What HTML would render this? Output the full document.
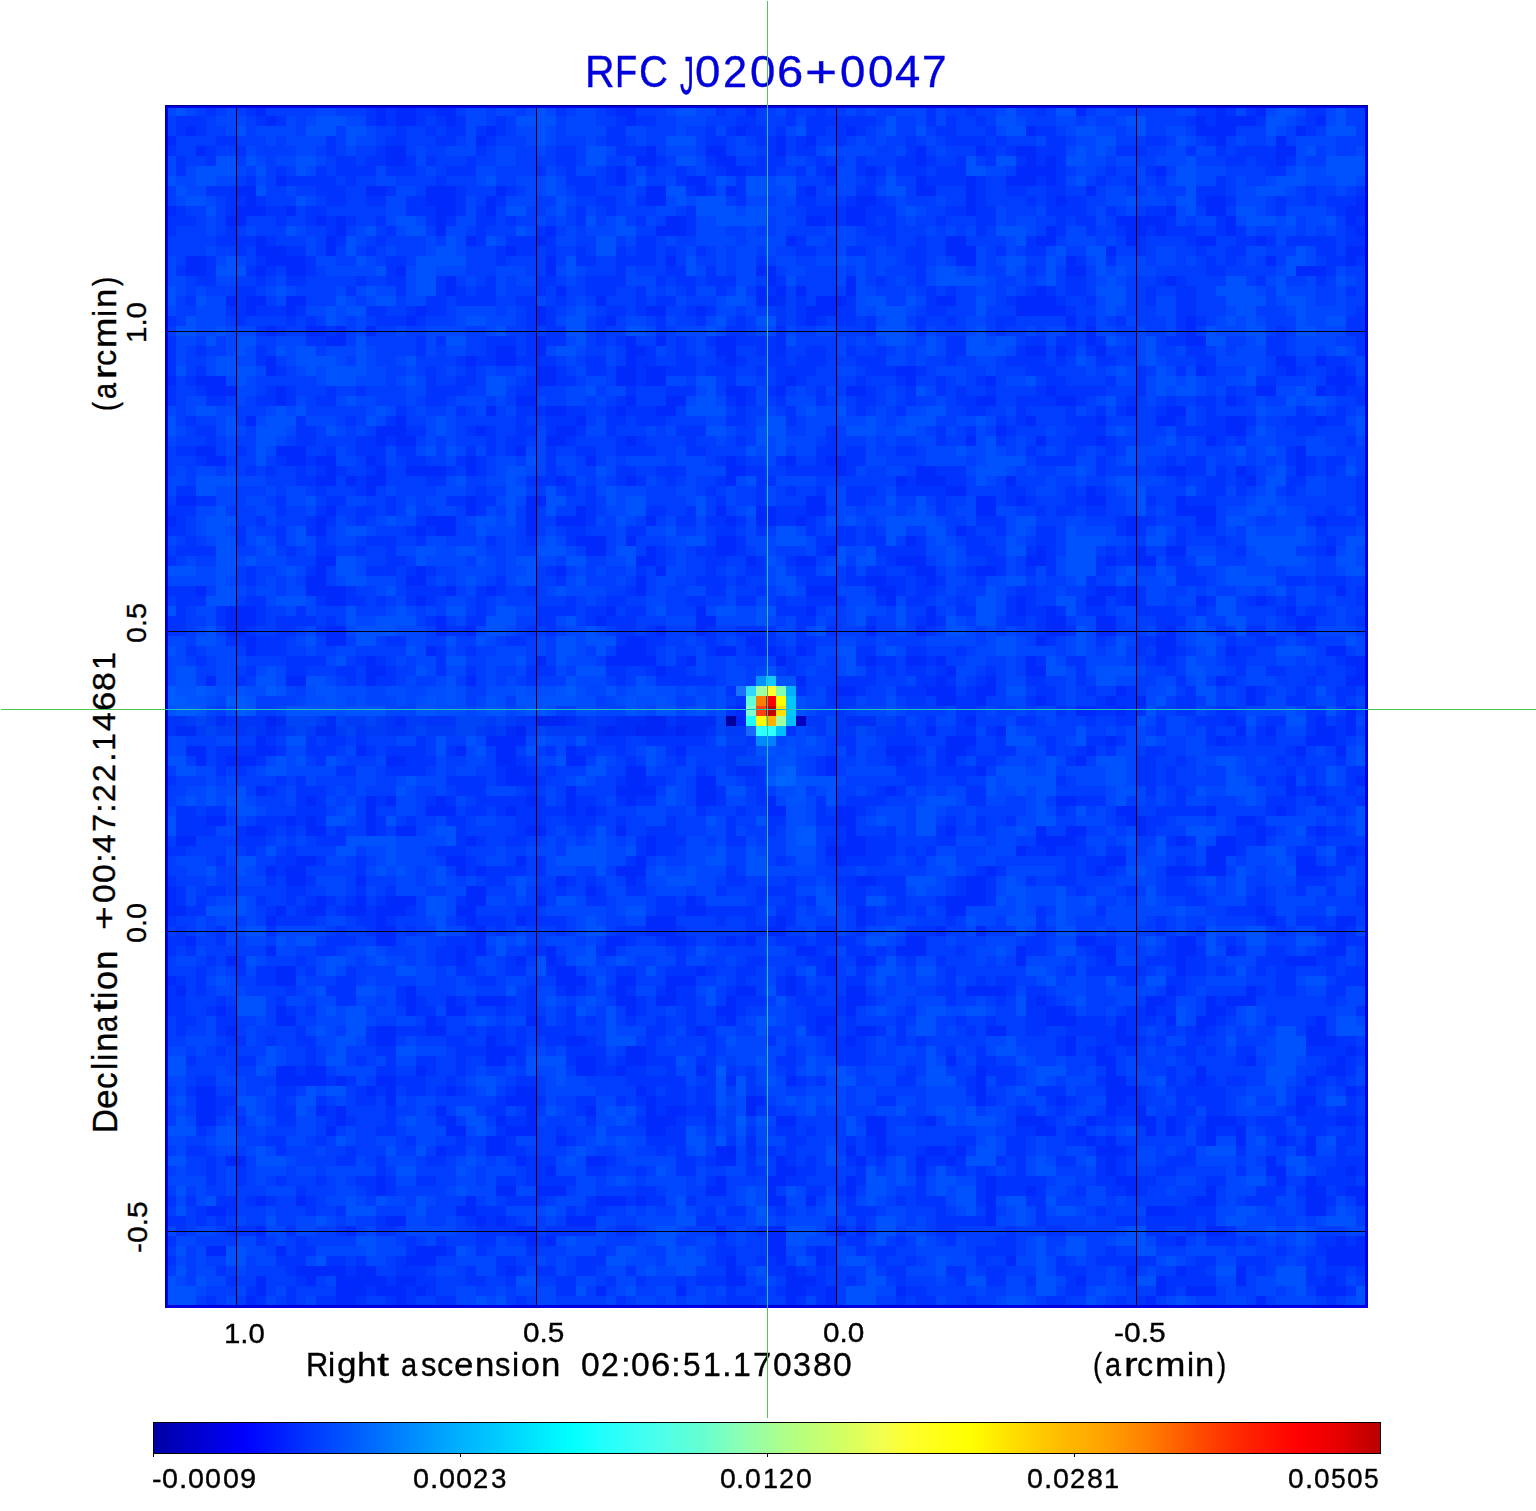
<!DOCTYPE html>
<html><head><meta charset="utf-8"><style>
html,body{margin:0;padding:0;background:#fff;width:1536px;height:1511px;overflow:hidden}
.a{position:absolute;display:block}
.t{position:absolute;font-family:"Liberation Sans",sans-serif;line-height:1;white-space:pre;transform-origin:0 0;-webkit-text-stroke:0.35px currentColor}
</style></head><body>
<svg class="a" style="left:166px;top:106px;filter:blur(0.6px)" width="1200" height="1200" viewBox="0 0 1200 1200"><rect width="1200" height="1200" fill="rgb(0,61,255)"/><path fill="rgb(0,41,252)" d="M90 0h10v10H90zM210 0h10v10H210zM230 0h20v10H230zM270 0h20v10H270zM450 0h20v10H450zM580 0h10v10H580zM910 0h10v10H910zM1050 0h10v10H1050zM1090 0h10v10H1090zM100 10h10v10H100zM210 10h10v10H210zM230 10h20v10H230zM280 10h10v10H280zM460 10h10v10H460zM1030 10h10v10H1030zM1050 10h40v10H1050zM1150 10h10v10H1150zM20 20h10v10H20zM320 20h10v10H320zM570 20h10v10H570zM680 20h10v10H680zM860 20h10v10H860zM1030 20h40v10H1030zM1130 20h10v10H1130zM0 30h10v10H0zM310 30h10v10H310zM610 30h10v10H610zM640 30h10v10H640zM1050 30h10v10H1050zM1110 30h10v10H1110zM30 40h10v10H30zM220 40h20v10H220zM480 40h10v10H480zM540 40h20v10H540zM610 40h10v10H610zM750 40h10v10H750zM810 40h10v10H810zM850 40h20v10H850zM1110 40h20v10H1110zM220 50h20v10H220zM470 50h20v10H470zM550 50h20v10H550zM750 50h10v10H750zM860 50h10v10H860zM880 50h10v10H880zM1110 50h10v10H1110zM450 60h10v10H450zM560 60h20v10H560zM660 60h10v10H660zM700 60h10v10H700zM850 60h40v10H850zM990 60h10v10H990zM110 70h10v10H110zM450 70h10v10H450zM520 70h20v10H520zM750 70h10v10H750zM800 70h10v10H800zM840 70h30v10H840zM880 70h10v10H880zM70 80h20v10H70zM200 80h20v10H200zM260 80h30v10H260zM330 80h10v10H330zM480 80h20v10H480zM530 80h10v10H530zM560 80h10v10H560zM640 80h10v10H640zM750 80h20v10H750zM800 80h10v10H800zM920 80h10v10H920zM80 90h10v10H80zM260 90h30v10H260zM320 90h10v10H320zM480 90h20v10H480zM690 90h20v10H690zM800 90h10v10H800zM890 90h10v10H890zM1040 90h20v10H1040zM1190 90h10v10H1190zM0 100h10v10H0zM70 100h30v10H70zM120 100h10v10H120zM270 100h20v10H270zM320 100h10v10H320zM680 100h20v10H680zM800 100h10v10H800zM1000 100h10v10H1000zM1040 100h20v10H1040zM1180 100h20v10H1180zM60 110h20v10H60zM150 110h10v10H150zM170 110h10v10H170zM270 110h10v10H270zM500 110h20v10H500zM640 110h20v10H640zM680 110h20v10H680zM950 110h50v10H950zM1060 110h10v10H1060zM1180 110h10v10H1180zM170 120h10v10H170zM270 120h10v10H270zM380 120h10v10H380zM490 120h30v10H490zM880 120h10v10H880zM960 120h20v10H960zM990 120h10v10H990zM1060 120h10v10H1060zM1190 120h10v10H1190zM90 130h10v10H90zM160 130h10v10H160zM300 130h10v10H300zM370 130h10v10H370zM620 130h10v10H620zM780 130h20v10H780zM870 130h20v10H870zM960 130h10v10H960zM1030 130h20v10H1030zM1090 130h10v10H1090zM90 140h30v10H90zM160 140h10v10H160zM340 140h10v10H340zM780 140h30v10H780zM940 140h10v10H940zM1180 140h20v10H1180zM20 150h20v10H20zM100 150h40v10H100zM380 150h10v10H380zM500 150h10v10H500zM790 150h20v10H790zM900 150h10v10H900zM1100 150h10v10H1100zM1180 150h10v10H1180zM20 160h20v10H20zM90 160h10v10H90zM120 160h20v10H120zM230 160h10v10H230zM380 160h10v10H380zM590 160h20v10H590zM900 160h20v10H900zM1130 160h30v10H1130zM280 170h10v10H280zM600 170h10v10H600zM680 170h10v10H680zM1000 170h10v10H1000zM280 180h10v10H280zM390 180h10v10H390zM590 180h10v10H590zM610 180h30v10H610zM680 180h10v10H680zM870 180h10v10H870zM60 190h10v10H60zM80 190h20v10H80zM120 190h20v10H120zM430 190h10v10H430zM590 190h20v10H590zM620 190h10v10H620zM650 190h30v10H650zM770 190h20v10H770zM850 190h40v10H850zM80 200h10v10H80zM120 200h10v10H120zM250 200h10v10H250zM370 200h10v10H370zM480 200h20v10H480zM530 200h10v10H530zM620 200h10v10H620zM640 200h30v10H640zM850 200h50v10H850zM240 210h10v10H240zM370 210h10v10H370zM440 210h10v10H440zM620 210h10v10H620zM640 210h10v10H640zM690 210h10v10H690zM900 210h10v10H900zM1020 210h10v10H1020zM100 220h10v10H100zM140 220h20v10H140zM170 220h10v10H170zM200 220h10v10H200zM920 220h10v10H920zM1020 220h10v10H1020zM160 230h20v10H160zM370 230h10v10H370zM460 230h10v10H460zM490 230h10v10H490zM550 230h20v10H550zM920 230h10v10H920zM1020 230h20v10H1020zM330 240h20v10H330zM370 240h10v10H370zM460 240h20v10H460zM550 240h20v10H550zM860 240h20v10H860zM890 240h10v10H890zM930 240h10v10H930zM100 250h10v10H100zM300 250h10v10H300zM330 250h20v10H330zM460 250h10v10H460zM560 250h10v10H560zM1110 250h20v10H1110zM1150 250h10v10H1150zM100 260h10v10H100zM370 260h20v10H370zM450 260h20v10H450zM480 260h20v10H480zM730 260h20v10H730zM1030 260h10v10H1030zM1120 260h10v10H1120zM1170 260h10v10H1170zM0 270h10v10H0zM30 270h30v10H30zM370 270h20v10H370zM450 270h20v10H450zM480 270h20v10H480zM620 270h10v10H620zM740 270h10v10H740zM820 270h10v10H820zM1160 270h30v10H1160zM40 280h30v10H40zM110 280h10v10H110zM560 280h20v10H560zM610 280h10v10H610zM680 280h20v10H680zM880 280h10v10H880zM1090 280h20v10H1090zM1150 280h10v10H1150zM1170 280h10v10H1170zM110 290h10v10H110zM350 290h20v10H350zM460 290h10v10H460zM500 290h20v10H500zM570 290h10v10H570zM810 290h20v10H810zM890 290h20v10H890zM1060 290h10v10H1060zM320 300h10v10H320zM380 300h20v10H380zM450 300h10v10H450zM490 300h20v10H490zM960 300h10v10H960zM1000 300h20v10H1000zM80 310h10v10H80zM230 310h10v10H230zM410 310h10v10H410zM860 310h10v10H860zM930 310h10v10H930zM990 310h20v10H990zM1060 310h20v10H1060zM1150 310h10v10H1150zM210 320h30v10H210zM310 320h10v10H310zM390 320h20v10H390zM830 320h10v10H830zM1060 320h20v10H1060zM210 330h10v10H210zM230 330h20v10H230zM380 330h20v10H380zM460 330h10v10H460zM800 330h10v10H800zM870 330h10v10H870zM930 330h10v10H930zM1040 330h10v10H1040zM30 340h20v10H30zM110 340h30v10H110zM350 340h10v10H350zM1130 340h10v10H1130zM40 350h20v10H40zM120 350h20v10H120zM150 350h20v10H150zM200 350h10v10H200zM300 350h10v10H300zM420 350h10v10H420zM560 350h10v10H560zM620 350h10v10H620zM660 350h20v10H660zM1130 350h10v10H1130zM160 360h10v10H160zM210 360h10v10H210zM240 360h40v10H240zM300 360h10v10H300zM560 360h20v10H560zM670 360h10v10H670zM750 360h20v10H750zM1000 360h20v10H1000zM1070 360h10v10H1070zM1130 360h10v10H1130zM150 370h20v10H150zM180 370h10v10H180zM200 370h20v10H200zM390 370h10v10H390zM460 370h10v10H460zM560 370h10v10H560zM730 370h10v10H730zM750 370h30v10H750zM840 370h10v10H840zM1080 370h10v10H1080zM200 380h10v10H200zM780 380h20v10H780zM920 380h10v10H920zM10 390h20v10H10zM300 390h10v10H300zM360 390h20v10H360zM640 390h20v10H640zM810 390h20v10H810zM850 390h10v10H850zM920 390h20v10H920zM1010 390h10v10H1010zM160 400h10v10H160zM300 400h10v10H300zM360 400h10v10H360zM410 400h10v10H410zM550 400h10v10H550zM590 400h20v10H590zM640 400h20v10H640zM810 400h20v10H810zM1010 400h40v10H1010zM0 410h10v10H0zM150 410h10v10H150zM260 410h30v10H260zM360 410h10v10H360zM390 410h30v10H390zM480 410h10v10H480zM560 410h10v10H560zM590 410h20v10H590zM630 410h10v10H630zM960 410h10v10H960zM1030 410h20v10H1030zM1150 410h10v10H1150zM150 420h10v10H150zM250 420h10v10H250zM270 420h20v10H270zM360 420h10v10H360zM790 420h10v10H790zM960 420h10v10H960zM410 430h30v10H410zM460 430h10v10H460zM550 430h20v10H550zM740 430h10v10H740zM420 440h20v10H420zM480 440h10v10H480zM550 440h20v10H550zM660 440h10v10H660zM870 440h10v10H870zM970 440h10v10H970zM1000 440h20v10H1000zM1160 440h10v10H1160zM150 450h20v10H150zM470 450h20v10H470zM580 450h10v10H580zM630 450h20v10H630zM730 450h30v10H730zM860 450h20v10H860zM940 450h10v10H940zM970 450h20v10H970zM150 460h10v10H150zM250 460h10v10H250zM390 460h10v10H390zM490 460h10v10H490zM750 460h20v10H750zM810 460h20v10H810zM140 470h20v10H140zM240 470h20v10H240zM470 470h10v10H470zM700 470h20v10H700zM760 470h10v10H760zM30 480h10v10H30zM140 480h40v10H140zM280 480h10v10H280zM320 480h10v10H320zM470 480h10v10H470zM640 480h30v10H640zM710 480h20v10H710zM930 480h20v10H930zM960 480h10v10H960zM1170 480h10v10H1170zM160 490h20v10H160zM250 490h10v10H250zM720 490h10v10H720zM850 490h10v10H850zM920 490h20v10H920zM960 490h10v10H960zM1030 490h10v10H1030zM1090 490h10v10H1090zM60 500h30v10H60zM440 500h10v10H440zM530 500h10v10H530zM640 500h10v10H640zM760 500h10v10H760zM850 500h10v10H850zM880 500h10v10H880zM1120 500h10v10H1120zM60 510h30v10H60zM270 510h10v10H270zM430 510h10v10H430zM530 510h20v10H530zM760 510h10v10H760zM880 510h20v10H880zM930 510h20v10H930zM1130 510h20v10H1130zM60 520h20v10H60zM160 520h20v10H160zM270 520h10v10H270zM300 520h10v10H300zM490 520h10v10H490zM530 520h10v10H530zM700 520h10v10H700zM750 520h10v10H750zM880 520h20v10H880zM930 520h20v10H930zM1000 520h10v10H1000zM1130 520h10v10H1130zM80 530h10v10H80zM160 530h20v10H160zM460 530h20v10H460zM580 530h20v10H580zM870 530h10v10H870zM990 530h20v10H990zM80 540h10v10H80zM260 540h10v10H260zM450 540h30v10H450zM550 540h20v10H550zM590 540h20v10H590zM630 540h10v10H630zM990 540h20v10H990zM1060 540h10v10H1060zM1160 540h20v10H1160zM200 550h10v10H200zM370 550h10v10H370zM440 550h50v10H440zM520 550h10v10H520zM610 550h10v10H610zM700 550h10v10H700zM740 550h20v10H740zM770 550h10v10H770zM860 550h10v10H860zM990 550h10v10H990zM1180 550h20v10H1180zM200 560h20v10H200zM490 560h10v10H490zM780 560h10v10H780zM860 560h20v10H860zM1190 560h10v10H1190zM40 570h10v10H40zM120 570h20v10H120zM200 570h10v10H200zM300 570h10v10H300zM630 570h10v10H630zM770 570h10v10H770zM820 570h10v10H820zM1050 570h10v10H1050zM1180 570h20v10H1180zM130 580h10v10H130zM300 580h20v10H300zM670 580h20v10H670zM760 580h30v10H760zM810 580h20v10H810zM950 580h10v10H950zM1080 580h10v10H1080zM90 590h40v10H90zM300 590h10v10H300zM340 590h10v10H340zM430 590h10v10H430zM510 590h20v10H510zM590 590h10v10H590zM660 590h30v10H660zM740 590h20v10H740zM770 590h20v10H770zM810 590h10v10H810zM870 590h10v10H870zM940 590h10v10H940zM970 590h10v10H970zM1080 590h10v10H1080zM50 600h10v10H50zM90 600h20v10H90zM390 600h20v10H390zM570 600h10v10H570zM670 600h10v10H670zM910 600h20v10H910zM950 600h10v10H950zM1180 600h10v10H1180zM100 610h10v10H100zM370 610h30v10H370zM480 610h20v10H480zM570 610h10v10H570zM800 610h10v10H800zM1060 610h10v10H1060zM1150 610h10v10H1150zM1180 610h10v10H1180zM350 620h10v10H350zM440 620h10v10H440zM470 620h30v10H470zM510 620h10v10H510zM760 620h10v10H760zM830 620h10v10H830zM1070 620h10v10H1070zM1100 620h10v10H1100zM1150 620h20v10H1150zM1180 620h10v10H1180zM90 630h10v10H90zM320 630h40v10H320zM610 630h10v10H610zM780 630h30v10H780zM940 630h10v10H940zM1050 630h10v10H1050zM1140 630h30v10H1140zM20 640h20v10H20zM90 640h20v10H90zM190 640h10v10H190zM290 640h10v10H290zM330 640h20v10H330zM400 640h10v10H400zM510 640h10v10H510zM720 640h30v10H720zM780 640h20v10H780zM920 640h10v10H920zM1130 640h10v10H1130zM1170 640h10v10H1170zM30 650h10v10H30zM60 650h30v10H60zM220 650h20v10H220zM330 650h20v10H330zM400 650h20v10H400zM610 650h20v10H610zM660 650h10v10H660zM730 650h10v10H730zM780 650h10v10H780zM910 650h10v10H910zM340 660h20v10H340zM460 660h20v10H460zM660 660h10v10H660zM810 660h10v10H810zM340 670h30v10H340zM460 670h20v10H460zM530 670h20v10H530zM1120 670h10v10H1120zM1190 670h10v10H1190zM90 680h10v10H90zM400 680h10v10H400zM450 680h40v10H450zM530 680h20v10H530zM720 680h10v10H720zM1120 680h10v10H1120zM1140 680h10v10H1140zM140 690h10v10H140zM200 690h10v10H200zM220 690h10v10H220zM270 690h10v10H270zM360 690h10v10H360zM400 690h10v10H400zM460 690h10v10H460zM530 690h20v10H530zM600 690h10v10H600zM890 690h20v10H890zM1150 690h10v10H1150zM200 700h10v10H200zM260 700h30v10H260zM340 700h10v10H340zM400 700h10v10H400zM420 700h10v10H420zM600 700h20v10H600zM670 700h20v10H670zM950 700h20v10H950zM1040 700h10v10H1040zM1110 700h10v10H1110zM40 710h20v10H40zM120 710h10v10H120zM140 710h10v10H140zM200 710h10v10H200zM670 710h20v10H670zM960 710h20v10H960zM1070 710h20v10H1070zM80 720h20v10H80zM140 720h20v10H140zM200 720h10v10H200zM230 720h20v10H230zM360 720h20v10H360zM450 720h10v10H450zM680 720h10v10H680zM780 720h10v10H780zM870 720h10v10H870zM900 720h20v10H900zM970 720h10v10H970zM1090 720h10v10H1090zM1150 720h10v10H1150zM10 730h20v10H10zM300 730h10v10H300zM480 730h10v10H480zM680 730h20v10H680zM870 730h40v10H870zM1010 730h10v10H1010zM1050 730h20v10H1050zM1090 730h10v10H1090zM480 740h10v10H480zM660 740h40v10H660zM850 740h10v10H850zM880 740h10v10H880zM1040 740h30v10H1040zM1180 740h10v10H1180zM130 750h20v10H130zM280 750h20v10H280zM350 750h10v10H350zM470 750h10v10H470zM670 750h10v10H670zM940 750h20v10H940zM1040 750h20v10H1040zM1130 750h20v10H1130zM100 760h10v10H100zM120 760h20v10H120zM290 760h10v10H290zM310 760h10v10H310zM450 760h30v10H450zM820 760h10v10H820zM930 760h10v10H930zM1000 760h30v10H1000zM1040 760h20v10H1040zM1130 760h30v10H1130zM120 770h20v10H120zM190 770h10v10H190zM390 770h10v10H390zM460 770h10v10H460zM690 770h20v10H690zM800 770h20v10H800zM0 780h10v10H0zM300 780h20v10H300zM420 780h10v10H420zM800 780h20v10H800zM0 790h10v10H0zM150 790h10v10H150zM190 790h10v10H190zM220 790h30v10H220zM300 790h20v10H300zM370 790h10v10H370zM520 790h10v10H520zM780 790h40v10H780zM0 800h20v10H0zM110 800h10v10H110zM140 800h20v10H140zM180 800h20v10H180zM210 800h30v10H210zM290 800h20v10H290zM520 800h20v10H520zM690 800h10v10H690zM780 800h20v10H780zM1090 800h10v10H1090zM100 810h10v10H100zM210 810h10v10H210zM300 810h10v10H300zM350 810h10v10H350zM480 810h30v10H480zM610 810h10v10H610zM690 810h10v10H690zM1100 810h10v10H1100zM1170 810h20v10H1170zM210 820h20v10H210zM310 820h10v10H310zM480 820h30v10H480zM600 820h20v10H600zM770 820h10v10H770zM810 820h10v10H810zM1170 820h10v10H1170zM20 830h10v10H20zM210 830h20v10H210zM310 830h10v10H310zM440 830h20v10H440zM500 830h20v10H500zM560 830h10v10H560zM580 830h10v10H580zM740 830h20v10H740zM910 830h20v10H910zM1010 830h20v10H1010zM1170 830h10v10H1170zM100 840h10v10H100zM290 840h10v10H290zM310 840h10v10H310zM380 840h10v10H380zM440 840h10v10H440zM630 840h20v10H630zM730 840h30v10H730zM850 840h10v10H850zM930 840h20v10H930zM1010 840h20v10H1010zM1060 840h10v10H1060zM1160 840h20v10H1160zM60 850h10v10H60zM290 850h10v10H290zM350 850h10v10H350zM380 850h10v10H380zM660 850h10v10H660zM690 850h20v10H690zM850 850h10v10H850zM940 850h10v10H940zM1010 850h10v10H1010zM1120 850h30v10H1120zM110 860h20v10H110zM390 860h20v10H390zM530 860h10v10H530zM660 860h10v10H660zM1010 860h10v10H1010zM0 870h10v10H0zM110 870h20v10H110zM390 870h30v10H390zM450 870h20v10H450zM500 870h30v10H500zM620 870h10v10H620zM10 880h10v10H10zM240 880h10v10H240zM400 880h10v10H400zM450 880h10v10H450zM500 880h10v10H500zM570 880h20v10H570zM620 880h10v10H620zM680 880h20v10H680zM800 880h40v10H800zM1000 880h10v10H1000zM1080 880h10v10H1080zM240 890h10v10H240zM280 890h10v10H280zM310 890h30v10H310zM450 890h20v10H450zM490 890h20v10H490zM560 890h10v10H560zM680 890h20v10H680zM870 890h10v10H870zM980 890h20v10H980zM1040 890h10v10H1040zM1060 890h30v10H1060zM50 900h10v10H50zM110 900h10v10H110zM240 900h10v10H240zM280 900h20v10H280zM460 900h10v10H460zM550 900h20v10H550zM680 900h10v10H680zM880 900h20v10H880zM980 900h10v10H980zM1040 900h20v10H1040zM110 910h20v10H110zM260 910h10v10H260zM360 910h10v10H360zM560 910h10v10H560zM650 910h20v10H650zM880 910h30v10H880zM950 910h10v10H950zM1000 910h10v10H1000zM1030 910h20v10H1030zM1150 910h10v10H1150zM60 920h10v10H60zM210 920h20v10H210zM260 920h20v10H260zM530 920h10v10H530zM650 920h10v10H650zM690 920h20v10H690zM820 920h20v10H820zM950 920h10v10H950zM1030 920h10v10H1030zM1140 920h20v10H1140zM210 930h20v10H210zM320 930h10v10H320zM400 930h20v10H400zM680 930h10v10H680zM900 930h10v10H900zM950 930h20v10H950zM1140 930h30v10H1140zM320 940h30v10H320zM460 940h20v10H460zM900 940h10v10H900zM930 940h10v10H930zM1180 940h10v10H1180zM320 950h20v10H320zM410 950h20v10H410zM460 950h20v10H460zM780 950h10v10H780zM930 950h20v10H930zM1080 950h10v10H1080zM1170 950h10v10H1170zM110 960h20v10H110zM140 960h20v10H140zM250 960h10v10H250zM410 960h20v10H410zM450 960h10v10H450zM530 960h10v10H530zM810 960h10v10H810zM940 960h10v10H940zM1030 960h10v10H1030zM1160 960h20v10H1160zM110 970h50v10H110zM170 970h10v10H170zM210 970h20v10H210zM620 970h10v10H620zM810 970h10v10H810zM940 970h20v10H940zM1030 970h10v10H1030zM1140 970h10v10H1140zM30 980h20v10H30zM200 980h10v10H200zM220 980h10v10H220zM280 980h10v10H280zM350 980h20v10H350zM470 980h10v10H470zM810 980h10v10H810zM940 980h30v10H940zM1180 980h10v10H1180zM30 990h20v10H30zM220 990h10v10H220zM340 990h30v10H340zM480 990h10v10H480zM580 990h20v10H580zM810 990h10v10H810zM890 990h10v10H890zM940 990h20v10H940zM1130 990h20v10H1130zM30 1000h20v10H30zM150 1000h10v10H150zM170 1000h10v10H170zM270 1000h10v10H270zM360 1000h10v10H360zM420 1000h10v10H420zM480 1000h10v10H480zM500 1000h20v10H500zM580 1000h20v10H580zM940 1000h10v10H940zM970 1000h10v10H970zM1130 1000h10v10H1130zM30 1010h20v10H30zM170 1010h10v10H170zM280 1010h10v10H280zM330 1010h10v10H330zM360 1010h10v10H360zM480 1010h30v10H480zM610 1010h20v10H610zM700 1010h20v10H700zM760 1010h10v10H760zM850 1010h30v10H850zM920 1010h10v10H920zM970 1010h20v10H970zM1000 1010h10v10H1000zM1040 1010h30v10H1040zM1170 1010h20v10H1170zM160 1020h10v10H160zM280 1020h20v10H280zM340 1020h30v10H340zM480 1020h20v10H480zM700 1020h20v10H700zM870 1020h20v10H870zM910 1020h10v10H910zM980 1020h10v10H980zM1000 1020h10v10H1000zM1040 1020h10v10H1040zM1070 1020h10v10H1070zM320 1030h20v10H320zM390 1030h10v10H390zM710 1030h10v10H710zM920 1030h10v10H920zM940 1030h10v10H940zM1040 1030h10v10H1040zM1070 1030h10v10H1070zM1110 1030h10v10H1110zM1140 1030h10v10H1140zM270 1040h10v10H270zM320 1040h20v10H320zM550 1040h20v10H550zM680 1040h10v10H680zM710 1040h10v10H710zM760 1040h20v10H760zM790 1040h10v10H790zM930 1040h30v10H930zM1140 1040h10v10H1140zM60 1050h20v10H60zM350 1050h10v10H350zM420 1050h20v10H420zM550 1050h20v10H550zM610 1050h10v10H610zM690 1050h10v10H690zM750 1050h10v10H750zM780 1050h10v10H780zM940 1050h10v10H940zM1100 1050h10v10H1100zM380 1060h10v10H380zM590 1060h10v10H590zM610 1060h20v10H610zM750 1060h10v10H750zM940 1060h10v10H940zM1100 1060h20v10H1100zM1180 1060h10v10H1180zM210 1070h10v10H210zM550 1070h10v10H550zM600 1070h20v10H600zM680 1070h10v10H680zM820 1070h10v10H820zM950 1070h20v10H950zM1110 1070h10v10H1110zM1140 1070h10v10H1140zM210 1080h10v10H210zM330 1080h20v10H330zM370 1080h30v10H370zM540 1080h20v10H540zM600 1080h10v10H600zM680 1080h10v10H680zM820 1080h10v10H820zM860 1080h10v10H860zM960 1080h10v10H960zM1040 1080h10v10H1040zM1140 1080h20v10H1140zM1180 1080h20v10H1180zM90 1090h10v10H90zM130 1090h10v10H130zM300 1090h10v10H300zM430 1090h30v10H430zM470 1090h10v10H470zM600 1090h20v10H600zM640 1090h10v10H640zM820 1090h10v10H820zM1030 1090h20v10H1030zM1140 1090h20v10H1140zM1190 1090h10v10H1190zM40 1100h20v10H40zM290 1100h20v10H290zM820 1100h10v10H820zM980 1100h30v10H980zM1140 1100h20v10H1140zM220 1110h20v10H220zM310 1110h10v10H310zM330 1110h10v10H330zM400 1110h30v10H400zM820 1110h10v10H820zM90 1120h10v10H90zM180 1120h10v10H180zM350 1120h20v10H350zM550 1120h10v10H550zM600 1120h20v10H600zM670 1120h10v10H670zM690 1120h10v10H690zM1040 1120h20v10H1040zM360 1130h10v10H360zM380 1130h10v10H380zM600 1130h20v10H600zM1010 1130h10v10H1010zM1170 1130h10v10H1170zM1190 1130h10v10H1190zM40 1140h20v10H40zM110 1140h10v10H110zM250 1140h30v10H250zM600 1140h20v10H600zM650 1140h10v10H650zM1160 1140h40v10H1160zM240 1150h30v10H240zM560 1150h10v10H560zM610 1150h10v10H610zM650 1150h10v10H650zM840 1150h10v10H840zM1160 1150h40v10H1160zM130 1160h50v10H130zM190 1160h20v10H190zM340 1160h10v10H340zM560 1160h10v10H560zM620 1160h10v10H620zM960 1160h10v10H960zM1010 1160h10v10H1010zM1070 1160h10v10H1070zM90 1170h10v10H90zM140 1170h10v10H140zM170 1170h50v10H170zM230 1170h20v10H230zM560 1170h20v10H560zM620 1170h30v10H620zM910 1170h10v10H910zM990 1170h10v10H990zM1070 1170h10v10H1070zM1160 1170h10v10H1160zM90 1180h10v10H90zM170 1180h30v10H170zM210 1180h30v10H210zM250 1180h10v10H250zM430 1180h10v10H430zM510 1180h10v10H510zM620 1180h20v10H620zM660 1180h10v10H660zM730 1180h10v10H730zM990 1180h10v10H990zM1020 1180h30v10H1020zM1150 1180h30v10H1150zM80 1190h10v10H80zM170 1190h20v10H170zM230 1190h10v10H230zM620 1190h10v10H620zM660 1190h10v10H660zM980 1190h10v10H980zM1090 1190h10v10H1090z"/><path fill="rgb(0,51,254)" d="M40 0h10v10H40zM80 0h10v10H80zM200 0h10v10H200zM220 0h10v10H220zM250 0h20v10H250zM390 0h10v10H390zM440 0h10v10H440zM550 0h10v10H550zM620 0h10v10H620zM650 0h10v10H650zM760 0h10v10H760zM800 0h10v10H800zM870 0h10v10H870zM1030 0h20v10H1030zM1060 0h10v10H1060zM1080 0h10v10H1080zM1140 0h20v10H1140zM10 10h30v10H10zM90 10h10v10H90zM110 10h10v10H110zM200 10h10v10H200zM220 10h10v10H220zM250 10h10v10H250zM270 10h10v10H270zM290 10h10v10H290zM330 10h10v10H330zM450 10h10v10H450zM470 10h20v10H470zM570 10h20v10H570zM620 10h10v10H620zM640 10h70v10H640zM760 10h10v10H760zM780 10h10v10H780zM810 10h10v10H810zM1020 10h10v10H1020zM1040 10h10v10H1040zM1090 10h10v10H1090zM1140 10h10v10H1140zM10 20h10v10H10zM30 20h10v10H30zM230 20h10v10H230zM260 20h10v10H260zM280 20h20v10H280zM310 20h10v10H310zM330 20h10v10H330zM440 20h20v10H440zM540 20h10v10H540zM560 20h10v10H560zM580 20h20v10H580zM610 20h10v10H610zM640 20h20v10H640zM670 20h10v10H670zM690 20h10v10H690zM770 20h20v10H770zM820 20h10v10H820zM870 20h20v10H870zM1140 20h10v10H1140zM50 30h20v10H50zM160 30h10v10H160zM220 30h20v10H220zM270 30h20v10H270zM320 30h10v10H320zM440 30h20v10H440zM540 30h20v10H540zM590 30h20v10H590zM630 30h10v10H630zM670 30h10v10H670zM740 30h10v10H740zM780 30h40v10H780zM830 30h10v10H830zM880 30h20v10H880zM980 30h20v10H980zM1040 30h10v10H1040zM0 40h10v10H0zM40 40h10v10H40zM70 40h10v10H70zM160 40h10v10H160zM210 40h10v10H210zM310 40h10v10H310zM390 40h20v10H390zM450 40h30v10H450zM600 40h10v10H600zM630 40h20v10H630zM740 40h10v10H740zM820 40h10v10H820zM840 40h10v10H840zM870 40h30v10H870zM950 40h30v10H950zM1020 40h10v10H1020zM1050 40h10v10H1050zM1070 40h40v10H1070zM10 50h10v10H10zM40 50h10v10H40zM170 50h20v10H170zM200 50h20v10H200zM240 50h10v10H240zM260 50h10v10H260zM300 50h10v10H300zM390 50h20v10H390zM490 50h10v10H490zM540 50h10v10H540zM590 50h30v10H590zM650 50h10v10H650zM690 50h10v10H690zM730 50h20v10H730zM760 50h10v10H760zM790 50h10v10H790zM820 50h10v10H820zM850 50h10v10H850zM870 50h10v10H870zM890 50h10v10H890zM1060 50h20v10H1060zM1090 50h20v10H1090zM1120 50h10v10H1120zM10 60h10v10H10zM110 60h10v10H110zM150 60h10v10H150zM170 60h40v10H170zM220 60h30v10H220zM280 60h30v10H280zM370 60h10v10H370zM400 60h10v10H400zM440 60h10v10H440zM480 60h10v10H480zM510 60h10v10H510zM550 60h10v10H550zM580 60h30v10H580zM630 60h10v10H630zM650 60h10v10H650zM690 60h10v10H690zM710 60h10v10H710zM730 60h30v10H730zM770 60h30v10H770zM890 60h10v10H890zM940 60h10v10H940zM980 60h10v10H980zM1100 60h20v10H1100zM80 70h10v10H80zM120 70h50v10H120zM180 70h10v10H180zM270 70h10v10H270zM400 70h30v10H400zM440 70h10v10H440zM510 70h10v10H510zM570 70h10v10H570zM660 70h10v10H660zM700 70h10v10H700zM760 70h40v10H760zM810 70h10v10H810zM870 70h10v10H870zM890 70h10v10H890zM930 70h10v10H930zM960 70h10v10H960zM990 70h10v10H990zM1050 70h10v10H1050zM40 80h30v10H40zM150 80h30v10H150zM220 80h10v10H220zM290 80h10v10H290zM340 80h10v10H340zM410 80h20v10H410zM520 80h10v10H520zM540 80h10v10H540zM570 80h10v10H570zM630 80h10v10H630zM690 80h20v10H690zM810 80h10v10H810zM840 80h20v10H840zM880 80h20v10H880zM1030 80h30v10H1030zM1140 80h10v10H1140zM1190 80h10v10H1190zM60 90h20v10H60zM90 90h10v10H90zM160 90h20v10H160zM200 90h20v10H200zM240 90h20v10H240zM290 90h10v10H290zM330 90h10v10H330zM430 90h20v10H430zM470 90h10v10H470zM570 90h10v10H570zM630 90h20v10H630zM680 90h10v10H680zM710 90h10v10H710zM810 90h10v10H810zM860 90h10v10H860zM880 90h10v10H880zM900 90h20v10H900zM1030 90h10v10H1030zM1060 90h10v10H1060zM1110 90h10v10H1110zM1140 90h10v10H1140zM1160 90h30v10H1160zM10 100h10v10H10zM60 100h10v10H60zM100 100h20v10H100zM140 100h20v10H140zM240 100h30v10H240zM290 100h10v10H290zM310 100h10v10H310zM410 100h10v10H410zM440 100h10v10H440zM520 100h10v10H520zM640 100h40v10H640zM700 100h30v10H700zM780 100h20v10H780zM810 100h20v10H810zM880 100h40v10H880zM940 100h10v10H940zM980 100h20v10H980zM1110 100h10v10H1110zM1170 100h10v10H1170zM0 110h30v10H0zM110 110h10v10H110zM140 110h10v10H140zM160 110h10v10H160zM180 110h10v10H180zM210 110h10v10H210zM260 110h10v10H260zM280 110h10v10H280zM310 110h20v10H310zM340 110h10v10H340zM410 110h10v10H410zM470 110h10v10H470zM520 110h10v10H520zM660 110h20v10H660zM700 110h10v10H700zM720 110h10v10H720zM770 110h10v10H770zM810 110h20v10H810zM890 110h10v10H890zM910 110h20v10H910zM1000 110h10v10H1000zM1050 110h10v10H1050zM1190 110h10v10H1190zM0 120h10v10H0zM60 120h10v10H60zM160 120h10v10H160zM220 120h10v10H220zM310 120h10v10H310zM370 120h10v10H370zM520 120h10v10H520zM700 120h30v10H700zM810 120h10v10H810zM890 120h10v10H890zM920 120h10v10H920zM950 120h10v10H950zM980 120h10v10H980zM1000 120h30v10H1000zM1050 120h10v10H1050zM1070 120h10v10H1070zM1180 120h10v10H1180zM50 130h40v10H50zM100 130h10v10H100zM170 130h10v10H170zM210 130h10v10H210zM310 130h10v10H310zM340 130h30v10H340zM380 130h10v10H380zM470 130h20v10H470zM630 130h10v10H630zM720 130h10v10H720zM750 130h10v10H750zM860 130h10v10H860zM970 130h10v10H970zM1020 130h10v10H1020zM1070 130h20v10H1070zM1100 130h10v10H1100zM1120 130h50v10H1120zM1180 130h20v10H1180zM70 140h10v10H70zM120 140h20v10H120zM200 140h10v10H200zM330 140h10v10H330zM350 140h20v10H350zM380 140h10v10H380zM410 140h10v10H410zM450 140h10v10H450zM470 140h20v10H470zM500 140h10v10H500zM530 140h10v10H530zM630 140h20v10H630zM680 140h20v10H680zM740 140h20v10H740zM830 140h10v10H830zM860 140h20v10H860zM970 140h10v10H970zM1030 140h10v10H1030zM1060 140h20v10H1060zM1150 140h20v10H1150zM40 150h10v10H40zM90 150h10v10H90zM140 150h10v10H140zM220 150h20v10H220zM330 150h10v10H330zM410 150h20v10H410zM450 150h40v10H450zM590 150h10v10H590zM740 150h20v10H740zM910 150h10v10H910zM940 150h10v10H940zM1040 150h10v10H1040zM1060 150h10v10H1060zM1160 150h20v10H1160zM1190 150h10v10H1190zM10 160h10v10H10zM40 160h10v10H40zM80 160h10v10H80zM100 160h10v10H100zM140 160h10v10H140zM220 160h10v10H220zM450 160h10v10H450zM500 160h20v10H500zM540 160h10v10H540zM750 160h10v10H750zM860 160h10v10H860zM1040 160h20v10H1040zM1160 160h10v10H1160zM30 170h20v10H30zM90 170h10v10H90zM120 170h20v10H120zM190 170h10v10H190zM220 170h20v10H220zM270 170h10v10H270zM320 170h10v10H320zM370 170h20v10H370zM420 170h40v10H420zM490 170h10v10H490zM510 170h20v10H510zM540 170h30v10H540zM610 170h10v10H610zM710 170h10v10H710zM750 170h10v10H750zM900 170h20v10H900zM990 170h10v10H990zM1010 170h10v10H1010zM1090 170h10v10H1090zM1150 170h10v10H1150zM70 180h20v10H70zM180 180h10v10H180zM230 180h10v10H230zM270 180h10v10H270zM290 180h10v10H290zM310 180h20v10H310zM370 180h10v10H370zM420 180h30v10H420zM470 180h10v10H470zM520 180h10v10H520zM550 180h10v10H550zM600 180h10v10H600zM760 180h10v10H760zM780 180h10v10H780zM860 180h10v10H860zM880 180h10v10H880zM900 180h20v10H900zM980 180h10v10H980zM1010 180h20v10H1010zM1180 180h10v10H1180zM20 190h10v10H20zM70 190h10v10H70zM260 190h20v10H260zM290 190h40v10H290zM350 190h20v10H350zM390 190h10v10H390zM470 190h10v10H470zM490 190h20v10H490zM610 190h10v10H610zM630 190h10v10H630zM680 190h10v10H680zM760 190h10v10H760zM840 190h10v10H840zM890 190h10v10H890zM920 190h10v10H920zM980 190h10v10H980zM1010 190h20v10H1010zM60 200h20v10H60zM90 200h30v10H90zM130 200h10v10H130zM200 200h20v10H200zM240 200h10v10H240zM260 200h20v10H260zM360 200h10v10H360zM380 200h10v10H380zM440 200h20v10H440zM470 200h10v10H470zM520 200h10v10H520zM540 200h10v10H540zM630 200h10v10H630zM670 200h20v10H670zM760 200h20v10H760zM900 200h10v10H900zM1010 200h20v10H1010zM1190 200h10v10H1190zM0 210h10v10H0zM70 210h10v10H70zM120 210h10v10H120zM140 210h10v10H140zM210 210h30v10H210zM250 210h10v10H250zM360 210h10v10H360zM380 210h10v10H380zM430 210h10v10H430zM490 210h10v10H490zM530 210h10v10H530zM570 210h10v10H570zM630 210h10v10H630zM650 210h10v10H650zM670 210h20v10H670zM700 210h10v10H700zM750 210h10v10H750zM780 210h10v10H780zM830 210h20v10H830zM920 210h10v10H920zM950 210h10v10H950zM1010 210h10v10H1010zM1030 210h10v10H1030zM1180 210h20v10H1180zM90 220h10v10H90zM110 220h10v10H110zM160 220h10v10H160zM360 220h10v10H360zM380 220h20v10H380zM430 220h10v10H430zM490 220h10v10H490zM560 220h20v10H560zM610 220h20v10H610zM700 220h10v10H700zM750 220h10v10H750zM830 220h10v10H830zM900 220h10v10H900zM1010 220h10v10H1010zM1110 220h10v10H1110zM1180 220h20v10H1180zM0 230h10v10H0zM140 230h20v10H140zM250 230h10v10H250zM270 230h10v10H270zM320 230h30v10H320zM360 230h10v10H360zM380 230h20v10H380zM430 230h10v10H430zM450 230h10v10H450zM510 230h10v10H510zM540 230h10v10H540zM570 230h50v10H570zM780 230h20v10H780zM860 230h20v10H860zM890 230h20v10H890zM930 230h10v10H930zM1000 230h20v10H1000zM1100 230h20v10H1100zM1190 230h10v10H1190zM0 240h10v10H0zM30 240h10v10H30zM90 240h10v10H90zM250 240h10v10H250zM320 240h10v10H320zM360 240h10v10H360zM480 240h10v10H480zM510 240h10v10H510zM590 240h30v10H590zM640 240h20v10H640zM680 240h10v10H680zM710 240h10v10H710zM780 240h20v10H780zM850 240h10v10H850zM900 240h10v10H900zM920 240h10v10H920zM960 240h10v10H960zM1020 240h20v10H1020zM1100 240h20v10H1100zM1190 240h10v10H1190zM0 250h10v10H0zM90 250h10v10H90zM290 250h10v10H290zM310 250h20v10H310zM350 250h40v10H350zM420 250h20v10H420zM470 250h20v10H470zM510 250h20v10H510zM550 250h10v10H550zM570 250h10v10H570zM600 250h20v10H600zM630 250h30v10H630zM690 250h30v10H690zM780 250h10v10H780zM840 250h40v10H840zM890 250h10v10H890zM930 250h20v10H930zM1030 250h20v10H1030zM1160 250h20v10H1160zM0 260h10v10H0zM30 260h10v10H30zM110 260h10v10H110zM260 260h10v10H260zM300 260h10v10H300zM390 260h10v10H390zM420 260h20v10H420zM470 260h10v10H470zM500 260h30v10H500zM540 260h30v10H540zM590 260h10v10H590zM610 260h40v10H610zM700 260h30v10H700zM750 260h10v10H750zM860 260h30v10H860zM970 260h10v10H970zM1010 260h10v10H1010zM1040 260h10v10H1040zM1110 260h10v10H1110zM1130 260h10v10H1130zM1160 260h10v10H1160zM1180 260h10v10H1180zM20 270h10v10H20zM260 270h10v10H260zM290 270h20v10H290zM360 270h10v10H360zM390 270h20v10H390zM470 270h10v10H470zM560 270h10v10H560zM610 270h10v10H610zM630 270h10v10H630zM690 270h10v10H690zM730 270h10v10H730zM770 270h10v10H770zM810 270h10v10H810zM880 270h20v10H880zM940 270h10v10H940zM970 270h10v10H970zM1090 270h20v10H1090zM0 280h10v10H0zM30 280h10v10H30zM100 280h10v10H100zM120 280h10v10H120zM160 280h10v10H160zM190 280h10v10H190zM260 280h40v10H260zM350 280h20v10H350zM460 280h10v10H460zM500 280h30v10H500zM580 280h10v10H580zM600 280h10v10H600zM650 280h10v10H650zM700 280h10v10H700zM740 280h10v10H740zM770 280h10v10H770zM790 280h10v10H790zM820 280h10v10H820zM870 280h10v10H870zM890 280h50v10H890zM970 280h10v10H970zM1060 280h10v10H1060zM1160 280h10v10H1160zM1180 280h20v10H1180zM0 290h10v10H0zM40 290h20v10H40zM90 290h20v10H90zM120 290h10v10H120zM150 290h20v10H150zM260 290h20v10H260zM450 290h10v10H450zM560 290h10v10H560zM580 290h10v10H580zM610 290h10v10H610zM650 290h10v10H650zM690 290h20v10H690zM740 290h10v10H740zM790 290h20v10H790zM850 290h40v10H850zM910 290h10v10H910zM960 290h10v10H960zM1000 290h10v10H1000zM1030 290h20v10H1030zM1070 290h10v10H1070zM1190 290h10v10H1190zM230 300h10v10H230zM290 300h10v10H290zM350 300h30v10H350zM400 300h20v10H400zM440 300h10v10H440zM460 300h30v10H460zM570 300h10v10H570zM620 300h10v10H620zM690 300h10v10H690zM730 300h10v10H730zM800 300h20v10H800zM850 300h10v10H850zM900 300h10v10H900zM930 300h10v10H930zM950 300h10v10H950zM990 300h10v10H990zM1040 300h10v10H1040zM1130 300h10v10H1130zM1170 300h10v10H1170zM20 310h10v10H20zM130 310h10v10H130zM180 310h10v10H180zM220 310h10v10H220zM350 310h10v10H350zM380 310h30v10H380zM440 310h20v10H440zM470 310h30v10H470zM560 310h20v10H560zM620 310h10v10H620zM830 310h10v10H830zM850 310h10v10H850zM900 310h30v10H900zM1010 310h10v10H1010zM1040 310h20v10H1040zM1080 310h10v10H1080zM1120 310h30v10H1120zM1160 310h20v10H1160zM30 320h20v10H30zM130 320h20v10H130zM240 320h20v10H240zM300 320h10v10H300zM320 320h10v10H320zM350 320h20v10H350zM380 320h10v10H380zM410 320h10v10H410zM440 320h10v10H440zM510 320h30v10H510zM660 320h10v10H660zM770 320h10v10H770zM800 320h10v10H800zM840 320h10v10H840zM910 320h30v10H910zM1010 320h50v10H1010zM1130 320h20v10H1130zM40 330h10v10H40zM130 330h20v10H130zM190 330h20v10H190zM220 330h10v10H220zM320 330h10v10H320zM340 330h20v10H340zM400 330h10v10H400zM450 330h10v10H450zM470 330h10v10H470zM520 330h10v10H520zM570 330h10v10H570zM660 330h10v10H660zM770 330h10v10H770zM830 330h10v10H830zM900 330h30v10H900zM940 330h10v10H940zM1050 330h10v10H1050zM1070 330h10v10H1070zM1180 330h10v10H1180zM10 340h20v10H10zM70 340h10v10H70zM160 340h10v10H160zM190 340h30v10H190zM230 340h20v10H230zM300 340h10v10H300zM320 340h10v10H320zM340 340h10v10H340zM380 340h10v10H380zM410 340h20v10H410zM450 340h40v10H450zM520 340h20v10H520zM650 340h20v10H650zM680 340h20v10H680zM730 340h20v10H730zM860 340h10v10H860zM900 340h10v10H900zM940 340h10v10H940zM1120 340h10v10H1120zM30 350h10v10H30zM110 350h10v10H110zM140 350h10v10H140zM210 350h10v10H210zM240 350h20v10H240zM290 350h10v10H290zM310 350h10v10H310zM380 350h10v10H380zM550 350h10v10H550zM570 350h10v10H570zM610 350h10v10H610zM650 350h10v10H650zM680 350h20v10H680zM870 350h40v10H870zM930 350h10v10H930zM1000 350h10v10H1000zM1020 350h20v10H1020zM1120 350h10v10H1120zM1140 350h10v10H1140zM1160 350h20v10H1160zM80 360h10v10H80zM100 360h10v10H100zM130 360h10v10H130zM150 360h10v10H150zM170 360h10v10H170zM200 360h10v10H200zM280 360h10v10H280zM310 360h10v10H310zM380 360h10v10H380zM450 360h20v10H450zM490 360h30v10H490zM580 360h20v10H580zM620 360h50v10H620zM680 360h10v10H680zM770 360h30v10H770zM930 360h10v10H930zM990 360h10v10H990zM1020 360h20v10H1020zM1050 360h10v10H1050zM1080 360h10v10H1080zM1140 360h10v10H1140zM1160 360h10v10H1160zM130 370h20v10H130zM190 370h10v10H190zM260 370h20v10H260zM360 370h30v10H360zM400 370h10v10H400zM450 370h10v10H450zM470 370h10v10H470zM500 370h10v10H500zM550 370h10v10H550zM590 370h20v10H590zM740 370h10v10H740zM780 370h20v10H780zM1010 370h10v10H1010zM1040 370h20v10H1040zM1070 370h10v10H1070zM1120 370h20v10H1120zM1190 370h10v10H1190zM10 380h20v10H10zM150 380h10v10H150zM190 380h10v10H190zM310 380h10v10H310zM400 380h10v10H400zM420 380h10v10H420zM540 380h10v10H540zM590 380h10v10H590zM620 380h10v10H620zM650 380h10v10H650zM680 380h30v10H680zM730 380h50v10H730zM840 380h20v10H840zM900 380h10v10H900zM930 380h10v10H930zM1040 380h20v10H1040zM1070 380h10v10H1070zM1120 380h10v10H1120zM1190 380h10v10H1190zM30 390h20v10H30zM110 390h10v10H110zM160 390h20v10H160zM220 390h10v10H220zM280 390h20v10H280zM310 390h20v10H310zM420 390h10v10H420zM550 390h10v10H550zM590 390h10v10H590zM680 390h20v10H680zM770 390h10v10H770zM840 390h10v10H840zM860 390h10v10H860zM900 390h20v10H900zM980 390h10v10H980zM1020 390h30v10H1020zM1190 390h10v10H1190zM0 400h30v10H0zM110 400h10v10H110zM150 400h10v10H150zM190 400h20v10H190zM220 400h10v10H220zM310 400h10v10H310zM420 400h10v10H420zM480 400h20v10H480zM520 400h10v10H520zM610 400h30v10H610zM770 400h10v10H770zM870 400h10v10H870zM890 400h20v10H890zM920 400h20v10H920zM1160 400h10v10H1160zM1190 400h10v10H1190zM10 410h10v10H10zM90 410h10v10H90zM140 410h10v10H140zM160 410h10v10H160zM190 410h10v10H190zM250 410h10v10H250zM420 410h10v10H420zM510 410h20v10H510zM540 410h20v10H540zM570 410h10v10H570zM610 410h20v10H610zM640 410h10v10H640zM810 410h30v10H810zM950 410h10v10H950zM970 410h20v10H970zM1140 410h10v10H1140zM1160 410h30v10H1160zM0 420h20v10H0zM70 420h10v10H70zM110 420h10v10H110zM140 420h10v10H140zM240 420h10v10H240zM260 420h10v10H260zM400 420h20v10H400zM460 420h20v10H460zM550 420h20v10H550zM590 420h10v10H590zM640 420h10v10H640zM670 420h20v10H670zM700 420h10v10H700zM800 420h10v10H800zM830 420h10v10H830zM870 420h20v10H870zM950 420h10v10H950zM970 420h10v10H970zM1010 420h10v10H1010zM1030 420h20v10H1030zM1150 420h10v10H1150zM20 430h10v10H20zM70 430h10v10H70zM110 430h10v10H110zM150 430h10v10H150zM200 430h30v10H200zM250 430h10v10H250zM320 430h10v10H320zM360 430h10v10H360zM400 430h10v10H400zM570 430h10v10H570zM650 430h40v10H650zM700 430h20v10H700zM750 430h10v10H750zM800 430h20v10H800zM870 430h20v10H870zM1010 430h10v10H1010zM1050 430h10v10H1050zM1160 430h10v10H1160zM10 440h40v10H10zM120 440h10v10H120zM150 440h20v10H150zM190 440h10v10H190zM220 440h10v10H220zM490 440h10v10H490zM530 440h20v10H530zM570 440h10v10H570zM650 440h10v10H650zM710 440h50v10H710zM800 440h30v10H800zM860 440h10v10H860zM880 440h10v10H880zM940 440h10v10H940zM960 440h10v10H960zM1070 440h10v10H1070zM1150 440h10v10H1150zM0 450h10v10H0zM220 450h20v10H220zM490 450h10v10H490zM540 450h20v10H540zM590 450h10v10H590zM620 450h10v10H620zM720 450h10v10H720zM820 450h20v10H820zM880 450h10v10H880zM930 450h10v10H930zM950 450h20v10H950zM1000 450h20v10H1000zM80 460h10v10H80zM140 460h10v10H140zM200 460h30v10H200zM240 460h10v10H240zM260 460h10v10H260zM380 460h10v10H380zM470 460h10v10H470zM540 460h10v10H540zM580 460h20v10H580zM630 460h20v10H630zM680 460h10v10H680zM700 460h20v10H700zM740 460h10v10H740zM800 460h10v10H800zM830 460h10v10H830zM860 460h10v10H860zM880 460h10v10H880zM930 460h10v10H930zM1010 460h20v10H1010zM80 470h10v10H80zM330 470h10v10H330zM390 470h10v10H390zM530 470h30v10H530zM570 470h10v10H570zM640 470h30v10H640zM680 470h20v10H680zM720 470h20v10H720zM750 470h10v10H750zM770 470h10v10H770zM810 470h10v10H810zM920 470h10v10H920zM1010 470h30v10H1010zM1120 470h20v10H1120zM1150 470h30v10H1150zM0 480h30v10H0zM180 480h10v10H180zM240 480h40v10H240zM310 480h10v10H310zM330 480h10v10H330zM360 480h10v10H360zM460 480h10v10H460zM540 480h20v10H540zM590 480h10v10H590zM730 480h10v10H730zM750 480h20v10H750zM850 480h20v10H850zM920 480h10v10H920zM950 480h10v10H950zM970 480h10v10H970zM1190 480h10v10H1190zM10 490h30v10H10zM80 490h20v10H80zM150 490h10v10H150zM180 490h20v10H180zM210 490h10v10H210zM240 490h10v10H240zM260 490h10v10H260zM310 490h10v10H310zM400 490h10v10H400zM440 490h20v10H440zM520 490h20v10H520zM570 490h20v10H570zM610 490h10v10H610zM640 490h40v10H640zM710 490h10v10H710zM740 490h20v10H740zM790 490h10v10H790zM840 490h10v10H840zM860 490h10v10H860zM950 490h10v10H950zM970 490h10v10H970zM1040 490h10v10H1040zM1080 490h10v10H1080zM1100 490h10v10H1100zM1120 490h10v10H1120zM1190 490h10v10H1190zM10 500h10v10H10zM50 500h10v10H50zM90 500h10v10H90zM130 500h10v10H130zM310 500h10v10H310zM370 500h40v10H370zM420 500h20v10H420zM460 500h20v10H460zM610 500h30v10H610zM790 500h20v10H790zM840 500h10v10H840zM860 500h20v10H860zM890 500h10v10H890zM920 500h20v10H920zM970 500h40v10H970zM1030 500h10v10H1030zM1110 500h10v10H1110zM1140 500h20v10H1140zM0 510h20v10H0zM50 510h10v10H50zM90 510h10v10H90zM110 510h40v10H110zM160 510h10v10H160zM260 510h10v10H260zM300 510h20v10H300zM370 510h20v10H370zM420 510h10v10H420zM440 510h30v10H440zM630 510h20v10H630zM700 510h10v10H700zM750 510h10v10H750zM770 510h10v10H770zM840 510h20v10H840zM870 510h10v10H870zM990 510h30v10H990zM1120 510h10v10H1120zM1190 510h10v10H1190zM0 520h20v10H0zM80 520h10v10H80zM110 520h20v10H110zM150 520h10v10H150zM280 520h20v10H280zM360 520h10v10H360zM380 520h10v10H380zM450 520h20v10H450zM480 520h10v10H480zM540 520h10v10H540zM570 520h40v10H570zM630 520h10v10H630zM660 520h10v10H660zM760 520h10v10H760zM870 520h10v10H870zM900 520h10v10H900zM990 520h10v10H990zM1050 520h10v10H1050zM1080 520h20v10H1080zM1140 520h10v10H1140zM60 530h20v10H60zM90 530h30v10H90zM220 530h20v10H220zM340 530h20v10H340zM450 530h10v10H450zM480 530h20v10H480zM540 530h10v10H540zM600 530h10v10H600zM630 530h20v10H630zM880 530h10v10H880zM930 530h10v10H930zM970 530h20v10H970zM1060 530h10v10H1060zM1090 530h20v10H1090zM1140 530h10v10H1140zM20 540h10v10H20zM90 540h30v10H90zM270 540h10v10H270zM300 540h10v10H300zM480 540h10v10H480zM540 540h10v10H540zM580 540h10v10H580zM610 540h10v10H610zM640 540h10v10H640zM690 540h20v10H690zM740 540h20v10H740zM790 540h10v10H790zM970 540h10v10H970zM1010 540h10v10H1010zM1070 540h20v10H1070zM30 550h10v10H30zM120 550h40v10H120zM190 550h10v10H190zM210 550h10v10H210zM270 550h10v10H270zM510 550h10v10H510zM690 550h10v10H690zM710 550h20v10H710zM760 550h10v10H760zM870 550h10v10H870zM900 550h20v10H900zM980 550h10v10H980zM1000 550h10v10H1000zM1060 550h20v10H1060zM1170 550h10v10H1170zM80 560h10v10H80zM120 560h20v10H120zM170 560h20v10H170zM220 560h10v10H220zM270 560h10v10H270zM300 560h10v10H300zM360 560h30v10H360zM440 560h20v10H440zM480 560h10v10H480zM500 560h20v10H500zM700 560h10v10H700zM720 560h10v10H720zM740 560h20v10H740zM770 560h10v10H770zM820 560h10v10H820zM910 560h10v10H910zM1000 560h10v10H1000zM1070 560h10v10H1070zM1100 560h20v10H1100zM1150 560h10v10H1150zM1180 560h10v10H1180zM70 570h10v10H70zM180 570h10v10H180zM210 570h20v10H210zM360 570h10v10H360zM450 570h10v10H450zM490 570h60v10H490zM670 570h40v10H670zM750 570h20v10H750zM780 570h10v10H780zM810 570h10v10H810zM860 570h20v10H860zM910 570h10v10H910zM1010 570h10v10H1010zM1060 570h10v10H1060zM1140 570h10v10H1140zM120 580h10v10H120zM200 580h20v10H200zM240 580h20v10H240zM420 580h20v10H420zM450 580h10v10H450zM510 580h10v10H510zM530 580h20v10H530zM560 580h10v10H560zM590 580h10v10H590zM630 580h10v10H630zM660 580h10v10H660zM690 580h10v10H690zM730 580h30v10H730zM800 580h10v10H800zM870 580h20v10H870zM920 580h10v10H920zM960 580h10v10H960zM1020 580h10v10H1020zM1090 580h10v10H1090zM1130 580h10v10H1130zM1170 580h20v10H1170zM50 590h10v10H50zM130 590h10v10H130zM180 590h10v10H180zM200 590h30v10H200zM240 590h10v10H240zM310 590h10v10H310zM440 590h10v10H440zM540 590h10v10H540zM570 590h10v10H570zM600 590h20v10H600zM700 590h20v10H700zM730 590h10v10H730zM790 590h20v10H790zM860 590h10v10H860zM880 590h10v10H880zM930 590h10v10H930zM950 590h20v10H950zM1010 590h20v10H1010zM1090 590h10v10H1090zM1120 590h20v10H1120zM1170 590h10v10H1170zM40 600h10v10H40zM110 600h10v10H110zM220 600h30v10H220zM300 600h10v10H300zM340 600h10v10H340zM430 600h30v10H430zM480 600h10v10H480zM510 600h10v10H510zM540 600h10v10H540zM560 600h10v10H560zM590 600h20v10H590zM650 600h20v10H650zM680 600h10v10H680zM740 600h20v10H740zM790 600h20v10H790zM890 600h10v10H890zM930 600h20v10H930zM960 600h20v10H960zM1010 600h20v10H1010zM1050 600h20v10H1050zM1140 600h20v10H1140zM50 610h10v10H50zM110 610h10v10H110zM160 610h10v10H160zM230 610h10v10H230zM400 610h10v10H400zM450 610h30v10H450zM510 610h40v10H510zM600 610h10v10H600zM620 610h10v10H620zM680 610h30v10H680zM730 610h10v10H730zM760 610h10v10H760zM790 610h10v10H790zM850 610h20v10H850zM920 610h10v10H920zM950 610h20v10H950zM990 610h10v10H990zM1030 610h30v10H1030zM1070 610h10v10H1070zM1100 610h20v10H1100zM1140 610h10v10H1140zM1170 610h10v10H1170zM10 620h20v10H10zM100 620h10v10H100zM150 620h20v10H150zM340 620h10v10H340zM430 620h10v10H430zM450 620h20v10H450zM500 620h10v10H500zM520 620h20v10H520zM600 620h30v10H600zM730 620h10v10H730zM790 620h20v10H790zM820 620h10v10H820zM990 620h10v10H990zM1040 620h10v10H1040zM1090 620h10v10H1090zM1140 620h10v10H1140zM1170 620h10v10H1170zM100 630h10v10H100zM140 630h10v10H140zM160 630h20v10H160zM190 630h10v10H190zM250 630h10v10H250zM430 630h30v10H430zM480 630h60v10H480zM600 630h10v10H600zM620 630h10v10H620zM670 630h20v10H670zM720 630h30v10H720zM830 630h10v10H830zM880 630h10v10H880zM920 630h20v10H920zM950 630h10v10H950zM1040 630h10v10H1040zM1060 630h20v10H1060zM1090 630h20v10H1090zM1170 630h10v10H1170zM50 640h40v10H50zM110 640h10v10H110zM140 640h30v10H140zM200 640h10v10H200zM220 640h40v10H220zM280 640h10v10H280zM380 640h10v10H380zM410 640h20v10H410zM450 640h10v10H450zM500 640h10v10H500zM610 640h10v10H610zM680 640h10v10H680zM750 640h10v10H750zM770 640h10v10H770zM800 640h10v10H800zM830 640h20v10H830zM880 640h10v10H880zM910 640h10v10H910zM940 640h10v10H940zM980 640h20v10H980zM1120 640h10v10H1120zM50 650h10v10H50zM90 650h10v10H90zM150 650h10v10H150zM240 650h30v10H240zM350 650h10v10H350zM460 650h10v10H460zM510 650h10v10H510zM600 650h10v10H600zM630 650h10v10H630zM650 650h10v10H650zM720 650h10v10H720zM740 650h10v10H740zM770 650h10v10H770zM810 650h20v10H810zM900 650h10v10H900zM970 650h20v10H970zM1010 650h10v10H1010zM1110 650h10v10H1110zM1130 650h10v10H1130zM1170 650h10v10H1170zM50 660h10v10H50zM70 660h10v10H70zM170 660h20v10H170zM220 660h40v10H220zM330 660h10v10H330zM360 660h10v10H360zM380 660h10v10H380zM530 660h10v10H530zM570 660h40v10H570zM630 660h10v10H630zM650 660h10v10H650zM730 660h30v10H730zM770 660h40v10H770zM970 660h20v10H970zM1000 660h10v10H1000zM1120 660h10v10H1120zM1140 660h10v10H1140zM1180 660h20v10H1180zM0 670h10v10H0zM110 670h10v10H110zM130 670h10v10H130zM280 670h40v10H280zM330 670h10v10H330zM370 670h10v10H370zM450 670h10v10H450zM480 670h20v10H480zM580 670h20v10H580zM740 670h20v10H740zM790 670h10v10H790zM890 670h10v10H890zM970 670h20v10H970zM1000 670h10v10H1000zM1090 670h10v10H1090zM1110 670h10v10H1110zM1140 670h10v10H1140zM1180 670h10v10H1180zM100 680h10v10H100zM130 680h30v10H130zM290 680h30v10H290zM360 680h10v10H360zM550 680h10v10H550zM590 680h10v10H590zM710 680h10v10H710zM730 680h10v10H730zM800 680h20v10H800zM980 680h10v10H980zM1010 680h10v10H1010zM1130 680h10v10H1130zM1150 680h10v10H1150zM1180 680h10v10H1180zM130 690h10v10H130zM150 690h10v10H150zM210 690h10v10H210zM260 690h10v10H260zM280 690h10v10H280zM310 690h50v10H310zM370 690h10v10H370zM410 690h20v10H410zM450 690h10v10H450zM470 690h20v10H470zM550 690h10v10H550zM590 690h10v10H590zM610 690h10v10H610zM650 690h10v10H650zM680 690h40v10H680zM800 690h20v10H800zM910 690h30v10H910zM1010 690h10v10H1010zM1100 690h30v10H1100zM1160 690h10v10H1160zM1190 690h10v10H1190zM10 700h20v10H10zM40 700h20v10H40zM130 700h30v10H130zM300 700h20v10H300zM330 700h10v10H330zM350 700h50v10H350zM410 700h10v10H410zM430 700h10v10H430zM530 700h10v10H530zM570 700h10v10H570zM650 700h10v10H650zM690 700h10v10H690zM890 700h10v10H890zM990 700h50v10H990zM1100 700h10v10H1100zM1120 700h10v10H1120zM1170 700h10v10H1170zM10 710h30v10H10zM90 710h30v10H90zM130 710h10v10H130zM150 710h10v10H150zM210 710h10v10H210zM240 710h10v10H240zM280 710h20v10H280zM350 710h30v10H350zM400 710h30v10H400zM450 710h10v10H450zM500 710h10v10H500zM560 710h10v10H560zM600 710h20v10H600zM650 710h20v10H650zM780 710h10v10H780zM810 710h10v10H810zM840 710h10v10H840zM950 710h10v10H950zM980 710h20v10H980zM1090 710h10v10H1090zM10 720h40v10H10zM70 720h10v10H70zM100 720h10v10H100zM120 720h10v10H120zM170 720h10v10H170zM210 720h10v10H210zM290 720h10v10H290zM350 720h10v10H350zM410 720h10v10H410zM480 720h30v10H480zM560 720h10v10H560zM600 720h10v10H600zM670 720h10v10H670zM720 720h10v10H720zM770 720h10v10H770zM810 720h10v10H810zM980 720h10v10H980zM1070 720h20v10H1070zM1100 720h10v10H1100zM1140 720h10v10H1140zM1160 720h20v10H1160zM70 730h30v10H70zM150 730h30v10H150zM290 730h10v10H290zM310 730h10v10H310zM340 730h20v10H340zM470 730h10v10H470zM490 730h30v10H490zM560 730h20v10H560zM660 730h20v10H660zM700 730h30v10H700zM770 730h20v10H770zM910 730h10v10H910zM1000 730h10v10H1000zM1020 730h10v10H1020zM1070 730h20v10H1070zM1150 730h10v10H1150zM0 740h20v10H0zM80 740h10v10H80zM120 740h10v10H120zM270 740h30v10H270zM470 740h10v10H470zM490 740h20v10H490zM700 740h30v10H700zM740 740h10v10H740zM760 740h10v10H760zM860 740h20v10H860zM890 740h30v10H890zM940 740h20v10H940zM1070 740h10v10H1070zM1130 740h20v10H1130zM1170 740h10v10H1170zM1190 740h10v10H1190zM50 750h10v10H50zM110 750h20v10H110zM150 750h10v10H150zM190 750h10v10H190zM300 750h10v10H300zM370 750h10v10H370zM460 750h10v10H460zM610 750h20v10H610zM660 750h10v10H660zM680 750h40v10H680zM750 750h10v10H750zM900 750h10v10H900zM920 750h20v10H920zM1010 750h10v10H1010zM1170 750h20v10H1170zM110 760h10v10H110zM190 760h10v10H190zM300 760h10v10H300zM320 760h40v10H320zM370 760h10v10H370zM560 760h10v10H560zM810 760h10v10H810zM830 760h10v10H830zM900 760h10v10H900zM920 760h10v10H920zM940 760h10v10H940zM1030 760h10v10H1030zM1160 760h20v10H1160zM0 770h10v10H0zM100 770h10v10H100zM140 770h10v10H140zM320 770h20v10H320zM400 770h10v10H400zM420 770h10v10H420zM470 770h10v10H470zM560 770h20v10H560zM620 770h10v10H620zM670 770h20v10H670zM710 770h30v10H710zM790 770h10v10H790zM820 770h10v10H820zM860 770h10v10H860zM890 770h20v10H890zM1000 770h20v10H1000zM1130 770h30v10H1130zM10 780h10v10H10zM40 780h20v10H40zM120 780h20v10H120zM190 780h10v10H190zM220 780h10v10H220zM370 780h10v10H370zM390 780h10v10H390zM430 780h10v10H430zM460 780h20v10H460zM550 780h10v10H550zM590 780h40v10H590zM680 780h20v10H680zM720 780h20v10H720zM790 780h10v10H790zM820 780h10v10H820zM910 780h10v10H910zM960 780h10v10H960zM1000 780h30v10H1000zM1090 780h10v10H1090zM1130 780h10v10H1130zM1160 780h10v10H1160zM1190 780h10v10H1190zM10 790h10v10H10zM30 790h10v10H30zM90 790h10v10H90zM120 790h10v10H120zM140 790h10v10H140zM160 790h10v10H160zM180 790h10v10H180zM210 790h10v10H210zM290 790h10v10H290zM420 790h20v10H420zM490 790h20v10H490zM530 790h10v10H530zM590 790h10v10H590zM620 790h10v10H620zM640 790h10v10H640zM680 790h20v10H680zM730 790h10v10H730zM770 790h10v10H770zM820 790h10v10H820zM1020 790h20v10H1020zM1080 790h20v10H1080zM1190 790h10v10H1190zM20 800h20v10H20zM100 800h10v10H100zM130 800h10v10H130zM170 800h10v10H170zM200 800h10v10H200zM240 800h10v10H240zM350 800h20v10H350zM490 800h30v10H490zM540 800h50v10H540zM610 800h20v10H610zM700 800h10v10H700zM720 800h20v10H720zM750 800h10v10H750zM870 800h10v10H870zM930 800h10v10H930zM1060 800h30v10H1060zM1100 800h10v10H1100zM0 810h10v10H0zM110 810h40v10H110zM190 810h20v10H190zM220 810h10v10H220zM290 810h10v10H290zM310 810h30v10H310zM360 810h40v10H360zM550 810h10v10H550zM580 810h10v10H580zM600 810h10v10H600zM620 810h10v10H620zM700 810h10v10H700zM780 810h10v10H780zM870 810h10v10H870zM990 810h10v10H990zM1090 810h10v10H1090zM1110 810h10v10H1110zM1130 810h30v10H1130zM10 820h10v10H10zM50 820h10v10H50zM100 820h10v10H100zM170 820h10v10H170zM200 820h10v10H200zM240 820h10v10H240zM300 820h10v10H300zM330 820h10v10H330zM390 820h10v10H390zM450 820h30v10H450zM510 820h10v10H510zM580 820h20v10H580zM650 820h20v10H650zM690 820h10v10H690zM740 820h30v10H740zM870 820h10v10H870zM990 820h10v10H990zM1030 820h10v10H1030zM1110 820h10v10H1110zM1150 820h20v10H1150zM1180 820h10v10H1180zM0 830h20v10H0zM50 830h10v10H50zM160 830h30v10H160zM280 830h30v10H280zM460 830h10v10H460zM490 830h10v10H490zM520 830h10v10H520zM550 830h10v10H550zM570 830h10v10H570zM610 830h30v10H610zM650 830h40v10H650zM860 830h20v10H860zM930 830h20v10H930zM1000 830h10v10H1000zM1060 830h10v10H1060zM1160 830h10v10H1160zM1180 830h20v10H1180zM0 840h10v10H0zM20 840h10v10H20zM150 840h20v10H150zM270 840h20v10H270zM300 840h10v10H300zM360 840h20v10H360zM430 840h10v10H430zM510 840h10v10H510zM650 840h10v10H650zM680 840h20v10H680zM710 840h10v10H710zM790 840h10v10H790zM860 840h20v10H860zM920 840h10v10H920zM1000 840h10v10H1000zM1030 840h10v10H1030zM1070 840h10v10H1070zM1100 840h20v10H1100zM1150 840h10v10H1150zM40 850h10v10H40zM70 850h10v10H70zM130 850h10v10H130zM270 850h20v10H270zM300 850h10v10H300zM340 850h10v10H340zM390 850h10v10H390zM510 850h10v10H510zM580 850h20v10H580zM640 850h20v10H640zM740 850h10v10H740zM770 850h10v10H770zM930 850h10v10H930zM980 850h30v10H980zM1020 850h20v10H1020zM1090 850h30v10H1090zM1150 850h20v10H1150zM30 860h10v10H30zM70 860h10v10H70zM90 860h20v10H90zM140 860h10v10H140zM180 860h10v10H180zM290 860h20v10H290zM340 860h20v10H340zM380 860h10v10H380zM450 860h20v10H450zM500 860h30v10H500zM540 860h10v10H540zM570 860h20v10H570zM620 860h10v10H620zM650 860h10v10H650zM690 860h10v10H690zM780 860h10v10H780zM900 860h10v10H900zM920 860h60v10H920zM1020 860h20v10H1020zM1050 860h10v10H1050zM1090 860h10v10H1090zM1110 860h20v10H1110zM1160 860h10v10H1160zM1180 860h20v10H1180zM10 870h10v10H10zM30 870h10v10H30zM90 870h20v10H90zM170 870h20v10H170zM310 870h20v10H310zM570 870h10v10H570zM610 870h10v10H610zM630 870h10v10H630zM680 870h20v10H680zM780 870h10v10H780zM810 870h10v10H810zM830 870h20v10H830zM960 870h10v10H960zM1000 870h20v10H1000zM1110 870h20v10H1110zM1170 870h30v10H1170zM0 880h10v10H0zM30 880h10v10H30zM120 880h10v10H120zM160 880h30v10H160zM230 880h10v10H230zM360 880h10v10H360zM390 880h10v10H390zM410 880h10v10H410zM440 880h10v10H440zM460 880h10v10H460zM490 880h10v10H490zM510 880h20v10H510zM560 880h10v10H560zM610 880h10v10H610zM630 880h10v10H630zM650 880h10v10H650zM770 880h20v10H770zM840 880h10v10H840zM860 880h20v10H860zM1010 880h10v10H1010zM1090 880h10v10H1090zM1110 880h20v10H1110zM1160 880h20v10H1160zM0 890h20v10H0zM50 890h10v10H50zM110 890h10v10H110zM170 890h20v10H170zM230 890h10v10H230zM250 890h10v10H250zM290 890h10v10H290zM340 890h10v10H340zM360 890h10v10H360zM470 890h10v10H470zM510 890h20v10H510zM570 890h30v10H570zM630 890h20v10H630zM670 890h10v10H670zM700 890h10v10H700zM780 890h10v10H780zM830 890h10v10H830zM860 890h10v10H860zM880 890h10v10H880zM1000 890h10v10H1000zM1050 890h10v10H1050zM1160 890h10v10H1160zM0 900h20v10H0zM40 900h10v10H40zM60 900h10v10H60zM120 900h10v10H120zM140 900h10v10H140zM250 900h20v10H250zM330 900h10v10H330zM360 900h10v10H360zM400 900h10v10H400zM470 900h10v10H470zM520 900h10v10H520zM570 900h10v10H570zM640 900h40v10H640zM740 900h10v10H740zM860 900h20v10H860zM900 900h10v10H900zM960 900h20v10H960zM990 900h20v10H990zM1060 900h10v10H1060zM1190 900h10v10H1190zM10 910h20v10H10zM50 910h20v10H50zM270 910h10v10H270zM370 910h10v10H370zM400 910h10v10H400zM420 910h10v10H420zM460 910h10v10H460zM490 910h10v10H490zM520 910h10v10H520zM550 910h10v10H550zM640 910h10v10H640zM680 910h10v10H680zM730 910h10v10H730zM790 910h10v10H790zM820 910h10v10H820zM860 910h20v10H860zM910 910h30v10H910zM960 910h30v10H960zM1050 910h10v10H1050zM1100 910h10v10H1100zM1140 910h10v10H1140zM10 920h10v10H10zM50 920h10v10H50zM130 920h10v10H130zM200 920h10v10H200zM230 920h30v10H230zM300 920h10v10H300zM320 920h20v10H320zM350 920h10v10H350zM370 920h40v10H370zM480 920h20v10H480zM520 920h10v10H520zM540 920h10v10H540zM640 920h10v10H640zM660 920h10v10H660zM680 920h10v10H680zM710 920h10v10H710zM730 920h10v10H730zM800 920h10v10H800zM860 920h20v10H860zM900 920h50v10H900zM960 920h10v10H960zM1000 920h10v10H1000zM1020 920h10v10H1020zM1040 920h10v10H1040zM60 930h20v10H60zM100 930h10v10H100zM130 930h20v10H130zM200 930h10v10H200zM280 930h20v10H280zM330 930h10v10H330zM350 930h10v10H350zM380 930h20v10H380zM420 930h10v10H420zM480 930h10v10H480zM540 930h10v10H540zM600 930h10v10H600zM660 930h20v10H660zM690 930h10v10H690zM730 930h10v10H730zM750 930h10v10H750zM890 930h10v10H890zM930 930h20v10H930zM970 930h10v10H970zM990 930h10v10H990zM1020 930h20v10H1020zM1170 930h20v10H1170zM50 940h10v10H50zM140 940h10v10H140zM210 940h20v10H210zM290 940h30v10H290zM350 940h10v10H350zM400 940h40v10H400zM480 940h10v10H480zM540 940h10v10H540zM620 940h10v10H620zM660 940h40v10H660zM780 940h10v10H780zM810 940h10v10H810zM890 940h10v10H890zM920 940h10v10H920zM940 940h10v10H940zM960 940h10v10H960zM1010 940h20v10H1010zM1040 940h10v10H1040zM1070 940h20v10H1070zM1140 940h40v10H1140zM1190 940h10v10H1190zM20 950h10v10H20zM70 950h20v10H70zM140 950h10v10H140zM190 950h10v10H190zM220 950h10v10H220zM250 950h20v10H250zM290 950h10v10H290zM350 950h10v10H350zM400 950h10v10H400zM430 950h10v10H430zM450 950h10v10H450zM480 950h30v10H480zM530 950h10v10H530zM610 950h20v10H610zM670 950h30v10H670zM810 950h20v10H810zM1020 950h10v10H1020zM1070 950h10v10H1070zM1160 950h10v10H1160zM1180 950h10v10H1180zM130 960h10v10H130zM210 960h20v10H210zM260 960h10v10H260zM290 960h10v10H290zM430 960h20v10H430zM460 960h20v10H460zM500 960h10v10H500zM620 960h10v10H620zM740 960h10v10H740zM820 960h30v10H820zM1000 960h10v10H1000zM1150 960h10v10H1150zM1180 960h10v10H1180zM30 970h20v10H30zM160 970h10v10H160zM180 970h10v10H180zM230 970h30v10H230zM280 970h10v10H280zM350 970h20v10H350zM460 970h60v10H460zM560 970h10v10H560zM630 970h10v10H630zM650 970h10v10H650zM730 970h20v10H730zM800 970h10v10H800zM830 970h20v10H830zM930 970h10v10H930zM1000 970h10v10H1000zM1020 970h10v10H1020zM1040 970h10v10H1040zM1060 970h20v10H1060zM1150 970h10v10H1150zM1170 970h10v10H1170zM20 980h10v10H20zM110 980h20v10H110zM190 980h10v10H190zM210 980h10v10H210zM240 980h20v10H240zM270 980h10v10H270zM290 980h10v10H290zM340 980h10v10H340zM480 980h10v10H480zM500 980h20v10H500zM530 980h10v10H530zM800 980h10v10H800zM870 980h30v10H870zM970 980h10v10H970zM1010 980h50v10H1010zM1130 980h20v10H1130zM1190 980h10v10H1190zM50 990h20v10H50zM110 990h10v10H110zM150 990h10v10H150zM190 990h20v10H190zM330 990h10v10H330zM370 990h10v10H370zM410 990h20v10H410zM450 990h10v10H450zM470 990h10v10H470zM490 990h30v10H490zM530 990h10v10H530zM710 990h20v10H710zM820 990h10v10H820zM880 990h10v10H880zM900 990h10v10H900zM960 990h20v10H960zM1010 990h10v10H1010zM1030 990h30v10H1030zM1180 990h10v10H1180zM50 1000h10v10H50zM110 1000h20v10H110zM160 1000h10v10H160zM220 1000h10v10H220zM320 1000h20v10H320zM410 1000h10v10H410zM490 1000h10v10H490zM520 1000h30v10H520zM600 1000h10v10H600zM850 1000h20v10H850zM890 1000h10v10H890zM950 1000h20v10H950zM1010 1000h20v10H1010zM1040 1000h20v10H1040zM1120 1000h10v10H1120zM1140 1000h20v10H1140zM1170 1000h20v10H1170zM70 1010h10v10H70zM110 1010h20v10H110zM160 1010h10v10H160zM180 1010h10v10H180zM220 1010h10v10H220zM270 1010h10v10H270zM340 1010h20v10H340zM420 1010h10v10H420zM470 1010h10v10H470zM510 1010h10v10H510zM540 1010h20v10H540zM750 1010h10v10H750zM880 1010h10v10H880zM930 1010h20v10H930zM1010 1010h10v10H1010zM1070 1010h10v10H1070zM1090 1010h30v10H1090zM1130 1010h40v10H1130zM1190 1010h10v10H1190zM30 1020h10v10H30zM210 1020h20v10H210zM330 1020h10v10H330zM390 1020h10v10H390zM500 1020h20v10H500zM610 1020h20v10H610zM640 1020h10v10H640zM850 1020h20v10H850zM900 1020h10v10H900zM1010 1020h10v10H1010zM1030 1020h10v10H1030zM1050 1020h20v10H1050zM1100 1020h20v10H1100zM1140 1020h20v10H1140zM1180 1020h10v10H1180zM100 1030h20v10H100zM150 1030h10v10H150zM240 1030h10v10H240zM290 1030h10v10H290zM340 1030h10v10H340zM400 1030h10v10H400zM480 1030h40v10H480zM580 1030h10v10H580zM620 1030h20v10H620zM680 1030h10v10H680zM700 1030h10v10H700zM790 1030h20v10H790zM840 1030h20v10H840zM900 1030h20v10H900zM930 1030h10v10H930zM1030 1030h10v10H1030zM1120 1030h10v10H1120zM1170 1030h20v10H1170zM20 1040h20v10H20zM110 1040h10v10H110zM180 1040h10v10H180zM280 1040h20v10H280zM340 1040h20v10H340zM490 1040h10v10H490zM510 1040h10v10H510zM570 1040h40v10H570zM620 1040h10v10H620zM700 1040h10v10H700zM720 1040h10v10H720zM750 1040h10v10H750zM780 1040h10v10H780zM840 1040h20v10H840zM960 1040h10v10H960zM1020 1040h10v10H1020zM1070 1040h10v10H1070zM1130 1040h10v10H1130zM1170 1040h10v10H1170zM40 1050h10v10H40zM170 1050h20v10H170zM210 1050h10v10H210zM260 1050h20v10H260zM360 1050h30v10H360zM440 1050h10v10H440zM510 1050h20v10H510zM540 1050h10v10H540zM570 1050h20v10H570zM620 1050h10v10H620zM640 1050h10v10H640zM680 1050h10v10H680zM710 1050h10v10H710zM760 1050h20v10H760zM790 1050h10v10H790zM830 1050h10v10H830zM850 1050h10v10H850zM890 1050h20v10H890zM930 1050h10v10H930zM950 1050h10v10H950zM1000 1050h30v10H1000zM1170 1050h30v10H1170zM40 1060h10v10H40zM70 1060h10v10H70zM210 1060h10v10H210zM360 1060h20v10H360zM420 1060h20v10H420zM470 1060h10v10H470zM510 1060h20v10H510zM580 1060h10v10H580zM630 1060h20v10H630zM690 1060h10v10H690zM790 1060h10v10H790zM810 1060h10v10H810zM850 1060h10v10H850zM930 1060h10v10H930zM950 1060h10v10H950zM990 1060h20v10H990zM1070 1060h10v10H1070zM1160 1060h20v10H1160zM1190 1060h10v10H1190zM40 1070h10v10H40zM70 1070h10v10H70zM110 1070h10v10H110zM150 1070h10v10H150zM190 1070h20v10H190zM220 1070h10v10H220zM250 1070h20v10H250zM330 1070h20v10H330zM360 1070h50v10H360zM540 1070h10v10H540zM590 1070h10v10H590zM620 1070h20v10H620zM690 1070h10v10H690zM750 1070h10v10H750zM810 1070h10v10H810zM830 1070h50v10H830zM930 1070h20v10H930zM970 1070h20v10H970zM1040 1070h20v10H1040zM1150 1070h40v10H1150zM130 1080h10v10H130zM200 1080h10v10H200zM220 1080h10v10H220zM470 1080h20v10H470zM640 1080h20v10H640zM670 1080h10v10H670zM750 1080h10v10H750zM810 1080h10v10H810zM830 1080h30v10H830zM870 1080h10v10H870zM910 1080h10v10H910zM940 1080h20v10H940zM970 1080h10v10H970zM1090 1080h30v10H1090zM1130 1080h10v10H1130zM1170 1080h10v10H1170zM0 1090h10v10H0zM20 1090h10v10H20zM50 1090h20v10H50zM80 1090h10v10H80zM100 1090h10v10H100zM140 1090h10v10H140zM340 1090h40v10H340zM420 1090h10v10H420zM460 1090h10v10H460zM480 1090h20v10H480zM520 1090h10v10H520zM680 1090h10v10H680zM730 1090h10v10H730zM750 1090h30v10H750zM810 1090h10v10H810zM860 1090h20v10H860zM1020 1090h10v10H1020zM1080 1090h30v10H1080zM1160 1090h10v10H1160zM30 1100h10v10H30zM60 1100h10v10H60zM140 1100h10v10H140zM170 1100h10v10H170zM310 1100h30v10H310zM400 1100h10v10H400zM420 1100h20v10H420zM540 1100h10v10H540zM560 1100h20v10H560zM610 1100h10v10H610zM680 1100h30v10H680zM770 1100h10v10H770zM870 1100h10v10H870zM930 1100h10v10H930zM1010 1100h40v10H1010zM0 1110h20v10H0zM30 1110h10v10H30zM50 1110h10v10H50zM210 1110h10v10H210zM300 1110h10v10H300zM320 1110h10v10H320zM340 1110h10v10H340zM530 1110h20v10H530zM690 1110h10v10H690zM770 1110h50v10H770zM870 1110h10v10H870zM950 1110h20v10H950zM980 1110h50v10H980zM1040 1110h10v10H1040zM10 1120h10v10H10zM60 1120h30v10H60zM120 1120h10v10H120zM170 1120h10v10H170zM210 1120h20v10H210zM310 1120h40v10H310zM380 1120h50v10H380zM450 1120h20v10H450zM590 1120h10v10H590zM660 1120h10v10H660zM770 1120h20v10H770zM840 1120h10v10H840zM880 1120h20v10H880zM980 1120h20v10H980zM1020 1120h10v10H1020zM1060 1120h10v10H1060zM0 1130h10v10H0zM90 1130h10v10H90zM130 1130h10v10H130zM240 1130h10v10H240zM270 1130h10v10H270zM310 1130h20v10H310zM370 1130h10v10H370zM550 1130h10v10H550zM680 1130h20v10H680zM730 1130h10v10H730zM780 1130h10v10H780zM830 1130h20v10H830zM990 1130h20v10H990zM1040 1130h30v10H1040zM1080 1130h10v10H1080zM1150 1130h20v10H1150zM1180 1130h10v10H1180zM130 1140h20v10H130zM240 1140h10v10H240zM280 1140h10v10H280zM310 1140h10v10H310zM360 1140h10v10H360zM430 1140h10v10H430zM550 1140h20v10H550zM640 1140h10v10H640zM660 1140h10v10H660zM690 1140h10v10H690zM710 1140h20v10H710zM810 1140h40v10H810zM940 1140h10v10H940zM1110 1140h10v10H1110zM1150 1140h10v10H1150zM0 1150h10v10H0zM110 1150h30v10H110zM160 1150h20v10H160zM190 1150h10v10H190zM230 1150h10v10H230zM330 1150h20v10H330zM410 1150h30v10H410zM550 1150h10v10H550zM590 1150h20v10H590zM660 1150h10v10H660zM710 1150h10v10H710zM740 1150h10v10H740zM810 1150h10v10H810zM890 1150h10v10H890zM930 1150h60v10H930zM1030 1150h20v10H1030zM1070 1150h30v10H1070zM1140 1150h10v10H1140zM50 1160h10v10H50zM120 1160h10v10H120zM180 1160h10v10H180zM230 1160h30v10H230zM300 1160h10v10H300zM330 1160h10v10H330zM350 1160h10v10H350zM370 1160h20v10H370zM410 1160h20v10H410zM460 1160h10v10H460zM570 1160h10v10H570zM600 1160h20v10H600zM630 1160h10v10H630zM650 1160h10v10H650zM720 1160h20v10H720zM780 1160h20v10H780zM820 1160h20v10H820zM890 1160h30v10H890zM1020 1160h20v10H1020zM1090 1160h10v10H1090zM1140 1160h10v10H1140zM1160 1160h20v10H1160zM1190 1160h10v10H1190zM60 1170h10v10H60zM130 1170h10v10H130zM220 1170h10v10H220zM250 1170h20v10H250zM300 1170h20v10H300zM340 1170h10v10H340zM390 1170h20v10H390zM440 1170h10v10H440zM470 1170h10v10H470zM510 1170h10v10H510zM530 1170h30v10H530zM650 1170h10v10H650zM680 1170h10v10H680zM730 1170h10v10H730zM790 1170h10v10H790zM820 1170h20v10H820zM860 1170h10v10H860zM900 1170h10v10H900zM960 1170h10v10H960zM1000 1170h50v10H1000zM1140 1170h20v10H1140zM1170 1170h10v10H1170zM80 1180h10v10H80zM120 1180h10v10H120zM200 1180h10v10H200zM240 1180h10v10H240zM260 1180h10v10H260zM390 1180h20v10H390zM560 1180h10v10H560zM590 1180h10v10H590zM610 1180h10v10H610zM640 1180h20v10H640zM740 1180h20v10H740zM900 1180h20v10H900zM1000 1180h10v10H1000zM1180 1180h10v10H1180zM40 1190h10v10H40zM90 1190h10v10H90zM120 1190h10v10H120zM150 1190h20v10H150zM190 1190h10v10H190zM220 1190h10v10H220zM240 1190h10v10H240zM270 1190h20v10H270zM350 1190h10v10H350zM450 1190h10v10H450zM560 1190h30v10H560zM630 1190h10v10H630zM650 1190h10v10H650zM730 1190h10v10H730zM750 1190h20v10H750zM800 1190h10v10H800zM880 1190h20v10H880zM950 1190h10v10H950zM970 1190h10v10H970zM1160 1190h10v10H1160z"/><path fill="rgb(0,71,255)" d="M0 0h10v10H0zM20 0h10v10H20zM60 0h10v10H60zM150 0h20v10H150zM300 0h20v10H300zM330 0h20v10H330zM360 0h10v10H360zM380 0h10v10H380zM410 0h20v10H410zM500 0h10v10H500zM530 0h20v10H530zM610 0h10v10H610zM680 0h10v10H680zM700 0h10v10H700zM730 0h30v10H730zM770 0h10v10H770zM830 0h10v10H830zM930 0h20v10H930zM1010 0h20v10H1010zM1070 0h10v10H1070zM1100 0h10v10H1100zM1130 0h10v10H1130zM1160 0h10v10H1160zM50 10h30v10H50zM120 10h10v10H120zM140 10h10v10H140zM180 10h20v10H180zM300 10h20v10H300zM400 10h30v10H400zM510 10h30v10H510zM630 10h10v10H630zM750 10h10v10H750zM770 10h10v10H770zM850 10h10v10H850zM890 10h20v10H890zM920 10h10v10H920zM950 10h10v10H950zM1120 10h10v10H1120zM1160 10h10v10H1160zM60 20h10v10H60zM90 20h40v10H90zM200 20h10v10H200zM300 20h10v10H300zM350 20h20v10H350zM380 20h10v10H380zM400 20h40v10H400zM460 20h20v10H460zM510 20h10v10H510zM550 20h10v10H550zM620 20h10v10H620zM710 20h10v10H710zM830 20h10v10H830zM900 20h10v10H900zM930 20h20v10H930zM960 20h10v10H960zM1000 20h20v10H1000zM1110 20h10v10H1110zM100 30h10v10H100zM120 30h40v10H120zM190 30h20v10H190zM300 30h10v10H300zM360 30h10v10H360zM380 30h10v10H380zM420 30h10v10H420zM470 30h10v10H470zM570 30h10v10H570zM690 30h10v10H690zM710 30h10v10H710zM760 30h10v10H760zM870 30h10v10H870zM910 30h20v10H910zM1020 30h10v10H1020zM1070 30h10v10H1070zM1100 30h10v10H1100zM1130 30h40v10H1130zM80 40h10v10H80zM130 40h20v10H130zM180 40h10v10H180zM250 40h10v10H250zM280 40h30v10H280zM330 40h20v10H330zM370 40h10v10H370zM440 40h10v10H440zM500 40h30v10H500zM570 40h20v10H570zM650 40h10v10H650zM670 40h40v10H670zM730 40h10v10H730zM770 40h10v10H770zM900 40h10v10H900zM920 40h10v10H920zM940 40h10v10H940zM1000 40h20v10H1000zM1030 40h20v10H1030zM1130 40h10v10H1130zM1160 40h10v10H1160zM1190 40h10v10H1190zM0 50h10v10H0zM90 50h10v10H90zM110 50h20v10H110zM150 50h10v10H150zM250 50h10v10H250zM330 50h20v10H330zM460 50h10v10H460zM530 50h10v10H530zM620 50h20v10H620zM680 50h10v10H680zM920 50h20v10H920zM950 50h20v10H950zM990 50h30v10H990zM1130 50h10v10H1130zM0 60h10v10H0zM20 60h10v10H20zM70 60h10v10H70zM140 60h10v10H140zM210 60h10v10H210zM260 60h10v10H260zM310 60h20v10H310zM380 60h10v10H380zM410 60h20v10H410zM470 60h10v10H470zM530 60h10v10H530zM640 60h10v10H640zM670 60h20v10H670zM720 60h10v10H720zM820 60h20v10H820zM910 60h20v10H910zM970 60h10v10H970zM1030 60h30v10H1030zM1120 60h10v10H1120zM1140 60h20v10H1140zM10 70h20v10H10zM50 70h20v10H50zM90 70h10v10H90zM210 70h20v10H210zM310 70h10v10H310zM350 70h30v10H350zM390 70h10v10H390zM500 70h10v10H500zM560 70h10v10H560zM600 70h10v10H600zM670 70h20v10H670zM900 70h10v10H900zM970 70h10v10H970zM1000 70h10v10H1000zM1030 70h20v10H1030zM1070 70h10v10H1070zM1100 70h10v10H1100zM1140 70h30v10H1140zM1190 70h10v10H1190zM20 80h20v10H20zM120 80h10v10H120zM230 80h20v10H230zM360 80h20v10H360zM390 80h10v10H390zM460 80h10v10H460zM550 80h10v10H550zM600 80h20v10H600zM660 80h30v10H660zM710 80h10v10H710zM940 80h20v10H940zM980 80h10v10H980zM1070 80h20v10H1070zM1120 80h10v10H1120zM1170 80h10v10H1170zM10 90h10v10H10zM40 90h10v10H40zM140 90h10v10H140zM220 90h20v10H220zM300 90h10v10H300zM340 90h30v10H340zM400 90h10v10H400zM460 90h10v10H460zM500 90h10v10H500zM520 90h10v10H520zM580 90h20v10H580zM610 90h20v10H610zM730 90h10v10H730zM770 90h10v10H770zM940 90h20v10H940zM970 90h30v10H970zM1070 90h30v10H1070zM220 100h20v10H220zM300 100h10v10H300zM380 100h10v10H380zM420 100h10v10H420zM490 100h20v10H490zM570 100h10v10H570zM600 100h20v10H600zM730 100h10v10H730zM750 100h10v10H750zM830 100h10v10H830zM870 100h10v10H870zM930 100h10v10H930zM960 100h10v10H960zM1010 100h10v10H1010zM1090 100h10v10H1090zM1120 100h40v10H1120zM40 110h10v10H40zM220 110h10v10H220zM250 110h10v10H250zM290 110h20v10H290zM370 110h10v10H370zM390 110h10v10H390zM440 110h10v10H440zM480 110h10v10H480zM530 110h20v10H530zM610 110h20v10H610zM740 110h10v10H740zM830 110h10v10H830zM850 110h20v10H850zM930 110h10v10H930zM1010 110h10v10H1010zM1030 110h20v10H1030zM1070 110h10v10H1070zM1110 110h10v10H1110zM1140 110h20v10H1140zM40 120h10v10H40zM80 120h10v10H80zM130 120h10v10H130zM190 120h10v10H190zM230 120h10v10H230zM280 120h20v10H280zM360 120h10v10H360zM400 120h10v10H400zM420 120h30v10H420zM530 120h30v10H530zM580 120h10v10H580zM610 120h10v10H610zM660 120h30v10H660zM760 120h10v10H760zM780 120h10v10H780zM800 120h10v10H800zM860 120h10v10H860zM900 120h20v10H900zM1080 120h10v10H1080zM1110 120h20v10H1110zM1140 120h10v10H1140zM1160 120h10v10H1160zM140 130h10v10H140zM190 130h10v10H190zM260 130h10v10H260zM290 130h10v10H290zM330 130h10v10H330zM390 130h20v10H390zM460 130h10v10H460zM500 130h10v10H500zM530 130h40v10H530zM580 130h40v10H580zM640 130h20v10H640zM670 130h20v10H670zM840 130h10v10H840zM900 130h30v10H900zM940 130h10v10H940zM1110 130h10v10H1110zM40 140h10v10H40zM140 140h10v10H140zM220 140h10v10H220zM260 140h10v10H260zM290 140h10v10H290zM520 140h10v10H520zM550 140h10v10H550zM570 140h20v10H570zM600 140h10v10H600zM670 140h10v10H670zM710 140h10v10H710zM810 140h10v10H810zM840 140h10v10H840zM880 140h10v10H880zM990 140h20v10H990zM1080 140h20v10H1080zM1140 140h10v10H1140zM0 150h10v10H0zM50 150h10v10H50zM70 150h10v10H70zM150 150h20v10H150zM200 150h10v10H200zM550 150h10v10H550zM570 150h20v10H570zM610 150h20v10H610zM650 150h20v10H650zM680 150h10v10H680zM710 150h20v10H710zM770 150h10v10H770zM810 150h10v10H810zM830 150h10v10H830zM890 150h10v10H890zM920 150h10v10H920zM950 150h30v10H950zM990 150h20v10H990zM1020 150h10v10H1020zM1080 150h10v10H1080zM1140 150h10v10H1140zM0 160h10v10H0zM160 160h50v10H160zM240 160h10v10H240zM270 160h30v10H270zM330 160h30v10H330zM390 160h10v10H390zM410 160h10v10H410zM460 160h10v10H460zM530 160h10v10H530zM550 160h10v10H550zM570 160h20v10H570zM620 160h20v10H620zM670 160h10v10H670zM710 160h10v10H710zM760 160h10v10H760zM790 160h10v10H790zM810 160h10v10H810zM850 160h10v10H850zM940 160h10v10H940zM960 160h30v10H960zM1110 160h10v10H1110zM1170 160h10v10H1170zM0 170h20v10H0zM50 170h20v10H50zM110 170h10v10H110zM240 170h10v10H240zM300 170h10v10H300zM330 170h10v10H330zM350 170h20v10H350zM400 170h10v10H400zM460 170h30v10H460zM570 170h20v10H570zM670 170h10v10H670zM730 170h10v10H730zM760 170h10v10H760zM820 170h10v10H820zM850 170h10v10H850zM870 170h10v10H870zM930 170h10v10H930zM950 170h10v10H950zM1100 170h10v10H1100zM1140 170h10v10H1140zM1180 170h10v10H1180zM10 180h10v10H10zM30 180h10v10H30zM100 180h10v10H100zM120 180h10v10H120zM170 180h10v10H170zM190 180h10v10H190zM210 180h20v10H210zM240 180h10v10H240zM330 180h10v10H330zM480 180h10v10H480zM500 180h10v10H500zM530 180h20v10H530zM700 180h10v10H700zM740 180h10v10H740zM810 180h20v10H810zM840 180h10v10H840zM1090 180h10v10H1090zM1120 180h30v10H1120zM1170 180h10v10H1170zM40 190h20v10H40zM110 190h10v10H110zM180 190h10v10H180zM200 190h10v10H200zM240 190h20v10H240zM370 190h10v10H370zM410 190h10v10H410zM510 190h10v10H510zM550 190h10v10H550zM580 190h10v10H580zM750 190h10v10H750zM820 190h10v10H820zM930 190h10v10H930zM990 190h20v10H990zM1110 190h10v10H1110zM1140 190h10v10H1140zM1170 190h10v10H1170zM0 200h10v10H0zM30 200h30v10H30zM140 200h20v10H140zM170 200h10v10H170zM290 200h40v10H290zM340 200h10v10H340zM400 200h10v10H400zM420 200h10v10H420zM550 200h20v10H550zM580 200h10v10H580zM700 200h10v10H700zM740 200h10v10H740zM930 200h10v10H930zM950 200h10v10H950zM990 200h20v10H990zM1060 200h10v10H1060zM1120 200h10v10H1120zM1140 200h40v10H1140zM30 210h30v10H30zM170 210h10v10H170zM190 210h10v10H190zM290 210h10v10H290zM320 210h30v10H320zM390 210h10v10H390zM460 210h20v10H460zM500 210h10v10H500zM540 210h10v10H540zM710 210h10v10H710zM800 210h20v10H800zM930 210h10v10H930zM960 210h10v10H960zM1000 210h10v10H1000zM1050 210h10v10H1050zM1070 210h10v10H1070zM1090 210h10v10H1090zM1140 210h20v10H1140zM30 220h20v10H30zM60 220h30v10H60zM190 220h10v10H190zM230 220h10v10H230zM260 220h40v10H260zM320 220h10v10H320zM480 220h10v10H480zM510 220h30v10H510zM550 220h10v10H550zM590 220h20v10H590zM650 220h20v10H650zM740 220h10v10H740zM760 220h10v10H760zM800 220h10v10H800zM860 220h10v10H860zM880 220h20v10H880zM930 220h20v10H930zM970 220h10v10H970zM1000 220h10v10H1000zM1050 220h30v10H1050zM1150 220h30v10H1150zM10 230h20v10H10zM60 230h10v10H60zM110 230h30v10H110zM260 230h10v10H260zM400 230h10v10H400zM530 230h10v10H530zM670 230h10v10H670zM690 230h10v10H690zM710 230h10v10H710zM740 230h10v10H740zM770 230h10v10H770zM820 230h10v10H820zM880 230h10v10H880zM950 230h10v10H950zM970 230h10v10H970zM1080 230h10v10H1080zM1130 230h40v10H1130zM10 240h10v10H10zM60 240h10v10H60zM80 240h10v10H80zM120 240h10v10H120zM160 240h30v10H160zM200 240h10v10H200zM260 240h10v10H260zM280 240h20v10H280zM380 240h10v10H380zM410 240h10v10H410zM440 240h10v10H440zM490 240h10v10H490zM530 240h10v10H530zM670 240h10v10H670zM730 240h10v10H730zM750 240h10v10H750zM770 240h10v10H770zM840 240h10v10H840zM910 240h10v10H910zM970 240h10v10H970zM1010 240h10v10H1010zM1050 240h10v10H1050zM1070 240h30v10H1070zM1130 240h20v10H1130zM1160 240h10v10H1160zM1180 240h10v10H1180zM10 250h10v10H10zM40 250h10v10H40zM70 250h20v10H70zM120 250h10v10H120zM170 250h10v10H170zM200 250h10v10H200zM230 250h10v10H230zM400 250h10v10H400zM440 250h10v10H440zM720 250h20v10H720zM750 250h10v10H750zM810 250h20v10H810zM920 250h10v10H920zM970 250h10v10H970zM990 250h10v10H990zM1050 250h50v10H1050zM1190 250h10v10H1190zM40 260h10v10H40zM90 260h10v10H90zM130 260h10v10H130zM150 260h10v10H150zM200 260h20v10H200zM240 260h10v10H240zM280 260h10v10H280zM320 260h10v10H320zM350 260h10v10H350zM410 260h10v10H410zM670 260h20v10H670zM770 260h30v10H770zM820 260h10v10H820zM920 260h10v10H920zM940 260h10v10H940zM960 260h10v10H960zM1000 260h10v10H1000zM1020 260h10v10H1020zM1090 260h10v10H1090zM1190 260h10v10H1190zM60 270h10v10H60zM80 270h10v10H80zM150 270h10v10H150zM190 270h30v10H190zM230 270h10v10H230zM250 270h10v10H250zM340 270h10v10H340zM420 270h20v10H420zM500 270h20v10H500zM570 270h20v10H570zM790 270h10v10H790zM840 270h20v10H840zM950 270h20v10H950zM980 270h10v10H980zM1010 270h10v10H1010zM1030 270h10v10H1030zM1060 270h20v10H1060zM1140 270h10v10H1140zM70 280h20v10H70zM240 280h20v10H240zM400 280h20v10H400zM440 280h20v10H440zM530 280h10v10H530zM590 280h10v10H590zM630 280h10v10H630zM660 280h10v10H660zM720 280h10v10H720zM760 280h10v10H760zM980 280h10v10H980zM1000 280h10v10H1000zM1030 280h10v10H1030zM1050 280h10v10H1050zM1110 280h20v10H1110zM1140 280h10v10H1140zM20 290h20v10H20zM70 290h10v10H70zM130 290h10v10H130zM170 290h10v10H170zM190 290h20v10H190zM240 290h10v10H240zM290 290h30v10H290zM330 290h10v10H330zM370 290h10v10H370zM400 290h20v10H400zM430 290h10v10H430zM520 290h10v10H520zM550 290h10v10H550zM590 290h10v10H590zM620 290h30v10H620zM670 290h10v10H670zM720 290h10v10H720zM770 290h10v10H770zM930 290h10v10H930zM980 290h10v10H980zM1090 290h10v10H1090zM1130 290h10v10H1130zM1160 290h10v10H1160zM0 300h10v10H0zM20 300h10v10H20zM50 300h20v10H50zM100 300h10v10H100zM120 300h10v10H120zM200 300h10v10H200zM220 300h10v10H220zM250 300h10v10H250zM280 300h10v10H280zM310 300h10v10H310zM340 300h10v10H340zM600 300h10v10H600zM630 300h10v10H630zM650 300h20v10H650zM710 300h10v10H710zM740 300h20v10H740zM840 300h10v10H840zM910 300h10v10H910zM940 300h10v10H940zM1020 300h10v10H1020zM1100 300h30v10H1100zM1150 300h10v10H1150zM1190 300h10v10H1190zM50 310h10v10H50zM90 310h10v10H90zM140 310h30v10H140zM210 310h10v10H210zM260 310h10v10H260zM280 310h10v10H280zM430 310h10v10H430zM540 310h20v10H540zM590 310h10v10H590zM640 310h60v10H640zM710 310h10v10H710zM730 310h10v10H730zM790 310h20v10H790zM820 310h10v10H820zM1020 310h10v10H1020zM1090 310h10v10H1090zM1180 310h10v10H1180zM10 320h10v10H10zM50 320h10v10H50zM70 320h10v10H70zM120 320h10v10H120zM170 320h10v10H170zM190 320h10v10H190zM260 320h10v10H260zM280 320h10v10H280zM370 320h10v10H370zM420 320h20v10H420zM480 320h10v10H480zM500 320h10v10H500zM560 320h10v10H560zM640 320h20v10H640zM710 320h20v10H710zM750 320h10v10H750zM780 320h10v10H780zM810 320h10v10H810zM880 320h10v10H880zM940 320h10v10H940zM960 320h10v10H960zM1000 320h10v10H1000zM1100 320h10v10H1100zM0 330h10v10H0zM60 330h10v10H60zM110 330h10v10H110zM260 330h10v10H260zM280 330h10v10H280zM370 330h10v10H370zM550 330h10v10H550zM600 330h10v10H600zM620 330h30v10H620zM700 330h10v10H700zM720 330h10v10H720zM750 330h20v10H750zM810 330h10v10H810zM850 330h10v10H850zM990 330h10v10H990zM1020 330h10v10H1020zM1080 330h30v10H1080zM1140 330h20v10H1140zM1190 330h10v10H1190zM60 340h10v10H60zM100 340h10v10H100zM170 340h10v10H170zM220 340h10v10H220zM250 340h10v10H250zM290 340h10v10H290zM310 340h10v10H310zM360 340h20v10H360zM510 340h10v10H510zM590 340h20v10H590zM630 340h20v10H630zM700 340h10v10H700zM760 340h30v10H760zM800 340h20v10H800zM830 340h10v10H830zM850 340h10v10H850zM880 340h10v10H880zM920 340h10v10H920zM970 340h30v10H970zM1020 340h10v10H1020zM1060 340h10v10H1060zM1090 340h10v10H1090zM1110 340h10v10H1110zM1140 340h30v10H1140zM170 350h20v10H170zM220 350h10v10H220zM280 350h10v10H280zM330 350h20v10H330zM370 350h10v10H370zM390 350h20v10H390zM440 350h10v10H440zM460 350h40v10H460zM510 350h30v10H510zM600 350h10v10H600zM700 350h20v10H700zM760 350h40v10H760zM810 350h10v10H810zM910 350h20v10H910zM950 350h10v10H950zM970 350h10v10H970zM1040 350h10v10H1040zM1070 350h10v10H1070zM1090 350h10v10H1090zM1110 350h10v10H1110zM1180 350h10v10H1180zM10 360h10v10H10zM30 360h20v10H30zM60 360h10v10H60zM330 360h10v10H330zM360 360h20v10H360zM400 360h10v10H400zM440 360h10v10H440zM520 360h40v10H520zM690 360h10v10H690zM720 360h20v10H720zM800 360h10v10H800zM840 360h10v10H840zM860 360h10v10H860zM890 360h20v10H890zM920 360h10v10H920zM1040 360h10v10H1040zM1100 360h10v10H1100zM0 370h20v10H0zM70 370h30v10H70zM280 370h10v10H280zM320 370h20v10H320zM350 370h10v10H350zM410 370h10v10H410zM430 370h10v10H430zM480 370h10v10H480zM520 370h10v10H520zM570 370h10v10H570zM610 370h40v10H610zM820 370h10v10H820zM880 370h10v10H880zM910 370h10v10H910zM940 370h10v10H940zM970 370h30v10H970zM1140 370h20v10H1140zM0 380h10v10H0zM50 380h20v10H50zM100 380h10v10H100zM120 380h20v10H120zM220 380h10v10H220zM270 380h30v10H270zM430 380h10v10H430zM450 380h30v10H450zM510 380h20v10H510zM560 380h10v10H560zM600 380h10v10H600zM660 380h20v10H660zM720 380h10v10H720zM870 380h20v10H870zM950 380h10v10H950zM1060 380h10v10H1060zM1090 380h10v10H1090zM1140 380h20v10H1140zM50 390h20v10H50zM80 390h20v10H80zM120 390h20v10H120zM180 390h20v10H180zM240 390h10v10H240zM260 390h20v10H260zM330 390h10v10H330zM350 390h10v10H350zM450 390h10v10H450zM520 390h10v10H520zM560 390h10v10H560zM600 390h10v10H600zM660 390h20v10H660zM800 390h10v10H800zM960 390h10v10H960zM1080 390h10v10H1080zM1110 390h10v10H1110zM30 400h20v10H30zM90 400h20v10H90zM140 400h10v10H140zM270 400h20v10H270zM320 400h10v10H320zM440 400h20v10H440zM570 400h10v10H570zM670 400h20v10H670zM700 400h30v10H700zM740 400h10v10H740zM760 400h10v10H760zM790 400h20v10H790zM830 400h20v10H830zM960 400h10v10H960zM990 400h10v10H990zM1060 400h20v10H1060zM1100 400h10v10H1100zM1120 400h20v10H1120zM1180 400h10v10H1180zM30 410h10v10H30zM100 410h10v10H100zM170 410h10v10H170zM210 410h10v10H210zM230 410h20v10H230zM300 410h10v10H300zM330 410h10v10H330zM430 410h10v10H430zM460 410h10v10H460zM500 410h10v10H500zM530 410h10v10H530zM580 410h10v10H580zM670 410h10v10H670zM690 410h10v10H690zM710 410h10v10H710zM770 410h10v10H770zM800 410h10v10H800zM840 410h10v10H840zM900 410h20v10H900zM1080 410h10v10H1080zM1110 410h30v10H1110zM30 420h10v10H30zM60 420h10v10H60zM80 420h10v10H80zM120 420h10v10H120zM170 420h10v10H170zM200 420h10v10H200zM320 420h30v10H320zM380 420h10v10H380zM450 420h10v10H450zM480 420h20v10H480zM530 420h10v10H530zM580 420h10v10H580zM630 420h10v10H630zM660 420h10v10H660zM840 420h10v10H840zM860 420h10v10H860zM910 420h40v10H910zM980 420h10v10H980zM1000 420h10v10H1000zM1060 420h10v10H1060zM1090 420h40v10H1090zM1140 420h10v10H1140zM1190 420h10v10H1190zM0 430h10v10H0zM40 430h10v10H40zM80 430h10v10H80zM100 430h10v10H100zM120 430h10v10H120zM140 430h10v10H140zM170 430h20v10H170zM260 430h20v10H260zM310 430h10v10H310zM340 430h10v10H340zM370 430h10v10H370zM390 430h10v10H390zM450 430h10v10H450zM500 430h20v10H500zM580 430h30v10H580zM640 430h10v10H640zM760 430h10v10H760zM780 430h10v10H780zM850 430h10v10H850zM940 430h20v10H940zM1140 430h10v10H1140zM90 440h10v10H90zM140 440h10v10H140zM230 440h20v10H230zM270 440h20v10H270zM310 440h10v10H310zM340 440h10v10H340zM400 440h10v10H400zM510 440h10v10H510zM590 440h20v10H590zM640 440h10v10H640zM680 440h20v10H680zM760 440h20v10H760zM790 440h10v10H790zM1020 440h30v10H1020zM1080 440h10v10H1080zM1170 440h10v10H1170zM1190 440h10v10H1190zM20 450h10v10H20zM70 450h10v10H70zM90 450h30v10H90zM190 450h10v10H190zM260 450h40v10H260zM320 450h10v10H320zM340 450h10v10H340zM370 450h20v10H370zM440 450h20v10H440zM510 450h10v10H510zM610 450h10v10H610zM660 450h10v10H660zM770 450h10v10H770zM790 450h10v10H790zM840 450h10v10H840zM890 450h10v10H890zM990 450h10v10H990zM1080 450h20v10H1080zM1140 450h10v10H1140zM1190 450h10v10H1190zM30 460h20v10H30zM110 460h10v10H110zM130 460h10v10H130zM190 460h10v10H190zM290 460h40v10H290zM340 460h20v10H340zM410 460h10v10H410zM430 460h10v10H430zM460 460h10v10H460zM500 460h20v10H500zM560 460h10v10H560zM600 460h10v10H600zM650 460h10v10H650zM690 460h10v10H690zM780 460h10v10H780zM840 460h10v10H840zM870 460h10v10H870zM890 460h10v10H890zM950 460h10v10H950zM1000 460h10v10H1000zM1050 460h10v10H1050zM1080 460h30v10H1080zM1120 460h30v10H1120zM1170 460h10v10H1170zM0 470h50v10H0zM60 470h10v10H60zM100 470h10v10H100zM120 470h10v10H120zM170 470h10v10H170zM200 470h30v10H200zM270 470h10v10H270zM290 470h10v10H290zM310 470h10v10H310zM340 470h10v10H340zM400 470h10v10H400zM450 470h10v10H450zM490 470h20v10H490zM600 470h10v10H600zM780 470h20v10H780zM820 470h20v10H820zM870 470h10v10H870zM900 470h10v10H900zM960 470h40v10H960zM1050 470h10v10H1050zM70 480h10v10H70zM90 480h20v10H90zM120 480h20v10H120zM210 480h10v10H210zM300 480h10v10H300zM380 480h10v10H380zM400 480h40v10H400zM490 480h10v10H490zM520 480h20v10H520zM560 480h10v10H560zM610 480h10v10H610zM630 480h10v10H630zM670 480h30v10H670zM780 480h10v10H780zM830 480h10v10H830zM890 480h10v10H890zM980 480h20v10H980zM1020 480h10v10H1020zM1040 480h10v10H1040zM1070 480h20v10H1070zM1100 480h10v10H1100zM1130 480h20v10H1130zM100 490h10v10H100zM140 490h10v10H140zM230 490h10v10H230zM280 490h20v10H280zM330 490h10v10H330zM420 490h10v10H420zM480 490h20v10H480zM560 490h10v10H560zM590 490h10v10H590zM680 490h30v10H680zM730 490h10v10H730zM770 490h10v10H770zM830 490h10v10H830zM980 490h20v10H980zM1010 490h20v10H1010zM1130 490h20v10H1130zM1160 490h10v10H1160zM30 500h20v10H30zM120 500h10v10H120zM140 500h10v10H140zM220 500h10v10H220zM240 500h10v10H240zM260 500h10v10H260zM350 500h20v10H350zM480 500h10v10H480zM540 500h10v10H540zM570 500h20v10H570zM660 500h10v10H660zM680 500h10v10H680zM700 500h20v10H700zM780 500h10v10H780zM830 500h10v10H830zM950 500h20v10H950zM1170 500h10v10H1170zM40 510h10v10H40zM190 510h20v10H190zM290 510h10v10H290zM390 510h10v10H390zM500 510h30v10H500zM550 510h40v10H550zM600 510h10v10H600zM620 510h10v10H620zM650 510h10v10H650zM680 510h10v10H680zM790 510h10v10H790zM910 510h20v10H910zM960 510h10v10H960zM1020 510h10v10H1020zM1100 510h10v10H1100zM1170 510h10v10H1170zM30 520h10v10H30zM140 520h10v10H140zM180 520h10v10H180zM230 520h30v10H230zM310 520h10v10H310zM340 520h10v10H340zM400 520h20v10H400zM430 520h10v10H430zM610 520h20v10H610zM640 520h10v10H640zM730 520h10v10H730zM800 520h10v10H800zM820 520h10v10H820zM840 520h10v10H840zM920 520h10v10H920zM980 520h10v10H980zM1020 520h10v10H1020zM1040 520h10v10H1040zM1100 520h10v10H1100zM1150 520h40v10H1150zM0 530h20v10H0zM50 530h10v10H50zM130 530h10v10H130zM240 530h20v10H240zM320 530h10v10H320zM370 530h10v10H370zM410 530h10v10H410zM520 530h10v10H520zM560 530h10v10H560zM620 530h10v10H620zM670 530h20v10H670zM710 530h10v10H710zM760 530h50v10H760zM820 530h10v10H820zM850 530h10v10H850zM900 530h10v10H900zM920 530h10v10H920zM960 530h10v10H960zM1020 530h10v10H1020zM1050 530h10v10H1050zM1120 530h10v10H1120zM1190 530h10v10H1190zM10 540h10v10H10zM40 540h30v10H40zM140 540h10v10H140zM170 540h20v10H170zM250 540h10v10H250zM280 540h10v10H280zM330 540h30v10H330zM370 540h10v10H370zM410 540h10v10H410zM500 540h10v10H500zM530 540h10v10H530zM650 540h20v10H650zM710 540h10v10H710zM730 540h10v10H730zM810 540h20v10H810zM850 540h40v10H850zM900 540h10v10H900zM920 540h10v10H920zM940 540h10v10H940zM1030 540h10v10H1030zM1140 540h10v10H1140zM1190 540h10v10H1190zM0 550h20v10H0zM50 550h30v10H50zM160 550h10v10H160zM230 550h10v10H230zM250 550h20v10H250zM320 550h30v10H320zM400 550h30v10H400zM500 550h10v10H500zM530 550h10v10H530zM560 550h10v10H560zM650 550h10v10H650zM670 550h10v10H670zM800 550h20v10H800zM840 550h10v10H840zM890 550h10v10H890zM920 550h40v10H920zM1030 550h20v10H1030zM1110 550h20v10H1110zM1140 550h10v10H1140zM0 560h10v10H0zM50 560h20v10H50zM90 560h10v10H90zM110 560h10v10H110zM260 560h10v10H260zM280 560h20v10H280zM320 560h10v10H320zM350 560h10v10H350zM390 560h10v10H390zM530 560h10v10H530zM560 560h20v10H560zM590 560h10v10H590zM610 560h10v10H610zM640 560h10v10H640zM670 560h10v10H670zM690 560h10v10H690zM790 560h20v10H790zM840 560h10v10H840zM900 560h10v10H900zM920 560h10v10H920zM970 560h10v10H970zM1040 560h20v10H1040zM1080 560h20v10H1080zM0 570h10v10H0zM50 570h20v10H50zM110 570h10v10H110zM160 570h10v10H160zM240 570h10v10H240zM270 570h10v10H270zM320 570h10v10H320zM340 570h10v10H340zM410 570h30v10H410zM480 570h10v10H480zM560 570h20v10H560zM600 570h10v10H600zM740 570h10v10H740zM790 570h10v10H790zM840 570h20v10H840zM900 570h10v10H900zM950 570h20v10H950zM990 570h20v10H990zM1020 570h10v10H1020zM1080 570h30v10H1080zM10 580h20v10H10zM40 580h10v10H40zM70 580h10v10H70zM110 580h10v10H110zM150 580h20v10H150zM280 580h10v10H280zM350 580h10v10H350zM390 580h10v10H390zM440 580h10v10H440zM470 580h20v10H470zM600 580h30v10H600zM650 580h10v10H650zM720 580h10v10H720zM900 580h10v10H900zM980 580h20v10H980zM1060 580h10v10H1060zM1110 580h10v10H1110zM20 590h20v10H20zM80 590h10v10H80zM160 590h10v10H160zM260 590h10v10H260zM280 590h10v10H280zM320 590h10v10H320zM350 590h60v10H350zM460 590h10v10H460zM490 590h10v10H490zM630 590h10v10H630zM720 590h10v10H720zM840 590h20v10H840zM900 590h10v10H900zM980 590h10v10H980zM1060 590h10v10H1060zM1100 590h20v10H1100zM1150 590h20v10H1150zM1190 590h10v10H1190zM0 600h10v10H0zM30 600h10v10H30zM80 600h10v10H80zM120 600h50v10H120zM180 600h40v10H180zM250 600h20v10H250zM320 600h20v10H320zM360 600h20v10H360zM460 600h10v10H460zM490 600h20v10H490zM530 600h10v10H530zM630 600h10v10H630zM720 600h10v10H720zM780 600h10v10H780zM820 600h10v10H820zM850 600h10v10H850zM870 600h20v10H870zM1030 600h10v10H1030zM1080 600h40v10H1080zM1130 600h10v10H1130zM20 610h10v10H20zM40 610h10v10H40zM150 610h10v10H150zM180 610h20v10H180zM210 610h10v10H210zM240 610h20v10H240zM320 610h10v10H320zM340 610h10v10H340zM420 610h10v10H420zM630 610h10v10H630zM710 610h20v10H710zM740 610h10v10H740zM770 610h20v10H770zM840 610h10v10H840zM880 610h10v10H880zM980 610h10v10H980zM1000 610h20v10H1000zM1190 610h10v10H1190zM30 620h10v10H30zM50 620h20v10H50zM80 620h10v10H80zM120 620h10v10H120zM140 620h10v10H140zM170 620h10v10H170zM200 620h20v10H200zM240 620h10v10H240zM260 620h30v10H260zM310 620h10v10H310zM330 620h10v10H330zM360 620h10v10H360zM380 620h50v10H380zM560 620h40v10H560zM630 620h20v10H630zM700 620h10v10H700zM810 620h10v10H810zM850 620h10v10H850zM940 620h10v10H940zM960 620h20v10H960zM1000 620h20v10H1000zM1030 620h10v10H1030zM1080 620h10v10H1080zM1120 620h20v10H1120zM0 630h20v10H0zM50 630h20v10H50zM230 630h20v10H230zM310 630h10v10H310zM360 630h10v10H360zM380 630h20v10H380zM560 630h20v10H560zM590 630h10v10H590zM630 630h10v10H630zM650 630h10v10H650zM690 630h20v10H690zM900 630h10v10H900zM960 630h20v10H960zM990 630h10v10H990zM1020 630h20v10H1020zM1190 630h10v10H1190zM0 640h20v10H0zM120 640h20v10H120zM180 640h10v10H180zM300 640h10v10H300zM390 640h10v10H390zM470 640h10v10H470zM490 640h10v10H490zM580 640h10v10H580zM630 640h30v10H630zM670 640h10v10H670zM690 640h10v10H690zM760 640h10v10H760zM850 640h30v10H850zM950 640h20v10H950zM1020 640h20v10H1020zM1150 640h10v10H1150zM1180 640h10v10H1180zM100 650h10v10H100zM120 650h10v10H120zM170 650h10v10H170zM210 650h10v10H210zM270 650h10v10H270zM300 650h20v10H300zM370 650h20v10H370zM440 650h10v10H440zM490 650h10v10H490zM520 650h10v10H520zM590 650h10v10H590zM690 650h10v10H690zM760 650h10v10H760zM800 650h10v10H800zM840 650h20v10H840zM870 650h10v10H870zM890 650h10v10H890zM960 650h10v10H960zM1030 650h20v10H1030zM1070 650h10v10H1070zM1090 650h10v10H1090zM1180 650h10v10H1180zM30 660h20v10H30zM90 660h10v10H90zM120 660h50v10H120zM190 660h20v10H190zM270 660h10v10H270zM290 660h20v10H290zM480 660h10v10H480zM510 660h20v10H510zM550 660h10v10H550zM620 660h10v10H620zM680 660h50v10H680zM860 660h20v10H860zM900 660h40v10H900zM960 660h10v10H960zM1030 660h10v10H1030zM1070 660h10v10H1070zM1170 660h10v10H1170zM40 670h10v10H40zM60 670h10v10H60zM140 670h10v10H140zM190 670h20v10H190zM230 670h10v10H230zM250 670h30v10H250zM400 670h10v10H400zM420 670h10v10H420zM510 670h10v10H510zM550 670h20v10H550zM600 670h10v10H600zM620 670h20v10H620zM670 670h10v10H670zM830 670h10v10H830zM910 670h30v10H910zM960 670h10v10H960zM1080 670h10v10H1080zM1130 670h10v10H1130zM1170 670h10v10H1170zM20 680h20v10H20zM50 680h20v10H50zM120 680h10v10H120zM170 680h10v10H170zM190 680h10v10H190zM240 680h10v10H240zM270 680h10v10H270zM320 680h30v10H320zM380 680h10v10H380zM510 680h10v10H510zM630 680h10v10H630zM650 680h10v10H650zM690 680h10v10H690zM740 680h10v10H740zM760 680h10v10H760zM780 680h20v10H780zM830 680h20v10H830zM860 680h10v10H860zM940 680h10v10H940zM970 680h10v10H970zM990 680h10v10H990zM1040 680h20v10H1040zM1090 680h10v10H1090zM10 690h10v10H10zM30 690h10v10H30zM50 690h10v10H50zM80 690h10v10H80zM120 690h10v10H120zM160 690h10v10H160zM180 690h10v10H180zM230 690h20v10H230zM290 690h10v10H290zM380 690h10v10H380zM440 690h10v10H440zM490 690h10v10H490zM510 690h10v10H510zM560 690h20v10H560zM750 690h10v10H750zM790 690h10v10H790zM820 690h20v10H820zM860 690h10v10H860zM940 690h10v10H940zM970 690h10v10H970zM990 690h10v10H990zM1020 690h20v10H1020zM1070 690h10v10H1070zM1090 690h10v10H1090zM0 700h10v10H0zM60 700h10v10H60zM90 700h10v10H90zM170 700h10v10H170zM230 700h20v10H230zM470 700h30v10H470zM520 700h10v10H520zM620 700h20v10H620zM710 700h30v10H710zM770 700h10v10H770zM800 700h10v10H800zM860 700h10v10H860zM880 700h10v10H880zM930 700h10v10H930zM1140 700h20v10H1140zM70 710h10v10H70zM180 710h10v10H180zM270 710h10v10H270zM310 710h20v10H310zM480 710h20v10H480zM550 710h10v10H550zM620 710h20v10H620zM700 710h10v10H700zM720 710h20v10H720zM800 710h10v10H800zM850 710h20v10H850zM910 710h30v10H910zM1010 710h30v10H1010zM1050 710h10v10H1050zM1100 710h50v10H1100zM1160 710h10v10H1160zM1180 710h10v10H1180zM50 720h20v10H50zM260 720h10v10H260zM390 720h10v10H390zM540 720h20v10H540zM570 720h10v10H570zM620 720h10v10H620zM730 720h10v10H730zM830 720h20v10H830zM860 720h10v10H860zM940 720h10v10H940zM960 720h10v10H960zM1050 720h10v10H1050zM1120 720h10v10H1120zM110 730h10v10H110zM130 730h10v10H130zM230 730h50v10H230zM380 730h10v10H380zM400 730h10v10H400zM420 730h10v10H420zM440 730h10v10H440zM460 730h10v10H460zM520 730h20v10H520zM550 730h10v10H550zM580 730h10v10H580zM620 730h10v10H620zM790 730h30v10H790zM830 730h20v10H830zM920 730h20v10H920zM950 730h10v10H950zM1040 730h10v10H1040zM1110 730h30v10H1110zM60 740h10v10H60zM200 740h20v10H200zM230 740h30v10H230zM330 740h10v10H330zM360 740h30v10H360zM440 740h20v10H440zM520 740h30v10H520zM590 740h10v10H590zM620 740h30v10H620zM770 740h20v10H770zM820 740h30v10H820zM930 740h10v10H930zM960 740h10v10H960zM980 740h10v10H980zM1030 740h10v10H1030zM1080 740h20v10H1080zM1150 740h10v10H1150zM10 750h30v10H10zM60 750h10v10H60zM160 750h20v10H160zM210 750h10v10H210zM230 750h40v10H230zM320 750h20v10H320zM380 750h10v10H380zM440 750h20v10H440zM490 750h10v10H490zM520 750h20v10H520zM630 750h20v10H630zM730 750h10v10H730zM760 750h10v10H760zM810 750h20v10H810zM960 750h40v10H960zM1030 750h10v10H1030zM1060 750h10v10H1060zM1080 750h30v10H1080zM1120 750h10v10H1120zM1160 750h10v10H1160zM20 760h20v10H20zM80 760h10v10H80zM200 760h10v10H200zM220 760h10v10H220zM240 760h10v10H240zM260 760h10v10H260zM380 760h30v10H380zM480 760h10v10H480zM500 760h20v10H500zM530 760h30v10H530zM600 760h50v10H600zM690 760h10v10H690zM760 760h20v10H760zM790 760h10v10H790zM840 760h50v10H840zM980 760h10v10H980zM1080 760h10v10H1080zM1100 760h20v10H1100zM1180 760h10v10H1180zM40 770h10v10H40zM70 770h30v10H70zM150 770h30v10H150zM230 770h20v10H230zM260 770h10v10H260zM280 770h10v10H280zM300 770h10v10H300zM340 770h10v10H340zM360 770h10v10H360zM440 770h10v10H440zM480 770h20v10H480zM530 770h20v10H530zM650 770h10v10H650zM770 770h10v10H770zM830 770h10v10H830zM850 770h10v10H850zM950 770h40v10H950zM1030 770h10v10H1030zM1060 770h10v10H1060zM1100 770h30v10H1100zM1170 770h20v10H1170zM20 780h10v10H20zM160 780h20v10H160zM200 780h10v10H200zM230 780h30v10H230zM280 780h20v10H280zM440 780h20v10H440zM490 780h30v10H490zM530 780h20v10H530zM630 780h20v10H630zM660 780h10v10H660zM740 780h10v10H740zM760 780h20v10H760zM830 780h10v10H830zM860 780h30v10H860zM930 780h20v10H930zM1040 780h10v10H1040zM1060 780h10v10H1060zM1110 780h10v10H1110zM1140 780h20v10H1140zM1170 780h20v10H1170zM20 790h10v10H20zM50 790h20v10H50zM80 790h10v10H80zM280 790h10v10H280zM320 790h20v10H320zM350 790h10v10H350zM410 790h10v10H410zM450 790h30v10H450zM540 790h40v10H540zM840 790h10v10H840zM860 790h30v10H860zM900 790h20v10H900zM950 790h10v10H950zM970 790h10v10H970zM990 790h10v10H990zM1050 790h30v10H1050zM1110 790h40v10H1110zM80 800h10v10H80zM280 800h10v10H280zM380 800h60v10H380zM450 800h10v10H450zM600 800h10v10H600zM630 800h10v10H630zM650 800h10v10H650zM670 800h10v10H670zM760 800h10v10H760zM800 800h50v10H800zM860 800h10v10H860zM900 800h30v10H900zM940 800h70v10H940zM1020 800h20v10H1020zM1110 800h20v10H1110zM30 810h10v10H30zM50 810h20v10H50zM80 810h10v10H80zM160 810h20v10H160zM260 810h10v10H260zM410 810h10v10H410zM430 810h10v10H430zM460 810h20v10H460zM630 810h20v10H630zM670 810h10v10H670zM730 810h20v10H730zM810 810h20v10H810zM880 810h10v10H880zM900 810h10v10H900zM940 810h40v10H940zM1010 810h10v10H1010zM1040 810h10v10H1040zM1120 810h10v10H1120zM30 820h10v10H30zM60 820h20v10H60zM110 820h50v10H110zM280 820h20v10H280zM350 820h10v10H350zM410 820h10v10H410zM640 820h10v10H640zM670 820h10v10H670zM700 820h20v10H700zM730 820h10v10H730zM800 820h10v10H800zM860 820h10v10H860zM930 820h10v10H930zM950 820h20v10H950zM1010 820h10v10H1010zM1050 820h30v10H1050zM1130 820h20v10H1130zM1190 820h10v10H1190zM60 830h10v10H60zM80 830h20v10H80zM120 830h10v10H120zM240 830h20v10H240zM320 830h10v10H320zM340 830h10v10H340zM380 830h30v10H380zM420 830h10v10H420zM720 830h10v10H720zM780 830h10v10H780zM820 830h30v10H820zM890 830h20v10H890zM970 830h10v10H970zM990 830h10v10H990zM1150 830h10v10H1150zM30 840h10v10H30zM110 840h20v10H110zM180 840h20v10H180zM210 840h10v10H210zM250 840h10v10H250zM400 840h20v10H400zM460 840h40v10H460zM540 840h10v10H540zM600 840h20v10H600zM670 840h10v10H670zM810 840h20v10H810zM840 840h10v10H840zM950 840h10v10H950zM980 840h10v10H980zM1050 840h10v10H1050zM1080 840h20v10H1080zM1130 840h10v10H1130zM1180 840h10v10H1180zM10 850h20v10H10zM90 850h10v10H90zM150 850h10v10H150zM180 850h10v10H180zM200 850h10v10H200zM220 850h20v10H220zM250 850h10v10H250zM310 850h20v10H310zM400 850h10v10H400zM440 850h10v10H440zM460 850h10v10H460zM490 850h20v10H490zM520 850h20v10H520zM560 850h10v10H560zM750 850h20v10H750zM810 850h10v10H810zM830 850h10v10H830zM860 850h40v10H860zM910 850h10v10H910zM950 850h20v10H950zM1060 850h30v10H1060zM1180 850h10v10H1180zM50 860h10v10H50zM80 860h10v10H80zM150 860h10v10H150zM170 860h10v10H170zM250 860h20v10H250zM280 860h10v10H280zM320 860h10v10H320zM360 860h10v10H360zM420 860h20v10H420zM600 860h10v10H600zM630 860h10v10H630zM680 860h10v10H680zM730 860h10v10H730zM880 860h10v10H880zM910 860h10v10H910zM990 860h10v10H990zM40 870h10v10H40zM60 870h10v10H60zM130 870h10v10H130zM200 870h10v10H200zM250 870h20v10H250zM290 870h10v10H290zM340 870h20v10H340zM550 870h10v10H550zM600 870h10v10H600zM640 870h10v10H640zM700 870h10v10H700zM730 870h10v10H730zM750 870h20v10H750zM790 870h10v10H790zM870 870h10v10H870zM900 870h20v10H900zM1040 870h40v10H1040zM1130 870h10v10H1130zM50 880h30v10H50zM140 880h10v10H140zM210 880h20v10H210zM290 880h20v10H290zM370 880h20v10H370zM430 880h10v10H430zM470 880h20v10H470zM530 880h10v10H530zM710 880h10v10H710zM730 880h20v10H730zM850 880h10v10H850zM890 880h30v10H890zM940 880h50v10H940zM1030 880h10v10H1030zM1140 880h20v10H1140zM1180 880h20v10H1180zM120 890h20v10H120zM150 890h20v10H150zM190 890h20v10H190zM220 890h10v10H220zM370 890h10v10H370zM390 890h10v10H390zM410 890h10v10H410zM430 890h10v10H430zM720 890h20v10H720zM750 890h30v10H750zM810 890h10v10H810zM900 890h10v10H900zM950 890h20v10H950zM1010 890h20v10H1010zM1180 890h20v10H1180zM150 900h10v10H150zM170 900h10v10H170zM210 900h20v10H210zM270 900h10v10H270zM380 900h10v10H380zM420 900h10v10H420zM500 900h10v10H500zM600 900h20v10H600zM700 900h10v10H700zM720 900h10v10H720zM750 900h10v10H750zM780 900h20v10H780zM820 900h10v10H820zM910 900h10v10H910zM940 900h10v10H940zM1020 900h10v10H1020zM1070 900h10v10H1070zM1090 900h10v10H1090zM1170 900h20v10H1170zM40 910h10v10H40zM90 910h10v10H90zM150 910h30v10H150zM200 910h10v10H200zM230 910h20v10H230zM300 910h10v10H300zM320 910h10v10H320zM340 910h20v10H340zM380 910h10v10H380zM580 910h10v10H580zM610 910h10v10H610zM1020 910h10v10H1020zM1070 910h10v10H1070zM1090 910h10v10H1090zM1190 910h10v10H1190zM40 920h10v10H40zM80 920h10v10H80zM140 920h10v10H140zM160 920h10v10H160zM450 920h30v10H450zM510 920h10v10H510zM550 920h20v10H550zM720 920h10v10H720zM740 920h10v10H740zM780 920h10v10H780zM980 920h10v10H980zM1060 920h10v10H1060zM1080 920h10v10H1080zM20 930h30v10H20zM80 930h10v10H80zM150 930h20v10H150zM190 930h10v10H190zM240 930h10v10H240zM500 930h10v10H500zM570 930h30v10H570zM610 930h10v10H610zM630 930h20v10H630zM710 930h10v10H710zM820 930h20v10H820zM1000 930h20v10H1000zM1100 930h10v10H1100zM0 940h20v10H0zM30 940h10v10H30zM110 940h10v10H110zM160 940h10v10H160zM250 940h30v10H250zM360 940h20v10H360zM390 940h10v10H390zM440 940h10v10H440zM530 940h10v10H530zM560 940h60v10H560zM640 940h10v10H640zM710 940h10v10H710zM730 940h20v10H730zM790 940h10v10H790zM820 940h10v10H820zM850 940h10v10H850zM980 940h10v10H980zM1060 940h10v10H1060zM1090 940h20v10H1090zM90 950h10v10H90zM110 950h10v10H110zM210 950h10v10H210zM230 950h20v10H230zM520 950h10v10H520zM550 950h40v10H550zM600 950h10v10H600zM650 950h20v10H650zM730 950h10v10H730zM770 950h10v10H770zM800 950h10v10H800zM860 950h10v10H860zM890 950h10v10H890zM960 950h10v10H960zM1000 950h10v10H1000zM1100 950h10v10H1100zM1130 950h10v10H1130zM50 960h10v10H50zM100 960h10v10H100zM170 960h40v10H170zM310 960h10v10H310zM340 960h10v10H340zM370 960h20v10H370zM510 960h20v10H510zM590 960h20v10H590zM630 960h10v10H630zM650 960h10v10H650zM680 960h10v10H680zM700 960h30v10H700zM860 960h10v10H860zM920 960h10v10H920zM960 960h20v10H960zM1190 960h10v10H1190zM0 970h20v10H0zM50 970h30v10H50zM190 970h10v10H190zM300 970h10v10H300zM330 970h10v10H330zM380 970h10v10H380zM400 970h20v10H400zM520 970h10v10H520zM550 970h10v10H550zM570 970h10v10H570zM590 970h10v10H590zM610 970h10v10H610zM660 970h10v10H660zM710 970h20v10H710zM750 970h10v10H750zM820 970h10v10H820zM860 970h10v10H860zM880 970h10v10H880zM900 970h30v10H900zM970 970h20v10H970zM1120 970h10v10H1120zM1190 970h10v10H1190zM10 980h10v10H10zM70 980h10v10H70zM100 980h10v10H100zM150 980h10v10H150zM310 980h10v10H310zM380 980h50v10H380zM550 980h30v10H550zM600 980h20v10H600zM640 980h40v10H640zM690 980h20v10H690zM760 980h40v10H760zM840 980h10v10H840zM860 980h10v10H860zM900 980h10v10H900zM990 980h10v10H990zM1080 980h30v10H1080zM1160 980h10v10H1160zM0 990h10v10H0zM90 990h10v10H90zM170 990h10v10H170zM230 990h10v10H230zM250 990h20v10H250zM380 990h10v10H380zM430 990h20v10H430zM550 990h10v10H550zM610 990h10v10H610zM630 990h10v10H630zM650 990h10v10H650zM670 990h10v10H670zM690 990h20v10H690zM730 990h20v10H730zM760 990h40v10H760zM840 990h10v10H840zM860 990h20v10H860zM920 990h20v10H920zM1000 990h10v10H1000zM1070 990h10v10H1070zM10 1000h10v10H10zM90 1000h10v10H90zM140 1000h10v10H140zM250 1000h10v10H250zM340 1000h10v10H340zM390 1000h10v10H390zM430 1000h10v10H430zM450 1000h10v10H450zM560 1000h10v10H560zM630 1000h10v10H630zM660 1000h20v10H660zM710 1000h20v10H710zM760 1000h10v10H760zM790 1000h10v10H790zM820 1000h20v10H820zM870 1000h10v10H870zM910 1000h20v10H910zM980 1000h10v10H980zM1030 1000h10v10H1030zM1070 1000h40v10H1070zM20 1010h10v10H20zM60 1010h10v10H60zM80 1010h10v10H80zM100 1010h10v10H100zM130 1010h20v10H130zM230 1010h10v10H230zM250 1010h20v10H250zM370 1010h10v10H370zM410 1010h10v10H410zM430 1010h20v10H430zM460 1010h10v10H460zM560 1010h10v10H560zM580 1010h30v10H580zM790 1010h10v10H790zM830 1010h10v10H830zM900 1010h10v10H900zM1120 1010h10v10H1120zM90 1020h10v10H90zM130 1020h20v10H130zM180 1020h10v10H180zM240 1020h40v10H240zM300 1020h10v10H300zM320 1020h10v10H320zM530 1020h10v10H530zM560 1020h20v10H560zM690 1020h10v10H690zM730 1020h20v10H730zM810 1020h20v10H810zM930 1020h10v10H930zM950 1020h10v10H950zM1020 1020h10v10H1020zM1080 1020h10v10H1080zM1130 1020h10v10H1130zM0 1030h20v10H0zM40 1030h10v10H40zM70 1030h10v10H70zM120 1030h20v10H120zM180 1030h10v10H180zM210 1030h20v10H210zM250 1030h20v10H250zM350 1030h20v10H350zM420 1030h10v10H420zM440 1030h10v10H440zM460 1030h20v10H460zM540 1030h20v10H540zM600 1030h20v10H600zM660 1030h10v10H660zM810 1030h10v10H810zM830 1030h10v10H830zM870 1030h10v10H870zM1020 1030h10v10H1020zM1050 1030h20v10H1050zM1080 1030h10v10H1080zM1150 1030h10v10H1150zM10 1040h10v10H10zM50 1040h20v10H50zM80 1040h10v10H80zM100 1040h10v10H100zM150 1040h10v10H150zM300 1040h10v10H300zM400 1040h10v10H400zM420 1040h10v10H420zM450 1040h20v10H450zM520 1040h10v10H520zM830 1040h10v10H830zM870 1040h10v10H870zM900 1040h20v10H900zM970 1040h20v10H970zM1000 1040h10v10H1000zM1030 1040h10v10H1030zM1080 1040h20v10H1080zM1120 1040h10v10H1120zM1150 1040h20v10H1150zM120 1050h10v10H120zM190 1050h10v10H190zM220 1050h30v10H220zM290 1050h10v10H290zM310 1050h10v10H310zM330 1050h10v10H330zM390 1050h10v10H390zM410 1050h10v10H410zM460 1050h50v10H460zM670 1050h10v10H670zM720 1050h10v10H720zM860 1050h10v10H860zM880 1050h10v10H880zM910 1050h10v10H910zM970 1050h20v10H970zM1030 1050h40v10H1030zM1080 1050h10v10H1080zM10 1060h10v10H10zM60 1060h10v10H60zM90 1060h30v10H90zM130 1060h20v10H130zM160 1060h50v10H160zM300 1060h10v10H300zM320 1060h30v10H320zM390 1060h30v10H390zM500 1060h10v10H500zM530 1060h10v10H530zM560 1060h20v10H560zM720 1060h10v10H720zM830 1060h10v10H830zM860 1060h10v10H860zM920 1060h10v10H920zM1060 1060h10v10H1060zM1080 1060h20v10H1080zM1120 1060h10v10H1120zM1140 1060h10v10H1140zM0 1070h40v10H0zM60 1070h10v10H60zM90 1070h10v10H90zM170 1070h10v10H170zM230 1070h20v10H230zM290 1070h20v10H290zM320 1070h10v10H320zM410 1070h20v10H410zM440 1070h10v10H440zM460 1070h10v10H460zM480 1070h40v10H480zM530 1070h10v10H530zM720 1070h10v10H720zM740 1070h10v10H740zM760 1070h10v10H760zM790 1070h20v10H790zM890 1070h20v10H890zM1010 1070h20v10H1010zM1060 1070h20v10H1060zM30 1080h10v10H30zM60 1080h10v10H60zM100 1080h30v10H100zM170 1080h20v10H170zM280 1080h10v10H280zM300 1080h30v10H300zM350 1080h20v10H350zM410 1080h20v10H410zM500 1080h20v10H500zM570 1080h10v10H570zM630 1080h10v10H630zM660 1080h10v10H660zM720 1080h10v10H720zM760 1080h10v10H760zM780 1080h10v10H780zM880 1080h20v10H880zM920 1080h20v10H920zM1000 1080h10v10H1000zM1060 1080h30v10H1060zM1120 1080h10v10H1120zM10 1090h10v10H10zM30 1090h10v10H30zM160 1090h20v10H160zM190 1090h10v10H190zM220 1090h20v10H220zM260 1090h10v10H260zM320 1090h10v10H320zM390 1090h30v10H390zM500 1090h10v10H500zM570 1090h10v10H570zM620 1090h20v10H620zM690 1090h10v10H690zM710 1090h10v10H710zM780 1090h10v10H780zM830 1090h10v10H830zM920 1090h20v10H920zM950 1090h10v10H950zM1060 1090h10v10H1060zM1110 1090h20v10H1110zM1170 1090h10v10H1170zM100 1100h10v10H100zM240 1100h10v10H240zM340 1100h40v10H340zM390 1100h10v10H390zM460 1100h10v10H460zM480 1100h10v10H480zM520 1100h10v10H520zM550 1100h10v10H550zM580 1100h10v10H580zM630 1100h10v10H630zM650 1100h10v10H650zM670 1100h10v10H670zM720 1100h20v10H720zM790 1100h10v10H790zM840 1100h10v10H840zM860 1100h10v10H860zM880 1100h10v10H880zM910 1100h10v10H910zM970 1100h10v10H970zM1050 1100h20v10H1050zM1090 1100h10v10H1090zM1120 1100h10v10H1120zM1180 1100h10v10H1180zM70 1110h10v10H70zM130 1110h20v10H130zM160 1110h10v10H160zM180 1110h10v10H180zM240 1110h20v10H240zM280 1110h10v10H280zM360 1110h10v10H360zM380 1110h10v10H380zM430 1110h20v10H430zM470 1110h40v10H470zM580 1110h10v10H580zM600 1110h10v10H600zM620 1110h40v10H620zM680 1110h10v10H680zM730 1110h10v10H730zM750 1110h10v10H750zM830 1110h20v10H830zM860 1110h10v10H860zM920 1110h10v10H920zM1050 1110h10v10H1050zM1080 1110h30v10H1080zM1130 1110h10v10H1130zM1150 1110h10v10H1150zM0 1120h10v10H0zM30 1120h20v10H30zM100 1120h20v10H100zM130 1120h20v10H130zM200 1120h10v10H200zM240 1120h50v10H240zM430 1120h10v10H430zM480 1120h10v10H480zM510 1120h10v10H510zM570 1120h10v10H570zM650 1120h10v10H650zM740 1120h20v10H740zM950 1120h10v10H950zM1070 1120h30v10H1070zM1110 1120h20v10H1110zM1140 1120h10v10H1140zM1180 1120h20v10H1180zM10 1130h20v10H10zM70 1130h20v10H70zM110 1130h10v10H110zM210 1130h20v10H210zM260 1130h10v10H260zM330 1130h10v10H330zM390 1130h10v10H390zM410 1130h30v10H410zM470 1130h20v10H470zM530 1130h20v10H530zM570 1130h10v10H570zM640 1130h30v10H640zM700 1130h10v10H700zM760 1130h10v10H760zM790 1130h10v10H790zM860 1130h10v10H860zM940 1130h10v10H940zM980 1130h10v10H980zM1030 1130h10v10H1030zM1100 1130h10v10H1100zM1120 1130h10v10H1120zM1140 1130h10v10H1140zM30 1140h10v10H30zM80 1140h20v10H80zM150 1140h50v10H150zM210 1140h30v10H210zM300 1140h10v10H300zM330 1140h30v10H330zM400 1140h30v10H400zM470 1140h10v10H470zM510 1140h10v10H510zM530 1140h10v10H530zM620 1140h20v10H620zM670 1140h20v10H670zM750 1140h50v10H750zM860 1140h10v10H860zM890 1140h10v10H890zM1020 1140h40v10H1020zM1070 1140h20v10H1070zM1130 1140h10v10H1130zM10 1150h10v10H10zM30 1150h10v10H30zM90 1150h20v10H90zM140 1150h10v10H140zM200 1150h20v10H200zM290 1150h40v10H290zM370 1150h10v10H370zM390 1150h10v10H390zM460 1150h30v10H460zM640 1150h10v10H640zM670 1150h10v10H670zM700 1150h10v10H700zM760 1150h10v10H760zM780 1150h30v10H780zM850 1150h20v10H850zM880 1150h10v10H880zM910 1150h10v10H910zM990 1150h10v10H990zM1010 1150h10v10H1010zM1050 1150h20v10H1050zM1120 1150h10v10H1120zM30 1160h20v10H30zM70 1160h10v10H70zM270 1160h20v10H270zM310 1160h20v10H310zM360 1160h10v10H360zM390 1160h10v10H390zM440 1160h20v10H440zM470 1160h10v10H470zM490 1160h20v10H490zM580 1160h10v10H580zM740 1160h30v10H740zM800 1160h10v10H800zM880 1160h10v10H880zM940 1160h10v10H940zM980 1160h10v10H980zM10 1170h10v10H10zM40 1170h20v10H40zM160 1170h10v10H160zM410 1170h20v10H410zM450 1170h20v10H450zM590 1170h20v10H590zM770 1170h10v10H770zM840 1170h20v10H840zM890 1170h10v10H890zM940 1170h10v10H940zM1050 1170h20v10H1050zM1090 1170h20v10H1090zM1180 1170h10v10H1180zM30 1180h10v10H30zM70 1180h10v10H70zM110 1180h10v10H110zM290 1180h20v10H290zM330 1180h10v10H330zM350 1180h40v10H350zM450 1180h10v10H450zM490 1180h20v10H490zM530 1180h10v10H530zM550 1180h10v10H550zM710 1180h20v10H710zM810 1180h10v10H810zM840 1180h20v10H840zM920 1180h10v10H920zM940 1180h20v10H940zM1060 1180h10v10H1060zM1090 1180h20v10H1090zM1120 1180h10v10H1120zM60 1190h10v10H60zM100 1190h10v10H100zM140 1190h10v10H140zM290 1190h20v10H290zM320 1190h10v10H320zM370 1190h20v10H370zM440 1190h10v10H440zM470 1190h20v10H470zM500 1190h10v10H500zM520 1190h20v10H520zM640 1190h10v10H640zM770 1190h10v10H770zM830 1190h10v10H830zM860 1190h10v10H860zM930 1190h10v10H930zM1000 1190h10v10H1000zM1020 1190h10v10H1020zM1060 1190h20v10H1060zM1110 1190h40v10H1110zM1180 1190h10v10H1180z"/><path fill="rgb(0,82,255)" d="M10 0h10v10H10zM370 0h10v10H370zM510 0h20v10H510zM840 0h10v10H840zM890 0h20v10H890zM1110 0h20v10H1110zM1170 0h10v10H1170zM150 10h30v10H150zM350 10h40v10H350zM720 10h10v10H720zM830 10h20v10H830zM960 10h20v10H960zM1100 10h20v10H1100zM1170 10h10v10H1170zM70 20h10v10H70zM140 20h30v10H140zM180 20h20v10H180zM370 20h10v10H370zM630 20h10v10H630zM720 20h10v10H720zM750 20h10v10H750zM840 20h20v10H840zM910 20h20v10H910zM970 20h10v10H970zM1100 20h10v10H1100zM1160 20h30v10H1160zM180 30h10v10H180zM370 30h10v10H370zM500 30h30v10H500zM930 30h20v10H930zM1010 30h10v10H1010zM420 40h20v10H420zM660 40h10v10H660zM910 40h10v10H910zM930 40h10v10H930zM1140 40h10v10H1140zM50 50h20v10H50zM80 50h10v10H80zM130 50h20v10H130zM420 50h20v10H420zM510 50h20v10H510zM800 50h10v10H800zM830 50h20v10H830zM900 50h20v10H900zM1020 50h10v10H1020zM1160 50h40v10H1160zM30 60h40v10H30zM90 60h10v10H90zM130 60h10v10H130zM800 60h20v10H800zM1010 60h20v10H1010zM1130 60h10v10H1130zM1160 60h40v10H1160zM0 70h10v10H0zM30 70h20v10H30zM320 70h10v10H320zM380 70h10v10H380zM470 70h10v10H470zM550 70h10v10H550zM580 70h20v10H580zM610 70h20v10H610zM720 70h10v10H720zM910 70h10v10H910zM1010 70h20v10H1010zM1110 70h30v10H1110zM1170 70h20v10H1170zM10 80h10v10H10zM90 80h10v10H90zM380 80h10v10H380zM500 80h20v10H500zM580 80h20v10H580zM620 80h10v10H620zM720 80h20v10H720zM1020 80h10v10H1020zM1090 80h30v10H1090zM20 90h20v10H20zM130 90h10v10H130zM390 90h10v10H390zM510 90h10v10H510zM530 90h30v10H530zM960 90h10v10H960zM1010 90h20v10H1010zM40 100h10v10H40zM340 100h20v10H340zM390 100h10v10H390zM530 100h40v10H530zM580 100h20v10H580zM740 100h10v10H740zM1020 100h10v10H1020zM1070 100h20v10H1070zM230 110h20v10H230zM420 110h10v10H420zM450 110h10v10H450zM550 110h50v10H550zM1080 110h30v10H1080zM1120 110h10v10H1120zM1160 110h10v10H1160zM120 120h10v10H120zM200 120h10v10H200zM240 120h20v10H240zM350 120h10v10H350zM450 120h20v10H450zM830 120h30v10H830zM180 130h10v10H180zM280 130h10v10H280zM320 130h10v10H320zM430 130h20v10H430zM850 130h10v10H850zM180 140h10v10H180zM270 140h20v10H270zM430 140h20v10H430zM890 140h10v10H890zM920 140h20v10H920zM1130 140h10v10H1130zM60 150h10v10H60zM190 150h10v10H190zM250 150h50v10H250zM400 150h10v10H400zM520 150h10v10H520zM670 150h10v10H670zM840 150h20v10H840zM880 150h10v10H880zM930 150h10v10H930zM1120 150h20v10H1120zM50 160h30v10H50zM210 160h10v10H210zM250 160h20v10H250zM400 160h10v10H400zM520 160h10v10H520zM770 160h20v10H770zM840 160h10v10H840zM880 160h10v10H880zM930 160h10v10H930zM950 160h10v10H950zM1120 160h10v10H1120zM250 170h20v10H250zM770 170h50v10H770zM880 170h10v10H880zM940 170h10v10H940zM1060 170h20v10H1060zM1110 170h10v10H1110zM1170 170h10v10H1170zM0 180h10v10H0zM110 180h10v10H110zM200 180h10v10H200zM250 180h20v10H250zM570 180h10v10H570zM930 180h30v10H930zM1050 180h40v10H1050zM1110 180h10v10H1110zM0 190h10v10H0zM30 190h10v10H30zM170 190h10v10H170zM210 190h20v10H210zM560 190h20v10H560zM700 190h20v10H700zM740 190h10v10H740zM810 190h10v10H810zM940 190h20v10H940zM1060 190h40v10H1060zM1120 190h20v10H1120zM160 200h10v10H160zM180 200h20v10H180zM410 200h10v10H410zM710 200h30v10H710zM810 200h10v10H810zM940 200h10v10H940zM1070 200h20v10H1070zM1130 200h10v10H1130zM20 210h10v10H20zM160 210h10v10H160zM300 210h20v10H300zM400 210h20v10H400zM550 210h10v10H550zM590 210h20v10H590zM720 210h20v10H720zM1060 210h10v10H1060zM1080 210h10v10H1080zM1130 210h10v10H1130zM1160 210h20v10H1160zM10 220h20v10H10zM50 220h10v10H50zM330 220h10v10H330zM400 220h20v10H400zM460 220h20v10H460zM540 220h10v10H540zM710 220h30v10H710zM810 220h10v10H810zM1040 220h10v10H1040zM1080 220h20v10H1080zM1130 220h20v10H1130zM40 230h10v10H40zM70 230h20v10H70zM190 230h10v10H190zM280 230h20v10H280zM410 230h10v10H410zM720 230h20v10H720zM760 230h10v10H760zM800 230h20v10H800zM830 230h20v10H830zM940 230h10v10H940zM980 230h10v10H980zM1040 230h20v10H1040zM1090 230h10v10H1090zM70 240h10v10H70zM110 240h10v10H110zM130 240h20v10H130zM190 240h10v10H190zM390 240h20v10H390zM760 240h10v10H760zM800 240h40v10H800zM980 240h10v10H980zM1170 240h10v10H1170zM50 250h20v10H50zM130 250h40v10H130zM190 250h10v10H190zM240 250h10v10H240zM910 250h10v10H910zM980 250h10v10H980zM10 260h10v10H10zM50 260h40v10H50zM140 260h10v10H140zM160 260h40v10H160zM950 260h10v10H950zM990 260h10v10H990zM1080 260h10v10H1080zM70 270h10v10H70zM160 270h30v10H160zM240 270h10v10H240zM320 270h20v10H320zM530 270h20v10H530zM860 270h10v10H860zM990 270h20v10H990zM1020 270h10v10H1020zM1080 270h10v10H1080zM320 280h20v10H320zM420 280h10v10H420zM540 280h10v10H540zM750 280h10v10H750zM990 280h10v10H990zM1010 280h20v10H1010zM1130 280h10v10H1130zM180 290h10v10H180zM530 290h20v10H530zM940 290h10v10H940zM1120 290h10v10H1120zM1140 290h20v10H1140zM30 300h20v10H30zM110 300h10v10H110zM130 300h10v10H130zM210 300h10v10H210zM520 300h40v10H520zM640 300h10v10H640zM670 300h10v10H670zM760 300h20v10H760zM1090 300h10v10H1090zM0 310h10v10H0zM60 310h10v10H60zM100 310h30v10H100zM200 310h10v10H200zM270 310h10v10H270zM600 310h20v10H600zM700 310h10v10H700zM740 310h30v10H740zM810 310h10v10H810zM1190 310h10v10H1190zM0 320h10v10H0zM60 320h10v10H60zM90 320h30v10H90zM160 320h10v10H160zM270 320h10v10H270zM540 320h20v10H540zM590 320h30v10H590zM680 320h30v10H680zM730 320h20v10H730zM950 320h10v10H950zM1090 320h10v10H1090zM1190 320h10v10H1190zM90 330h20v10H90zM590 330h10v10H590zM610 330h10v10H610zM820 330h10v10H820zM1000 330h10v10H1000zM90 340h10v10H90zM260 340h10v10H260zM280 340h10v10H280zM580 340h10v10H580zM610 340h10v10H610zM790 340h10v10H790zM820 340h10v10H820zM960 340h10v10H960zM1070 340h10v10H1070zM1100 340h10v10H1100zM90 350h10v10H90zM360 350h10v10H360zM820 350h40v10H820zM960 350h10v10H960zM340 360h20v10H340zM430 360h10v10H430zM810 360h30v10H810zM910 360h10v10H910zM1110 360h10v10H1110zM1180 360h10v10H1180zM30 370h40v10H30zM290 370h10v10H290zM340 370h10v10H340zM580 370h10v10H580zM810 370h10v10H810zM950 370h20v10H950zM1100 370h20v10H1100zM30 380h20v10H30zM340 380h20v10H340zM380 380h10v10H380zM440 380h10v10H440zM960 380h20v10H960zM1020 380h10v10H1020zM1100 380h10v10H1100zM140 390h10v10H140zM340 390h10v10H340zM380 390h20v10H380zM440 390h10v10H440zM460 390h20v10H460zM530 390h10v10H530zM720 390h10v10H720zM750 390h10v10H750zM970 390h10v10H970zM1090 390h20v10H1090zM50 400h10v10H50zM240 400h10v10H240zM340 400h10v10H340zM380 400h10v10H380zM460 400h20v10H460zM530 400h10v10H530zM580 400h10v10H580zM750 400h10v10H750zM970 400h10v10H970zM1080 400h20v10H1080zM1110 400h10v10H1110zM40 410h30v10H40zM220 410h10v10H220zM310 410h20v10H310zM340 410h10v10H340zM450 410h10v10H450zM660 410h10v10H660zM680 410h10v10H680zM720 410h50v10H720zM850 410h20v10H850zM1060 410h20v10H1060zM40 420h20v10H40zM130 420h10v10H130zM180 420h20v10H180zM310 420h10v10H310zM500 420h10v10H500zM610 420h20v10H610zM720 420h20v10H720zM760 420h20v10H760zM850 420h10v10H850zM900 420h10v10H900zM990 420h10v10H990zM1080 420h10v10H1080zM1130 420h10v10H1130zM50 430h20v10H50zM90 430h10v10H90zM130 430h10v10H130zM380 430h10v10H380zM520 430h20v10H520zM610 430h30v10H610zM720 430h10v10H720zM770 430h10v10H770zM840 430h10v10H840zM900 430h40v10H900zM980 430h20v10H980zM1080 430h60v10H1080zM1180 430h20v10H1180zM50 440h20v10H50zM100 440h10v10H100zM250 440h20v10H250zM290 440h20v10H290zM370 440h30v10H370zM450 440h20v10H450zM670 440h10v10H670zM700 440h10v10H700zM780 440h10v10H780zM840 440h20v10H840zM900 440h30v10H900zM1090 440h40v10H1090zM1180 440h10v10H1180zM50 450h20v10H50zM80 450h10v10H80zM170 450h20v10H170zM250 450h10v10H250zM310 450h10v10H310zM350 450h20v10H350zM400 450h20v10H400zM460 450h10v10H460zM600 450h10v10H600zM670 450h10v10H670zM690 450h20v10H690zM780 450h10v10H780zM900 450h30v10H900zM1030 450h20v10H1030zM1100 450h40v10H1100zM1170 450h20v10H1170zM0 460h30v10H0zM50 460h20v10H50zM120 460h10v10H120zM170 460h20v10H170zM360 460h10v10H360zM610 460h10v10H610zM660 460h10v10H660zM900 460h30v10H900zM960 460h10v10H960zM990 460h10v10H990zM1060 460h20v10H1060zM1180 460h20v10H1180zM50 470h10v10H50zM180 470h20v10H180zM300 470h10v10H300zM350 470h20v10H350zM410 470h10v10H410zM610 470h20v10H610zM840 470h20v10H840zM910 470h10v10H910zM950 470h10v10H950zM1000 470h10v10H1000zM1060 470h50v10H1060zM50 480h20v10H50zM220 480h10v10H220zM390 480h10v10H390zM620 480h10v10H620zM820 480h10v10H820zM1110 480h10v10H1110zM40 490h30v10H40zM110 490h30v10H110zM810 490h20v10H810zM890 490h20v10H890zM1050 490h20v10H1050zM0 500h10v10H0zM180 500h10v10H180zM230 500h10v10H230zM280 500h20v10H280zM330 500h20v10H330zM490 500h10v10H490zM550 500h20v10H550zM590 500h20v10H590zM690 500h10v10H690zM730 500h10v10H730zM810 500h20v10H810zM900 500h10v10H900zM1050 500h20v10H1050zM180 510h10v10H180zM210 510h40v10H210zM320 510h30v10H320zM400 510h10v10H400zM590 510h10v10H590zM690 510h10v10H690zM730 510h10v10H730zM780 510h10v10H780zM810 510h20v10H810zM1030 510h10v10H1030zM1060 510h20v10H1060zM40 520h10v10H40zM190 520h40v10H190zM320 520h20v10H320zM420 520h10v10H420zM650 520h10v10H650zM780 520h20v10H780zM910 520h10v10H910zM1030 520h10v10H1030zM1070 520h10v10H1070zM30 530h20v10H30zM140 530h10v10H140zM190 530h20v10H190zM280 530h10v10H280zM310 530h10v10H310zM390 530h20v10H390zM420 530h30v10H420zM830 530h20v10H830zM910 530h10v10H910zM950 530h10v10H950zM1030 530h20v10H1030zM1180 530h10v10H1180zM0 540h10v10H0zM240 540h10v10H240zM390 540h20v10H390zM430 540h10v10H430zM670 540h20v10H670zM720 540h10v10H720zM830 540h20v10H830zM910 540h10v10H910zM950 540h10v10H950zM1040 540h10v10H1040zM1110 540h30v10H1110zM170 550h10v10H170zM280 550h20v10H280zM350 550h10v10H350zM390 550h10v10H390zM680 550h10v10H680zM880 550h10v10H880zM1020 550h10v10H1020zM10 560h20v10H10zM100 560h10v10H100zM250 560h10v10H250zM410 560h30v10H410zM600 560h10v10H600zM680 560h10v10H680zM880 560h20v10H880zM930 560h40v10H930zM1020 560h20v10H1020zM10 570h20v10H10zM90 570h20v10H90zM140 570h20v10H140zM280 570h10v10H280zM400 570h10v10H400zM470 570h10v10H470zM610 570h20v10H610zM930 570h20v10H930zM1030 570h10v10H1030zM0 580h10v10H0zM30 580h10v10H30zM100 580h10v10H100zM400 580h10v10H400zM840 580h20v10H840zM1000 580h10v10H1000zM1030 580h20v10H1030zM1150 580h10v10H1150zM0 590h20v10H0zM60 590h20v10H60zM990 590h10v10H990zM1040 590h10v10H1040zM10 600h20v10H10zM70 600h10v10H70zM980 600h10v10H980zM1120 600h10v10H1120zM1160 600h10v10H1160zM30 610h10v10H30zM120 610h30v10H120zM170 610h10v10H170zM200 610h10v10H200zM290 610h30v10H290zM330 610h10v10H330zM550 610h10v10H550zM660 610h10v10H660zM970 610h10v10H970zM1080 610h10v10H1080zM1120 610h20v10H1120zM40 620h10v10H40zM130 620h10v10H130zM180 620h10v10H180zM250 620h10v10H250zM290 620h20v10H290zM370 620h10v10H370zM550 620h10v10H550zM660 620h10v10H660zM690 620h10v10H690zM840 620h10v10H840zM910 620h10v10H910zM120 630h20v10H120zM270 630h10v10H270zM300 630h10v10H300zM370 630h10v10H370zM410 630h10v10H410zM550 630h10v10H550zM640 630h10v10H640zM840 630h30v10H840zM910 630h10v10H910zM980 630h10v10H980zM270 640h10v10H270zM310 640h10v10H310zM360 640h10v10H360zM480 640h10v10H480zM590 640h10v10H590zM1190 640h10v10H1190zM0 650h20v10H0zM110 650h10v10H110zM130 650h10v10H130zM160 650h10v10H160zM390 650h10v10H390zM430 650h10v10H430zM480 650h10v10H480zM570 650h20v10H570zM880 650h10v10H880zM930 650h30v10H930zM1050 650h20v10H1050zM1190 650h10v10H1190zM10 660h20v10H10zM100 660h20v10H100zM420 660h20v10H420zM830 660h30v10H830zM880 660h10v10H880zM940 660h20v10H940zM1060 660h10v10H1060zM1160 660h10v10H1160zM240 670h10v10H240zM410 670h10v10H410zM610 670h10v10H610zM640 670h30v10H640zM820 670h10v10H820zM840 670h50v10H840zM940 670h20v10H940zM1060 670h20v10H1060zM1160 670h10v10H1160zM40 680h10v10H40zM70 680h10v10H70zM230 680h10v10H230zM500 680h10v10H500zM560 680h20v10H560zM660 680h10v10H660zM820 680h10v10H820zM850 680h10v10H850zM870 680h20v10H870zM950 680h20v10H950zM1030 680h10v10H1030zM1060 680h30v10H1060zM20 690h10v10H20zM40 690h10v10H40zM60 690h20v10H60zM500 690h10v10H500zM660 690h10v10H660zM760 690h30v10H760zM870 690h10v10H870zM950 690h10v10H950zM1080 690h10v10H1080zM70 700h20v10H70zM180 700h10v10H180zM750 700h20v10H750zM870 700h10v10H870zM910 700h10v10H910zM1190 700h10v10H1190zM0 710h10v10H0zM160 710h20v10H160zM220 710h10v10H220zM540 710h10v10H540zM590 710h10v10H590zM710 710h10v10H710zM750 710h20v10H750zM870 710h20v10H870zM1190 710h10v10H1190zM0 720h10v10H0zM270 720h20v10H270zM430 720h10v10H430zM630 720h20v10H630zM750 720h20v10H750zM850 720h10v10H850zM1020 720h30v10H1020zM1130 720h10v10H1130zM1190 720h10v10H1190zM180 730h50v10H180zM280 730h10v10H280zM430 730h10v10H430zM630 730h20v10H630zM960 730h10v10H960zM990 730h10v10H990zM1030 730h10v10H1030zM100 740h10v10H100zM170 740h20v10H170zM220 740h10v10H220zM400 740h40v10H400zM460 740h10v10H460zM550 740h10v10H550zM580 740h10v10H580zM990 740h10v10H990zM1100 740h20v10H1100zM1160 740h10v10H1160zM70 750h20v10H70zM220 750h10v10H220zM390 750h50v10H390zM540 750h20v10H540zM580 750h20v10H580zM770 750h20v10H770zM1110 750h10v10H1110zM40 760h10v10H40zM70 760h10v10H70zM210 760h10v10H210zM230 760h10v10H230zM270 760h10v10H270zM430 760h10v10H430zM490 760h10v10H490zM520 760h10v10H520zM580 760h20v10H580zM780 760h10v10H780zM960 760h20v10H960zM1070 760h10v10H1070zM1120 760h10v10H1120zM270 770h10v10H270zM350 770h10v10H350zM500 770h30v10H500zM740 770h30v10H740zM840 770h10v10H840zM1040 770h10v10H1040zM1070 770h10v10H1070zM350 780h10v10H350zM650 780h10v10H650zM750 780h10v10H750zM840 780h20v10H840zM890 780h10v10H890zM980 780h10v10H980zM1070 780h10v10H1070zM70 790h10v10H70zM260 790h20v10H260zM390 790h20v10H390zM650 790h20v10H650zM700 790h20v10H700zM830 790h10v10H830zM850 790h10v10H850zM890 790h10v10H890zM920 790h10v10H920zM980 790h10v10H980zM40 800h40v10H40zM260 800h20v10H260zM460 800h20v10H460zM660 800h10v10H660zM850 800h10v10H850zM890 800h10v10H890zM1010 800h10v10H1010zM1160 800h10v10H1160zM270 810h10v10H270zM420 810h10v10H420zM800 810h10v10H800zM840 810h30v10H840zM890 810h10v10H890zM80 820h20v10H80zM270 820h10v10H270zM420 820h20v10H420zM720 820h10v10H720zM850 820h10v10H850zM890 820h20v10H890zM1040 820h10v10H1040zM1080 820h20v10H1080zM110 830h10v10H110zM130 830h20v10H130zM330 830h10v10H330zM350 830h10v10H350zM700 830h20v10H700zM980 830h10v10H980zM1040 830h10v10H1040zM1080 830h20v10H1080zM1130 830h20v10H1130zM200 840h10v10H200zM330 840h10v10H330zM420 840h10v10H420zM530 840h10v10H530zM830 840h10v10H830zM890 840h20v10H890zM1040 840h10v10H1040zM80 850h10v10H80zM160 850h20v10H160zM210 850h10v10H210zM370 850h10v10H370zM410 850h20v10H410zM450 850h10v10H450zM720 850h10v10H720zM160 860h10v10H160zM230 860h20v10H230zM370 860h10v10H370zM480 860h10v10H480zM640 860h10v10H640zM710 860h20v10H710zM750 860h20v10H750zM860 860h20v10H860zM1070 860h10v10H1070zM50 870h10v10H50zM430 870h10v10H430zM710 870h10v10H710zM880 870h10v10H880zM940 870h10v10H940zM980 870h20v10H980zM1140 870h20v10H1140zM150 880h10v10H150zM190 880h20v10H190zM340 880h10v10H340zM540 880h10v10H540zM600 880h10v10H600zM70 890h30v10H70zM380 890h10v10H380zM420 890h10v10H420zM540 890h10v10H540zM610 890h10v10H610zM850 890h10v10H850zM910 890h10v10H910zM70 900h30v10H70zM160 900h10v10H160zM180 900h20v10H180zM410 900h10v10H410zM440 900h10v10H440zM710 900h10v10H710zM760 900h20v10H760zM800 900h20v10H800zM850 900h10v10H850zM1010 900h10v10H1010zM1080 900h10v10H1080zM180 910h20v10H180zM310 910h10v10H310zM440 910h10v10H440zM590 910h20v10H590zM750 910h20v10H750zM1010 910h10v10H1010zM1080 910h10v10H1080zM1170 910h20v10H1170zM150 920h10v10H150zM180 920h20v10H180zM440 920h10v10H440zM590 920h10v10H590zM630 920h10v10H630zM750 920h20v10H750zM1110 920h20v10H1110zM1170 920h30v10H1170zM170 930h20v10H170zM440 930h30v10H440zM560 930h10v10H560zM840 930h10v10H840zM1060 930h10v10H1060zM1110 930h30v10H1110zM100 940h10v10H100zM170 940h10v10H170zM230 940h20v10H230zM760 940h10v10H760zM830 940h20v10H830zM1110 940h30v10H1110zM0 950h20v10H0zM100 950h10v10H100zM160 950h20v10H160zM360 950h40v10H360zM510 950h10v10H510zM590 950h10v10H590zM640 950h10v10H640zM760 950h10v10H760zM850 950h10v10H850zM1110 950h20v10H1110zM0 960h20v10H0zM90 960h10v10H90zM360 960h10v10H360zM390 960h10v10H390zM550 960h10v10H550zM640 960h10v10H640zM660 960h20v10H660zM760 960h20v10H760zM870 960h30v10H870zM1100 960h30v10H1100zM310 970h20v10H310zM390 970h10v10H390zM600 970h10v10H600zM670 970h20v10H670zM760 970h30v10H760zM870 970h10v10H870zM990 970h10v10H990zM1100 970h20v10H1100zM140 980h10v10H140zM160 980h20v10H160zM320 980h10v10H320zM850 980h10v10H850zM1110 980h10v10H1110zM10 990h10v10H10zM70 990h20v10H70zM130 990h20v10H130zM560 990h10v10H560zM620 990h10v10H620zM640 990h10v10H640zM660 990h10v10H660zM1080 990h10v10H1080zM1110 990h10v10H1110zM1160 990h20v10H1160zM80 1000h10v10H80zM130 1000h10v10H130zM290 1000h20v10H290zM380 1000h10v10H380zM440 1000h10v10H440zM460 1000h10v10H460zM640 1000h10v10H640zM730 1000h10v10H730zM770 1000h20v10H770zM800 1000h10v10H800zM10 1010h10v10H10zM90 1010h10v10H90zM240 1010h10v10H240zM300 1010h20v10H300zM450 1010h10v10H450zM570 1010h10v10H570zM680 1010h10v10H680zM780 1010h10v10H780zM800 1010h30v10H800zM0 1020h30v10H0zM50 1020h20v10H50zM310 1020h10v10H310zM430 1020h10v10H430zM520 1020h10v10H520zM680 1020h10v10H680zM960 1020h10v10H960zM50 1030h20v10H50zM170 1030h10v10H170zM430 1030h10v10H430zM450 1030h10v10H450zM520 1030h20v10H520zM820 1030h10v10H820zM1090 1030h10v10H1090zM1160 1030h10v10H1160zM90 1040h10v10H90zM220 1040h10v10H220zM250 1040h10v10H250zM410 1040h10v10H410zM530 1040h10v10H530zM660 1040h10v10H660zM810 1040h20v10H810zM1040 1040h30v10H1040zM0 1050h20v10H0zM90 1050h30v10H90zM300 1050h10v10H300zM400 1050h10v10H400zM660 1050h10v10H660zM730 1050h10v10H730zM800 1050h30v10H800zM870 1050h10v10H870zM920 1050h10v10H920zM1120 1050h20v10H1120zM230 1060h20v10H230zM290 1060h10v10H290zM490 1060h10v10H490zM700 1060h10v10H700zM730 1060h10v10H730zM770 1060h10v10H770zM870 1060h20v10H870zM1130 1060h10v10H1130zM450 1070h10v10H450zM700 1070h20v10H700zM730 1070h10v10H730zM770 1070h20v10H770zM1080 1070h20v10H1080zM10 1080h10v10H10zM290 1080h10v10H290zM580 1080h10v10H580zM620 1080h10v10H620zM700 1080h20v10H700zM770 1080h10v10H770zM790 1080h20v10H790zM40 1090h10v10H40zM180 1090h10v10H180zM210 1090h10v10H210zM250 1090h10v10H250zM510 1090h10v10H510zM580 1090h10v10H580zM660 1090h10v10H660zM700 1090h10v10H700zM790 1090h20v10H790zM840 1090h20v10H840zM880 1090h10v10H880zM10 1100h10v10H10zM180 1100h30v10H180zM250 1100h10v10H250zM380 1100h10v10H380zM510 1100h10v10H510zM590 1100h10v10H590zM660 1100h10v10H660zM800 1100h10v10H800zM850 1100h10v10H850zM890 1100h20v10H890zM1070 1100h20v10H1070zM1170 1100h10v10H1170zM100 1110h10v10H100zM150 1110h10v10H150zM510 1110h20v10H510zM590 1110h10v10H590zM710 1110h20v10H710zM850 1110h10v10H850zM1060 1110h20v10H1060zM1160 1110h30v10H1160zM490 1120h20v10H490zM620 1120h30v10H620zM710 1120h20v10H710zM960 1120h20v10H960zM1100 1120h10v10H1100zM1130 1120h10v10H1130zM190 1130h20v10H190zM400 1130h10v10H400zM490 1130h20v10H490zM620 1130h20v10H620zM710 1130h10v10H710zM750 1130h10v10H750zM870 1130h10v10H870zM900 1130h20v10H900zM950 1130h30v10H950zM1130 1130h10v10H1130zM10 1140h10v10H10zM60 1140h20v10H60zM200 1140h10v10H200zM290 1140h10v10H290zM450 1140h20v10H450zM500 1140h10v10H500zM520 1140h10v10H520zM870 1140h10v10H870zM900 1140h20v10H900zM970 1140h20v10H970zM60 1150h20v10H60zM150 1150h10v10H150zM440 1150h20v10H440zM500 1150h40v10H500zM630 1150h10v10H630zM680 1150h20v10H680zM770 1150h10v10H770zM870 1150h10v10H870zM1000 1150h10v10H1000zM10 1160h10v10H10zM480 1160h10v10H480zM510 1160h20v10H510zM590 1160h10v10H590zM700 1160h10v10H700zM770 1160h10v10H770zM870 1160h10v10H870zM1050 1160h20v10H1050zM1110 1160h30v10H1110zM0 1170h10v10H0zM30 1170h10v10H30zM350 1170h20v10H350zM700 1170h20v10H700zM800 1170h20v10H800zM870 1170h20v10H870zM970 1170h20v10H970zM1110 1170h30v10H1110zM0 1180h30v10H0zM410 1180h10v10H410zM460 1180h10v10H460zM680 1180h30v10H680zM870 1180h20v10H870zM930 1180h10v10H930zM1130 1180h10v10H1130zM1190 1180h10v10H1190zM0 1190h30v10H0zM310 1190h10v10H310zM330 1190h10v10H330zM680 1190h30v10H680zM840 1190h20v10H840zM920 1190h10v10H920zM1010 1190h10v10H1010zM1190 1190h10v10H1190z"/><rect x="0" y="580" width="560" height="30" fill="#0078ff" fill-opacity="0.270"/><rect x="0" y="610" width="580" height="20" fill="#0018e0" fill-opacity="0.240"/><rect x="630" y="590" width="130" height="20" fill="#0070ff" fill-opacity="0.180"/><rect x="640" y="610" width="90" height="20" fill="#0020e0" fill-opacity="0.180"/><rect x="600" y="630" width="30" height="50" fill="#0080ff" fill-opacity="0.330"/><rect x="610" y="650" width="30" height="50" fill="#0078ff" fill-opacity="0.270"/><rect x="620" y="690" width="30" height="70" fill="#0070ff" fill-opacity="0.180"/><rect x="560" y="630" width="30" height="40" fill="#0020e8" fill-opacity="0.240"/><rect x="610" y="550" width="20" height="20" fill="#0020e8" fill-opacity="0.270"/><rect x="540" y="950" width="10" height="90" fill="#0020e8" fill-opacity="0.210"/><rect x="550" y="960" width="10" height="80" fill="#0078ff" fill-opacity="0.240"/><rect x="560" y="950" width="10" height="100" fill="#0020e8" fill-opacity="0.210"/><rect x="570" y="970" width="10" height="90" fill="#0078ff" fill-opacity="0.240"/><rect x="580" y="960" width="10" height="90" fill="#0020e8" fill-opacity="0.180"/><rect x="590" y="1000" width="10" height="110" fill="#0078ff" fill-opacity="0.210"/><rect x="620" y="170" width="10" height="70" fill="#0080ff" fill-opacity="0.270"/><rect x="610" y="190" width="10" height="60" fill="#0020e8" fill-opacity="0.210"/><rect x="690" y="150" width="10" height="70" fill="#0078ff" fill-opacity="0.240"/><rect x="590" y="570" width="10" height="10" fill="#0090ff"/><rect x="600" y="570" width="10" height="10" fill="#10c8ff"/><rect x="570" y="580" width="10" height="10" fill="#1870ff"/><rect x="580" y="580" width="10" height="10" fill="#30d8ff"/><rect x="590" y="580" width="10" height="10" fill="#a0ffa0"/><rect x="600" y="580" width="10" height="10" fill="#ffff30"/><rect x="610" y="580" width="10" height="10" fill="#80ffb0"/><rect x="620" y="580" width="10" height="10" fill="#00b0ff"/><rect x="580" y="590" width="10" height="10" fill="#60ffd8"/><rect x="590" y="590" width="10" height="10" fill="#ff8000"/><rect x="600" y="590" width="10" height="10" fill="#ff0000"/><rect x="610" y="590" width="10" height="10" fill="#ffff00"/><rect x="620" y="590" width="10" height="10" fill="#00c8ff"/><rect x="580" y="600" width="10" height="10" fill="#80ffd0"/><rect x="590" y="600" width="10" height="10" fill="#ff4010"/><rect x="600" y="600" width="10" height="10" fill="#c00000"/><rect x="610" y="600" width="10" height="10" fill="#ffe000"/><rect x="620" y="600" width="10" height="10" fill="#00c8ff"/><rect x="560" y="610" width="10" height="10" fill="#0000a0"/><rect x="580" y="610" width="10" height="10" fill="#20ffff"/><rect x="590" y="610" width="10" height="10" fill="#ffff00"/><rect x="600" y="610" width="10" height="10" fill="#ffb000"/><rect x="610" y="610" width="10" height="10" fill="#a0ffa0"/><rect x="620" y="610" width="10" height="10" fill="#00c0ff"/><rect x="630" y="610" width="10" height="10" fill="#0000c0"/><rect x="580" y="620" width="10" height="10" fill="#1868ff"/><rect x="590" y="620" width="10" height="10" fill="#30ffff"/><rect x="600" y="620" width="10" height="10" fill="#30ffff"/><rect x="610" y="620" width="10" height="10" fill="#00c0ff"/><rect x="590" y="630" width="10" height="10" fill="#0088ff"/><rect x="600" y="630" width="10" height="10" fill="#0080ff"/></svg>
<div class="a" style="left:236px;top:106px;width:1px;height:1200px;background:#000018"></div>
<div class="a" style="left:536px;top:106px;width:1px;height:1200px;background:#000018"></div>
<div class="a" style="left:836px;top:106px;width:1px;height:1200px;background:#000018"></div>
<div class="a" style="left:1136px;top:106px;width:1px;height:1200px;background:#000018"></div>
<div class="a" style="left:166px;top:331px;width:1200px;height:1px;background:#000018"></div>
<div class="a" style="left:166px;top:631px;width:1200px;height:1px;background:#000018"></div>
<div class="a" style="left:166px;top:931px;width:1200px;height:1px;background:#000018"></div>
<div class="a" style="left:166px;top:1231px;width:1200px;height:1px;background:#000018"></div>
<div class="a" style="left:165px;top:105px;width:1203px;height:1203px;box-sizing:border-box;border:1px solid;border-color:#00008c #0000e4 #0000e4 #00008c"></div>
<div class="a" style="left:166px;top:106px;width:1201px;height:1201px;box-sizing:border-box;border:2px solid #0000e4"></div>
<div class="a" style="left:153px;top:1422px;width:1228px;height:32px;box-sizing:border-box;border:1px solid #000;background:linear-gradient(to right,rgb(0, 0, 165) 0.00%,rgb(0, 0, 255) 7.41%,rgb(0, 10, 255) 8.31%,rgb(0, 130, 255) 20.11%,rgb(0, 170, 255) 24.19%,rgb(0, 205, 255) 28.26%,rgb(0, 255, 255) 33.96%,rgb(30, 255, 255) 36.40%,rgb(70, 255, 240) 40.47%,rgb(100, 255, 210) 44.54%,rgb(140, 255, 180) 47.80%,rgb(170, 255, 140) 51.06%,rgb(210, 255, 100) 55.94%,rgb(240, 255, 80) 59.20%,rgb(255, 255, 45) 61.64%,rgb(255, 255, 0) 66.53%,rgb(255, 195, 0) 73.05%,rgb(255, 165, 0) 77.12%,rgb(255, 125, 0) 81.19%,rgb(255, 75, 0) 85.26%,rgb(255, 40, 0) 88.52%,rgb(255, 0, 0) 93.40%,rgb(230, 0, 0) 96.66%,rgb(185, 0, 0) 100.00%)"></div>
<div class="a" style="left:153px;top:1454px;width:1px;height:3px;background:#000"></div>
<div class="a" style="left:460px;top:1454px;width:1px;height:3px;background:#000"></div>
<div class="a" style="left:767px;top:1454px;width:1px;height:3px;background:#000"></div>
<div class="a" style="left:1074px;top:1454px;width:1px;height:3px;background:#000"></div>
<div class="t" style="left:584.72px;top:49.64px;font-size:44.93px;transform:scaleX(0.9136);color:#0000dc">R</div><div class="t" style="left:614.88px;top:49.64px;font-size:44.93px;transform:scaleX(0.8080);color:#0000dc">F</div><div class="t" style="left:638.50px;top:49.64px;font-size:44.93px;transform:scaleX(0.8934);color:#0000dc">C</div><div class="t" style="left:679.58px;top:48.97px;font-size:44.93px;transform:scale(0.6200,1.2100);color:#0000dc">J</div><div class="t" style="left:695.47px;top:49.64px;font-size:44.93px;transform:scaleX(1.0142);color:#0000dc">0</div><div class="t" style="left:722.77px;top:49.64px;font-size:44.93px;transform:scaleX(0.9645);color:#0000dc">2</div><div class="t" style="left:749.90px;top:49.64px;font-size:44.93px;transform:scaleX(1.0142);color:#0000dc">0</div><div class="t" style="left:776.81px;top:49.64px;font-size:44.93px;transform:scaleX(1.0473);color:#0000dc">6</div><div class="t" style="left:805.11px;top:49.64px;font-size:44.93px;transform:scaleX(1.2294);color:#0000dc">+</div><div class="t" style="left:840.34px;top:49.64px;font-size:44.93px;transform:scaleX(1.0142);color:#0000dc">0</div><div class="t" style="left:867.56px;top:49.64px;font-size:44.93px;transform:scaleX(1.0142);color:#0000dc">0</div><div class="t" style="left:894.82px;top:49.64px;font-size:44.93px;transform:scaleX(1.0112);color:#0000dc">4</div><div class="t" style="left:922.24px;top:49.64px;font-size:44.93px;transform:scaleX(0.9854);color:#0000dc">7</div>
<div class="t" style="left:223.79px;top:1318.67px;font-size:28.45px;transform:scaleX(1.0338);color:#000">1.0</div>
<div class="t" style="left:522.81px;top:1319.62px;font-size:26.76px;transform:scaleX(1.1125);color:#000">0.5</div>
<div class="t" style="left:822.81px;top:1319.62px;font-size:26.76px;transform:scaleX(1.1125);color:#000">0.0</div>
<div class="t" style="left:1113.65px;top:1319.02px;font-size:27.46px;transform:scaleX(1.0912);color:#000">-0.5</div>
<div class="t" style="left:305.53px;top:1348.48px;font-size:33.04px;transform:scaleX(0.9334);color:#000">R</div><div class="t" style="left:328.13px;top:1348.48px;font-size:33.04px;transform:scaleX(0.9747);color:#000">i</div><div class="t" style="left:336.55px;top:1348.48px;font-size:33.04px;transform:scaleX(1.0613);color:#000">g</div><div class="t" style="left:357.06px;top:1348.48px;font-size:33.04px;transform:scaleX(1.0675);color:#000">h</div><div class="t" style="left:377.23px;top:1348.48px;font-size:33.04px;transform:scaleX(1.3187);color:#000">t</div><div class="t" style="left:400.57px;top:1348.48px;font-size:33.04px;transform:scaleX(0.8791);color:#000">a</div><div class="t" style="left:420.61px;top:1348.48px;font-size:33.04px;transform:scaleX(0.9299);color:#000">s</div><div class="t" style="left:436.81px;top:1348.48px;font-size:33.04px;transform:scaleX(0.9860);color:#000">c</div><div class="t" style="left:454.41px;top:1348.48px;font-size:33.04px;transform:scaleX(1.0585);color:#000">e</div><div class="t" style="left:474.66px;top:1348.48px;font-size:33.04px;transform:scaleX(1.0549);color:#000">n</div><div class="t" style="left:495.32px;top:1348.48px;font-size:33.04px;transform:scaleX(0.9299);color:#000">s</div><div class="t" style="left:512.19px;top:1348.48px;font-size:33.04px;transform:scaleX(0.9747);color:#000">i</div><div class="t" style="left:520.66px;top:1348.48px;font-size:33.04px;transform:scaleX(1.0260);color:#000">o</div><div class="t" style="left:540.52px;top:1348.48px;font-size:33.04px;transform:scaleX(1.0549);color:#000">n</div>
<div class="t" style="left:580.65px;top:1348.90px;font-size:32.39px;transform:scaleX(1.0388);color:#000">0</div><div class="t" style="left:600.81px;top:1348.90px;font-size:32.39px;transform:scaleX(0.9878);color:#000">2</div><div class="t" style="left:620.63px;top:1348.90px;font-size:32.39px;transform:scaleX(1.0799);color:#000">:</div><div class="t" style="left:631.45px;top:1348.90px;font-size:32.39px;transform:scaleX(1.0388);color:#000">0</div><div class="t" style="left:651.32px;top:1348.90px;font-size:32.39px;transform:scaleX(1.0726);color:#000">6</div><div class="t" style="left:671.43px;top:1348.90px;font-size:32.39px;transform:scaleX(1.0799);color:#000">:</div><div class="t" style="left:682.65px;top:1348.90px;font-size:32.39px;transform:scaleX(0.9771);color:#000">5</div><div class="t" style="left:702.72px;top:1348.90px;font-size:32.39px;transform:scaleX(0.9884);color:#000">1</div><div class="t" style="left:721.91px;top:1348.90px;font-size:32.39px;transform:scaleX(1.0799);color:#000">.</div><div class="t" style="left:732.95px;top:1348.90px;font-size:32.39px;transform:scaleX(0.9884);color:#000">1</div><div class="t" style="left:752.86px;top:1348.90px;font-size:32.39px;transform:scaleX(1.0093);color:#000">7</div><div class="t" style="left:772.78px;top:1348.90px;font-size:32.39px;transform:scaleX(1.0388);color:#000">0</div><div class="t" style="left:793.24px;top:1348.90px;font-size:32.39px;transform:scaleX(0.9978);color:#000">3</div><div class="t" style="left:812.96px;top:1348.90px;font-size:32.39px;transform:scaleX(1.0394);color:#000">8</div><div class="t" style="left:833.07px;top:1348.90px;font-size:32.39px;transform:scaleX(1.0388);color:#000">0</div>
<div class="t" style="left:1092.97px;top:1348.48px;font-size:33.04px;transform:scaleX(0.8210);color:#000">(</div><div class="t" style="left:1104.97px;top:1348.48px;font-size:33.04px;transform:scaleX(0.8722);color:#000">a</div><div class="t" style="left:1124.21px;top:1348.48px;font-size:33.04px;transform:scaleX(1.2378);color:#000">r</div><div class="t" style="left:1137.40px;top:1348.48px;font-size:33.04px;transform:scaleX(0.9783);color:#000">c</div><div class="t" style="left:1155.16px;top:1348.48px;font-size:33.04px;transform:scaleX(1.1052);color:#000">m</div><div class="t" style="left:1186.78px;top:1348.48px;font-size:33.04px;transform:scaleX(0.9670);color:#000">i</div><div class="t" style="left:1195.39px;top:1348.48px;font-size:33.04px;transform:scaleX(1.0466);color:#000">n</div><div class="t" style="left:1217.33px;top:1348.48px;font-size:33.04px;transform:scaleX(0.8368);color:#000">)</div>
<div class="t" style="left:152.21px;top:1464.82px;font-size:27.46px;transform:scaleX(1.0428);color:#000">-</div><div class="t" style="left:162.47px;top:1464.82px;font-size:27.46px;transform:scaleX(1.0447);color:#000">0</div><div class="t" style="left:179.15px;top:1464.82px;font-size:27.46px;transform:scaleX(1.0861);color:#000">.</div><div class="t" style="left:188.25px;top:1464.82px;font-size:27.46px;transform:scaleX(1.0447);color:#000">0</div><div class="t" style="left:205.38px;top:1464.82px;font-size:27.46px;transform:scaleX(1.0447);color:#000">0</div><div class="t" style="left:222.52px;top:1464.82px;font-size:27.46px;transform:scaleX(1.0447);color:#000">0</div><div class="t" style="left:239.50px;top:1464.82px;font-size:27.46px;transform:scaleX(1.0566);color:#000">9</div>
<div class="t" style="left:412.84px;top:1464.82px;font-size:27.46px;transform:scaleX(1.0515);color:#000">0</div><div class="t" style="left:429.63px;top:1464.82px;font-size:27.46px;transform:scaleX(1.0932);color:#000">.</div><div class="t" style="left:438.79px;top:1464.82px;font-size:27.46px;transform:scaleX(1.0515);color:#000">0</div><div class="t" style="left:456.04px;top:1464.82px;font-size:27.46px;transform:scaleX(1.0515);color:#000">0</div><div class="t" style="left:473.34px;top:1464.82px;font-size:27.46px;transform:scaleX(0.9999);color:#000">2</div><div class="t" style="left:490.85px;top:1464.82px;font-size:27.46px;transform:scaleX(1.0101);color:#000">3</div>
<div class="t" style="left:719.86px;top:1464.82px;font-size:27.46px;transform:scaleX(1.0353);color:#000">0</div><div class="t" style="left:736.39px;top:1464.82px;font-size:27.46px;transform:scaleX(1.0763);color:#000">.</div><div class="t" style="left:745.40px;top:1464.82px;font-size:27.46px;transform:scaleX(1.0353);color:#000">0</div><div class="t" style="left:762.70px;top:1464.82px;font-size:27.46px;transform:scaleX(0.9851);color:#000">1</div><div class="t" style="left:779.43px;top:1464.82px;font-size:27.46px;transform:scaleX(0.9845);color:#000">2</div><div class="t" style="left:796.36px;top:1464.82px;font-size:27.46px;transform:scaleX(1.0353);color:#000">0</div>
<div class="t" style="left:1026.85px;top:1464.82px;font-size:27.46px;transform:scaleX(1.0431);color:#000">0</div><div class="t" style="left:1043.51px;top:1464.82px;font-size:27.46px;transform:scaleX(1.0844);color:#000">.</div><div class="t" style="left:1052.59px;top:1464.82px;font-size:27.46px;transform:scaleX(1.0431);color:#000">0</div><div class="t" style="left:1069.75px;top:1464.82px;font-size:27.46px;transform:scaleX(0.9919);color:#000">2</div><div class="t" style="left:1086.80px;top:1464.82px;font-size:27.46px;transform:scaleX(1.0437);color:#000">8</div><div class="t" style="left:1104.23px;top:1464.82px;font-size:27.46px;transform:scaleX(0.9925);color:#000">1</div>
<div class="t" style="left:1288.48px;top:1464.82px;font-size:27.46px;transform:scaleX(1.0230);color:#000">0</div><div class="t" style="left:1304.81px;top:1464.82px;font-size:27.46px;transform:scaleX(1.0635);color:#000">.</div><div class="t" style="left:1313.71px;top:1464.82px;font-size:27.46px;transform:scaleX(1.0230);color:#000">0</div><div class="t" style="left:1330.83px;top:1464.82px;font-size:27.46px;transform:scaleX(0.9622);color:#000">5</div><div class="t" style="left:1347.28px;top:1464.82px;font-size:27.46px;transform:scaleX(1.0230);color:#000">0</div><div class="t" style="left:1364.39px;top:1464.82px;font-size:27.46px;transform:scaleX(0.9622);color:#000">5</div>
<div class="t" style="left:122.98px;top:343.21px;font-size:27.75px;transform:rotate(-90deg) scaleX(1.0628);color:#000">1.0</div>
<div class="t" style="left:122.96px;top:643.05px;font-size:27.89px;transform:rotate(-90deg) scaleX(1.0292);color:#000">0.5</div>
<div class="t" style="left:123.42px;top:942.85px;font-size:27.46px;transform:rotate(-90deg) scaleX(1.0478);color:#000">0.0</div>
<div class="t" style="left:122.92px;top:1253.35px;font-size:28.17px;transform:rotate(-90deg) scaleX(1.0639);color:#000">-0.5</div>
<div class="t" style="left:87.75px;top:1133.05px;font-size:34.49px;transform:rotate(-90deg) scaleX(0.9614);color:#000">D</div><div class="t" style="left:87.75px;top:1108.53px;font-size:34.49px;transform:rotate(-90deg) scaleX(1.0185);color:#000">e</div><div class="t" style="left:87.75px;top:1088.53px;font-size:34.49px;transform:rotate(-90deg) scaleX(0.9487);color:#000">c</div><div class="t" style="left:87.75px;top:1070.07px;font-size:34.49px;transform:rotate(-90deg) scaleX(0.9378);color:#000">l</div><div class="t" style="left:87.75px;top:1061.02px;font-size:34.49px;transform:rotate(-90deg) scaleX(0.9378);color:#000">i</div><div class="t" style="left:87.75px;top:1052.29px;font-size:34.49px;transform:rotate(-90deg) scaleX(1.0150);color:#000">n</div><div class="t" style="left:87.75px;top:1031.76px;font-size:34.49px;transform:rotate(-90deg) scaleX(0.8459);color:#000">a</div><div class="t" style="left:87.75px;top:1012.34px;font-size:34.49px;transform:rotate(-90deg) scaleX(1.2688);color:#000">t</div><div class="t" style="left:87.75px;top:998.91px;font-size:34.49px;transform:rotate(-90deg) scaleX(0.9378);color:#000">i</div><div class="t" style="left:87.75px;top:990.41px;font-size:34.49px;transform:rotate(-90deg) scaleX(0.9871);color:#000">o</div><div class="t" style="left:87.75px;top:970.46px;font-size:34.49px;transform:rotate(-90deg) scaleX(1.0150);color:#000">n</div>
<div class="t" style="left:89.06px;top:929.54px;font-size:31.97px;transform:rotate(-90deg) scaleX(1.2775);color:#000">+</div><div class="t" style="left:89.06px;top:903.49px;font-size:31.97px;transform:rotate(-90deg) scaleX(1.0539);color:#000">0</div><div class="t" style="left:89.06px;top:883.37px;font-size:31.97px;transform:rotate(-90deg) scaleX(1.0539);color:#000">0</div><div class="t" style="left:89.06px;top:863.46px;font-size:31.97px;transform:rotate(-90deg) scaleX(1.0956);color:#000">:</div><div class="t" style="left:89.06px;top:852.59px;font-size:31.97px;transform:rotate(-90deg) scaleX(1.0508);color:#000">4</div><div class="t" style="left:89.06px;top:832.31px;font-size:31.97px;transform:rotate(-90deg) scaleX(1.0240);color:#000">7</div><div class="t" style="left:89.06px;top:812.59px;font-size:31.97px;transform:rotate(-90deg) scaleX(1.0956);color:#000">:</div><div class="t" style="left:89.06px;top:801.69px;font-size:31.97px;transform:rotate(-90deg) scaleX(1.0022);color:#000">2</div><div class="t" style="left:89.06px;top:781.57px;font-size:31.97px;transform:rotate(-90deg) scaleX(1.0022);color:#000">2</div><div class="t" style="left:89.06px;top:762.04px;font-size:31.97px;transform:rotate(-90deg) scaleX(1.0956);color:#000">.</div><div class="t" style="left:89.06px;top:750.99px;font-size:31.97px;transform:rotate(-90deg) scaleX(1.0028);color:#000">1</div><div class="t" style="left:89.06px;top:731.20px;font-size:31.97px;transform:rotate(-90deg) scaleX(1.0508);color:#000">4</div><div class="t" style="left:89.06px;top:711.35px;font-size:31.97px;transform:rotate(-90deg) scaleX(1.0883);color:#000">6</div><div class="t" style="left:89.06px;top:691.00px;font-size:31.97px;transform:rotate(-90deg) scaleX(1.0546);color:#000">8</div><div class="t" style="left:89.06px;top:670.49px;font-size:31.97px;transform:rotate(-90deg) scaleX(1.0028);color:#000">1</div>
<div class="t" style="left:88.13px;top:410.53px;font-size:33.33px;transform:rotate(-90deg) scaleX(0.8127);color:#000">(</div><div class="t" style="left:88.13px;top:398.55px;font-size:33.33px;transform:rotate(-90deg) scaleX(0.8633);color:#000">a</div><div class="t" style="left:88.13px;top:379.33px;font-size:33.33px;transform:rotate(-90deg) scaleX(1.2251);color:#000">r</div><div class="t" style="left:88.13px;top:366.16px;font-size:33.33px;transform:rotate(-90deg) scaleX(0.9683);color:#000">c</div><div class="t" style="left:88.13px;top:348.43px;font-size:33.33px;transform:rotate(-90deg) scaleX(1.0939);color:#000">m</div><div class="t" style="left:88.13px;top:316.87px;font-size:33.33px;transform:rotate(-90deg) scaleX(0.9571);color:#000">i</div><div class="t" style="left:88.13px;top:308.26px;font-size:33.33px;transform:rotate(-90deg) scaleX(1.0360);color:#000">n</div><div class="t" style="left:88.13px;top:286.35px;font-size:33.33px;transform:rotate(-90deg) scaleX(0.8283);color:#000">)</div>
<div class="a" style="left:1px;top:709px;width:1535px;height:1px;background:#4cc85a"></div>
<div class="a" style="left:767px;top:1px;width:1px;height:1417px;background:#4cc85a"></div>
<div class="a" style="left:165px;top:709px;width:1203px;height:1px;background:#20c3b4"></div>
<div class="a" style="left:767px;top:105px;width:1px;height:1203px;background:#20c3b4"></div>
</body></html>
